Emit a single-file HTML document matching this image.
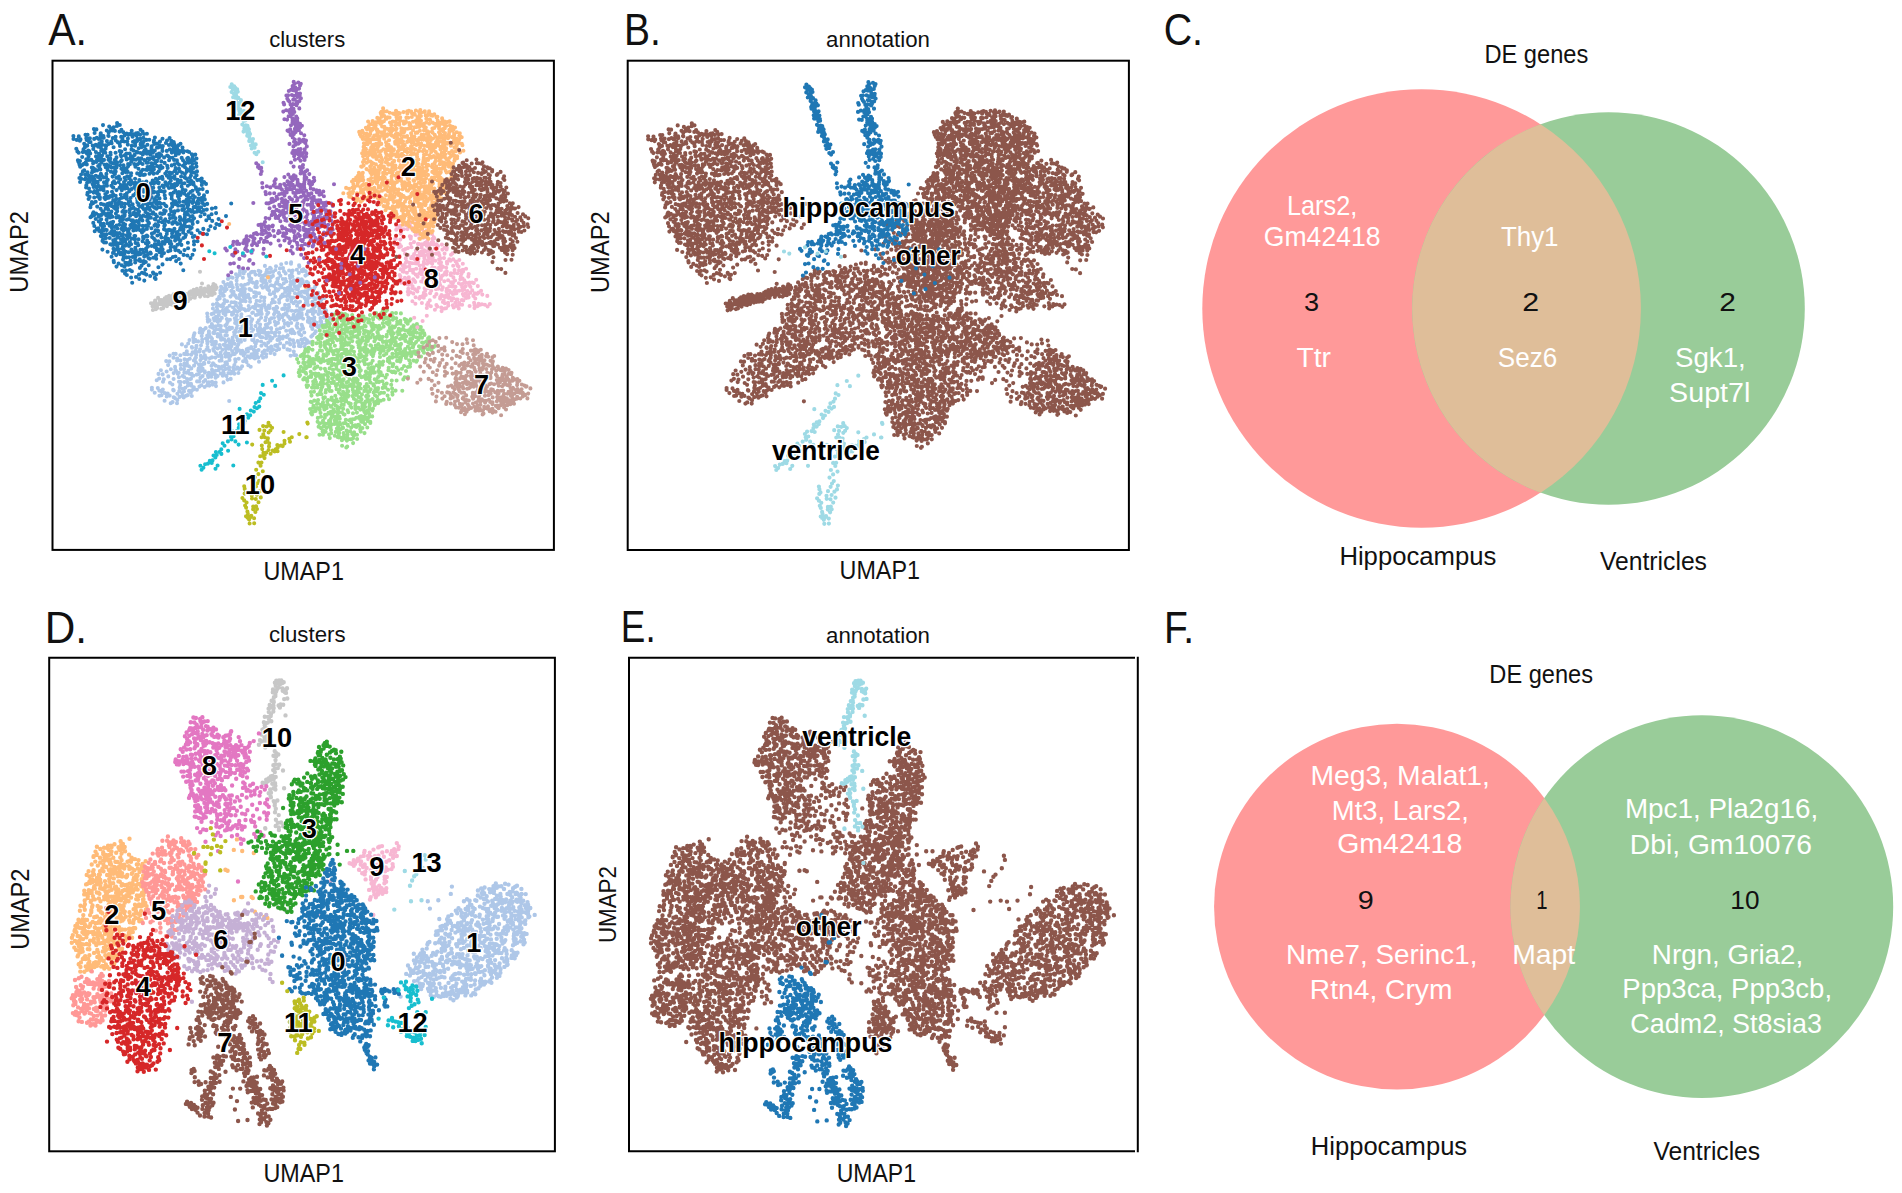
<!DOCTYPE html>
<html lang="en"><head><meta charset="utf-8"><title>UMAP clusters, annotation and DE genes</title>
<style>html,body{margin:0;padding:0;background:#fff}body{width:1902px;height:1193px;overflow:hidden}svg{display:block}</style>
</head><body>
<svg width="1902" height="1193" viewBox="0 0 1902 1193">
<defs>
<path id="a0" d="M107.5 223.2h0M193.3 201.4h0M97 159.6h0M134.6 184.3h0M185.1 237h0M161.3 161.4h0M119.3 224.8h0M143.3 238.5h0M90.5 217.2h0M196.5 166.6h0M139.1 225.2h0M131 180.4h0M179.9 243.3h0M186.8 169.1h0M154.1 191.9h0M80 161.1h0M145.7 236.4h0M110.8 171.8h0M174.3 144h0M129 229h0M165.7 236.9h0M204 195.4h0M171.9 236.9h0M157 143.6h0M128.1 203.8h0M188.8 162.7h0M157.9 231.2h0M131.7 130.7h0M110.9 222.5h0M98.6 216.8h0M147.5 205.5h0M140.6 188.4h0M116.4 177.7h0M197.3 180.1h0M184.9 174.1h0M199 194.1h0M171.2 211.5h0M86.3 185.4h0M129.7 205.7h0M90.2 153.5h0M99.9 159.5h0M157 250.3h0M204 204.6h0M132.4 182.7h0M101.4 214.9h0M142.8 154.5h0M145.3 269.5h0M137.8 152.4h0M153.3 173.1h0M103.6 152.6h0M107.6 251.7h0M147 186.9h0M124.7 214.9h0M168.2 156.3h0M121.9 243.2h0M130.4 134.1h0M86.8 164.4h0M86.7 140h0M129.9 242.1h0M146.1 248.6h0M116.1 242.6h0M123.1 259.6h0M139.9 161.4h0M142.8 182.4h0M187.4 255.5h0M215.6 207.7h0M94.7 231.3h0M100.6 208.7h0M111.3 231.9h0M136.1 216.3h0M97.5 181.8h0M131.5 238.8h0M175.7 155.2h0M112.6 176.6h0M103.4 211.5h0M185 167.2h0M179.9 217.1h0M120.3 179.3h0M166 230.3h0M131.4 220.4h0M171.7 198.6h0M96.1 213.5h0M116.5 167.6h0M103.4 235.6h0M150.6 169.9h0M169 188h0M167.5 185.8h0M78.3 161.5h0M133.5 150.6h0M104.6 164.8h0M115.1 168.9h0M203.8 210.1h0M117 125.9h0M141.4 147.2h0M167.2 155.5h0M114.3 227h0M125.2 242h0M145.8 262h0M153 272.6h0M97.7 182.7h0M142.5 249.8h0M130.9 156h0M162.1 147.9h0M137.9 133.1h0M153.9 169.3h0M175.1 152.2h0M111.8 233.9h0M138.7 222.8h0M145.8 149.9h0M179.4 201.9h0M135.7 252.1h0M87.8 181.7h0M169.1 229.9h0M152.2 171.5h0M112.1 230.8h0M190.8 167h0M184.8 223h0M211.9 208.6h0M193 195.3h0M135.4 256.4h0M137.9 209.8h0M197.6 222.1h0M159.5 198.4h0M85.1 151.8h0M124.5 215.9h0M131.1 244.2h0M148.5 222.3h0M202.6 189.1h0M162.4 242h0M122.9 234.4h0M155 240.1h0M196.1 189h0M191.8 154.2h0M146.9 228.9h0M167 140.6h0M179.9 171.2h0M121.8 265.2h0M151.7 197h0M158.6 221.4h0M177.5 244.8h0M191.2 172.2h0M124.4 207.1h0M184.4 183.3h0M102.2 144.9h0M101.6 142.5h0M128.5 264.8h0M147.8 162.7h0M124.9 239.5h0M183.4 229.6h0M126.2 229.6h0M103.5 188.1h0M97.9 196.7h0M143.2 215.6h0M97.2 206.6h0M76.3 148.7h0M137 198.3h0M82.2 157h0M116.2 249.4h0M162.2 242.9h0M113.1 221.7h0M185.4 163.6h0M156.2 182.3h0M111.4 211.6h0M178.9 153.6h0M174.5 150.4h0M103.5 223.9h0M101 148.2h0M106.2 206h0M194 241.4h0M145.8 243.2h0M151.5 148.3h0M138.5 228.6h0M157.1 161.1h0M91.9 172.8h0M105.6 148.8h0M111.2 141.5h0M135.2 259.9h0M116.2 255.1h0M125.6 180h0M207.2 203.9h0M124.4 253.7h0M153.8 273.8h0M183.3 152.5h0M181.6 186.5h0M100.5 135.4h0M96 156.4h0M119.5 143.8h0M87.8 138.7h0M162.5 264.4h0M183.5 238h0M105.3 199.1h0M103.6 204.6h0M164.3 226.1h0M142 232.6h0M146.7 203.5h0M125 273.6h0M140.8 172.5h0M175.6 168.1h0M129.7 237h0M113.7 127.3h0M79.9 140.8h0M197 171.4h0M140.2 139.2h0M123.9 186.3h0M138.2 245.3h0M164 192.1h0M106.5 234.3h0M102.8 160.7h0M120 145.9h0M148 246.6h0M119.5 233h0M131.2 173.3h0M198.2 207.2h0M151.9 233.6h0M114.1 231h0M179.2 151.9h0M138.5 254.5h0M146 255.5h0M77.4 151.4h0M107.8 179.7h0M128.7 183.1h0M119.5 203.2h0M120 198.8h0M85.8 162.6h0M87.1 182.8h0M191.7 227.8h0M186.1 178.4h0M113.8 252h0M106.7 196.2h0M111 162.4h0M139 260.4h0M120 165.3h0M188.6 194h0M161.5 246.9h0M191.6 181.1h0M146.9 133.8h0M160.3 213.4h0M194 244.5h0M149 195.1h0M174.2 247.1h0M146.7 162.7h0M122.3 173.3h0M146.3 250.9h0M173 215.2h0M159.3 187.6h0M169.8 149.4h0M90.9 204.8h0M203.3 228.9h0M172.1 233.6h0M164.4 243.7h0M177.7 181.8h0M174.6 171.1h0M189.2 226.5h0M147.5 213.8h0M125.1 224.5h0M113.3 245h0M161.3 191.1h0M188.3 205h0M126.7 185h0M135.2 209h0M148.7 265.2h0M196.8 211.7h0M200 232.8h0M179.5 234.5h0M146.9 153.7h0M82.8 152.1h0M89.1 141.9h0M160.1 272.8h0M142.6 241.2h0M134.3 164.1h0M117.6 244.2h0M126.7 159.4h0M165.5 240.2h0M86.3 159.2h0M125 188.6h0M171.8 187.5h0M201.5 198.1h0M135.6 242.9h0M131.9 271.3h0M109.7 238h0M129.4 134h0M132.5 257h0M99.9 197.4h0M126.7 198.7h0M140.6 253.9h0M191 175.6h0M139.9 206.5h0M81.3 178.9h0M135.2 262.5h0M153.9 207h0M150.8 183.2h0M173.1 222.1h0M129.8 270h0M114.9 130.9h0M141.5 265.8h0M129.8 234.1h0M197.5 241.3h0M79.4 178h0M134.9 239.4h0M162.5 167.6h0M102.5 150.9h0M99.8 198.9h0M92.9 167.7h0M184 209.4h0M99.4 167.6h0M150 203.3h0M123.1 219.2h0M169.9 243.6h0M142.8 196.7h0M125.3 197.4h0M114.8 160h0M131.4 249.5h0M84.8 147.4h0M85.1 174.5h0M121.1 239.7h0M135 255.7h0M165.8 184.3h0M97.8 160.5h0M140 175.3h0M203.8 196.6h0M146.3 152.9h0M147.3 220.6h0M128.8 201.6h0M154.9 244.1h0M177.6 146h0M188.1 211h0M115.7 171.6h0M163 221.3h0M123.6 257h0M124.6 177.8h0M126.5 153.5h0M93.7 181.1h0M115.1 200.3h0M159.1 153.6h0M90.5 176.5h0M170.4 250.5h0M103.7 137.8h0M178.9 192.1h0M113.9 262.2h0M194.2 172.6h0M128.1 166.3h0M117.1 123h0M139 252.5h0M123.5 249.5h0M101 157.2h0M121.6 188.5h0M121.5 220.9h0M193.4 168.1h0M165.9 143h0M192.5 216.1h0M76.8 139.9h0M106.7 164.5h0M88.6 156.6h0M207.1 191.9h0M110 217.5h0M142.8 169.8h0M140.1 134.7h0M160.3 168.7h0M119.7 151h0M157 216.5h0M197.6 230.3h0M147.6 246.2h0M110.3 244.2h0M143.8 261.1h0M199.8 211.1h0M180.4 228.1h0M131.7 145.8h0M143.2 175h0M123.3 230.5h0M121.5 141.2h0M165.3 173.5h0M113.2 172.3h0M174.1 187.2h0M183.3 230.1h0M126.4 257.4h0M138.5 168.8h0M98.9 194.4h0M160.3 249.4h0M132.1 224.4h0M97.1 193.4h0M122.4 211.7h0M177.4 193.5h0M92.7 145.5h0M182.2 172.7h0M181.6 205.8h0M115.6 136.8h0M182.9 165.7h0M139.2 193.8h0M103.5 230.5h0M140.7 153h0M174.7 211.3h0M162.5 138.7h0M145.7 225.7h0M100.4 169.5h0M154 140.6h0M112.7 187h0M151.7 146.3h0M107.3 192.1h0M167.2 231.3h0M120.8 194.6h0M116.3 198.7h0M192.5 202.9h0M107.3 204h0M144 151.6h0M150.8 217.7h0M138.7 148.2h0M176.1 203.3h0M84.8 179.2h0M185.8 234.9h0M148.6 242.7h0M162.3 213.9h0M141.1 142.5h0M199.6 179.8h0M94.7 186.5h0M97.7 190.4h0M124.3 141.5h0M146.8 235.6h0M115.2 183.2h0M86.3 138.3h0M157.1 179.8h0M157.6 226.6h0M125 227.5h0M141.2 171.6h0M111.2 203h0M175.4 256.5h0M154.8 150.6h0M141.3 197.1h0M124.8 155.4h0M142.5 201.2h0M126.1 270.6h0M108.5 143.9h0M144.2 256.6h0M189.4 170.5h0M142.5 207.4h0M92.7 184.2h0M131.2 208.4h0M127.7 171.9h0M132.6 204.3h0M140.5 261.1h0M121.6 160.2h0M182 183.5h0M135.9 250.3h0M133.4 207.6h0M208.5 230h0M165.8 220.9h0M208.5 216.4h0M191.5 233.3h0M175.9 222.4h0M180 229.7h0M103.6 190.3h0M175.1 240.6h0M135.7 254.2h0M187.9 214.5h0M130.9 175.6h0M156.2 197h0M120.7 154.9h0M122.3 253.9h0M78.7 152.8h0M136.5 151.7h0M125.7 211.6h0M143.6 263.2h0M126.7 168.6h0M200.5 199.7h0M170.3 259.1h0M198.7 203.3h0M94.2 197.5h0M140 230.3h0M170.8 180.7h0M126.6 244.3h0M121.4 151.5h0M107.3 156.2h0M132.5 252.4h0M142.7 225.8h0M122.4 197.6h0M93.5 212.2h0M132.2 282.7h0M171.7 165.4h0M194.2 250h0M116.5 190.1h0M150 210h0M175.3 190.5h0M137.4 200.6h0M131.6 189.1h0M169.7 172.6h0M191.7 171.6h0M164.1 157.4h0M188.1 202.2h0M181.8 226h0M142.4 220.4h0M102.5 240.9h0M121.6 235.5h0M166.8 233.9h0M159.6 252.3h0M88.6 178.9h0M115.9 213.5h0M154.4 207.6h0M105.3 152.7h0M168.2 238.8h0M155.5 214.6h0M94.9 169.3h0M196.6 175.3h0M174.6 164.3h0M129.3 178.4h0M160 141.5h0M174.9 178.8h0M206 183.9h0M154.6 219.1h0M179 168.7h0M140.6 129.8h0M108 165.2h0M86.9 153.6h0M158.4 267.3h0M135.6 193.5h0M161.2 155.1h0M88.5 175.3h0M104.1 226h0M120.9 161.4h0M90 177.8h0M152.4 213.8h0M187.1 220.9h0M110.8 130.5h0M106.4 215.7h0M189.8 201.6h0M80.1 182h0M121.2 156.2h0M175.1 204.1h0M190.5 258.1h0M187.4 207.2h0M122.9 246.4h0M165.2 198.3h0M111.3 185.8h0M192.8 155.5h0M189.1 152h0M123.2 223.2h0M102.1 230.2h0M218.6 219.1h0M101.3 162.5h0M93.1 163.2h0M96.8 137.7h0M124.8 203.7h0M117.4 205.3h0M171.3 140.9h0M103.8 177.5h0M124.2 251.2h0M158.8 171.2h0M201.8 184.9h0M98.1 146.8h0M135.5 221.8h0M153.8 141.9h0M179 239.7h0M88.3 150.5h0M140.6 144.4h0M79.6 165.1h0M183.8 165.3h0M100 222.1h0M178.9 259h0M147.8 158.5h0M172.8 217.8h0M143 229.3h0M180.3 223.7h0M187.2 158.5h0M181.1 176.5h0M186.1 226.5h0M192.7 223.9h0M99.2 230.9h0M93.9 129.1h0M193.7 207.1h0M113.6 147.2h0M153.6 173.8h0M169.1 160.3h0M174.4 228.8h0M154.8 277.9h0M166.7 241.3h0M166.8 150.9h0M83.5 149.2h0M192.9 237h0M119.7 217.6h0M178.4 237h0M154.3 199.5h0M98.6 215h0M157.2 173h0M105.8 229.8h0M145.5 212h0M169.4 182.8h0M153.1 212.4h0M142 272.8h0M106 242.5h0M160.8 218h0M138.5 239.3h0M148 225.9h0M181.4 244.9h0M123.7 240.6h0M133.7 223.5h0M164.1 210.2h0M116.5 266.6h0M99.7 164.9h0M117.1 162.3h0M184.8 217.3h0M125.9 154.4h0M171.6 184.9h0M115.8 140.4h0M99.4 143.3h0M104 182.3h0M95.8 144.7h0M112.8 138h0M196.7 203.4h0M172.5 145.2h0M172 173h0M170.4 193.9h0M115.3 202.9h0M133.7 214.2h0M191.5 211.7h0M82.2 165.1h0M159.7 145.2h0M101.5 232.5h0M174.4 176.4h0M106.6 219.7h0M159.5 202.8h0M125.4 262.9h0M127.4 238.8h0M93 203.2h0M151.4 190.6h0M197.6 191.6h0M93.3 222.9h0M149 223.2h0M128.3 134.8h0M112.4 130.4h0M125.8 172.1h0M120.7 185.1h0M164 253.1h0M136 277h0M136.2 229.9h0M177.3 148.8h0M152.9 152.8h0M159.7 177.9h0M188.7 219.8h0M180.7 263.6h0M155.5 230.4h0M93.6 192.6h0M144.3 280.6h0M115 208.6h0M117.5 246.3h0M174.3 212.7h0M138.6 205h0M125.8 251.7h0M169.6 157.5h0M104.4 197.7h0M138.4 204.9h0M122.6 216.3h0M219.4 224.9h0M121.4 129.7h0M133.6 134.2h0M100.9 173.9h0M192.6 220.3h0M172 203.6h0M148.2 218.3h0M146.4 181.5h0M150.3 252.5h0M143.4 137.9h0M162.8 146h0M188.3 198.2h0M180.8 180.8h0M79.2 163.6h0M106.7 230.1h0M168.9 145h0M102.4 249.6h0M215 228.1h0M143.6 191.8h0M153.8 183.8h0M170.5 209h0M105.7 208.6h0M135.1 178.8h0M194.1 218.3h0M106.9 180.9h0M166.4 206.2h0M98.5 185.9h0M145.9 169.8h0M147.5 167.1h0M176.9 160.2h0M186.5 199.9h0M138.8 202.4h0M198.6 198.6h0M165.7 211h0M92.1 215.9h0M153.4 257.8h0M100.9 224.9h0M176.5 185.3h0M109.7 225.7h0M110.9 214.8h0M190.1 160.4h0M90.4 207.2h0M153 157.1h0M135.3 247.9h0M184.8 214.5h0M100.3 179.5h0M100.5 137.7h0M107 185.7h0M139.3 180h0M144 134h0M89.8 181.7h0M178.5 250.8h0M153.7 192.4h0M164.9 224.9h0M129.7 153.6h0M116.5 157.4h0M181.9 191.9h0M121.4 228.9h0M199.2 189.2h0M181.7 150.9h0M146.3 274.6h0M110.3 166.4h0M168.8 221.9h0M178 210.4h0M96.4 161.9h0M132.9 220.2h0M110.6 154.7h0M169.8 175.8h0M118.6 263.6h0M117.3 228.5h0M176.9 173.3h0M137.3 192.1h0M130.4 225.3h0M94.6 133h0M107.6 169.9h0M177.7 179.8h0M135.3 165.1h0M154.5 201.3h0M120.1 220.9h0M171.7 195.7h0M90.5 142.1h0M107.7 216.3h0M183.9 151h0M95.8 175.8h0M114 207.7h0M124.5 135.4h0M193.3 199.1h0M148.8 188.8h0M149.8 199.5h0M88.6 199h0M111.5 206h0M188.1 248.2h0M162.1 176.7h0M144.7 146.7h0M104.8 234.5h0M104.1 186h0M124 182h0M127.4 188.1h0M123.5 165.4h0M138.3 158.3h0M148.5 258.1h0M156.4 208.8h0M139.1 211.6h0M111.5 244.8h0M130.6 198h0M180.5 240.2h0M200.5 216.2h0M98.8 221.4h0M113.3 240.3h0M115.3 163.1h0M130.6 184.6h0M216.1 213.1h0M135.1 145.8h0M177.5 184.2h0M158.7 182.6h0M91.3 159.9h0M167.2 165.7h0M190.4 220.8h0M112.4 216.7h0M185.1 212.8h0M125.8 211.5h0M113.3 187.6h0M111.6 167.6h0M204.6 214.3h0M155.4 161.1h0M109.2 126.6h0M162.5 185.5h0M148.1 254.1h0M194.9 197h0M192.5 254.7h0M91.8 167.5h0M209.2 218.2h0M108.6 136h0M204.5 205.1h0M113.7 167.5h0M113.5 242.2h0M141.3 158.4h0M82.9 171.4h0M126.8 275h0M183.2 232.6h0M89.9 138.2h0M122.2 248.6h0M113.7 260.9h0M137.2 173.4h0M171 230.4h0M126.8 219.8h0M116.4 165.2h0M156.2 258.8h0M193.7 184.6h0M84.2 143.7h0M85.8 178.1h0M153.9 238.6h0M132.2 227.4h0M80.2 166.8h0M107.5 168.2h0M211.6 214.2h0M126.5 158h0M186.8 195.7h0M179.2 182.5h0M143.7 230.8h0M99.4 145.3h0M155.2 163.1h0M134.6 154.9h0M129.6 209.9h0M201.7 182h0M201.7 178.7h0M133 141.7h0M164 229.3h0M181.7 157.9h0M110.5 152.8h0M126.6 235.3h0M195.2 206.9h0M136 159.7h0M166.7 171.9h0M183.2 206.1h0M119.4 243.2h0M173.6 148.2h0M146.4 139.9h0M142.9 189.9h0M119.5 187.8h0M135.5 225.7h0M105.7 167.3h0M94.3 226h0M139.5 163h0M183.3 270.2h0M144.4 273.4h0M150 158.4h0M93.6 186.9h0M115.7 140.2h0M117.2 211.3h0M196.1 163.2h0M118 178h0M199.6 207.2h0M155.3 219.4h0M117.3 208.3h0M144.3 160h0M156.4 200.7h0M167.7 168h0M118.6 249.2h0M98.2 166h0M204 182.1h0M206.8 209.6h0M184.9 201.6h0M202 200.6h0M162.4 150.9h0M102.7 227.2h0M140.4 249.9h0M151.6 163.3h0M161.6 255.9h0M164.2 213.4h0M106.2 177.2h0M116.8 245.3h0M150.4 186.9h0M94.5 179.6h0M117 235.6h0M203.4 233.8h0M96.5 187.2h0M135.2 236h0M192.5 210.3h0M183 160.3h0M196.5 158.5h0M156.3 255h0M127.2 141.6h0M100.1 176.1h0M95.7 201.8h0M93.3 149h0M123.4 238h0M134.6 141.1h0M134.4 236h0M184.7 162.4h0M197.6 201.2h0M126.7 133.6h0M154.4 143.9h0M195.3 154.6h0M174.1 159.9h0M173.5 192.6h0M171.7 177.5h0M160.8 165.9h0M172.9 257h0M119 201.5h0M160.5 203.5h0M177.5 163h0M110 233.3h0M115.5 159.5h0M110.1 161.5h0M180.3 252.3h0M123.3 210.7h0M159.5 167.6h0M117.6 142.1h0M139.9 183h0M159.5 191.1h0M107.9 205.7h0M130.5 260.7h0M157.4 235.5h0M139.8 196.6h0M113.5 248.8h0M149.7 258.8h0M153.6 167.6h0M113.2 200.2h0M135.1 187.2h0M101.8 141.2h0M116.6 225.5h0M175.6 170.9h0M132.6 136.7h0M113.3 163.3h0M97.9 176.9h0M134.6 251.2h0M87.3 194.6h0M103 239.3h0M139.1 215h0M156.5 156.2h0M95.7 219h0M119.8 125h0M194.1 212.3h0M108.1 209.3h0M88.8 160h0M174.5 236.9h0M115.6 152.7h0M132.2 156.9h0M155.6 278.9h0M104.6 213.8h0M212.2 220.9h0M87.6 134.8h0M195 177.4h0M133.7 159.4h0M158.2 225.2h0M108.3 135.7h0M173.7 215.3h0M112.3 223.4h0M149.5 173.7h0M157 147.5h0M152.1 237.1h0M154.8 247h0M129.9 164.3h0M183.4 201.8h0M108.6 132.5h0M124 184.4h0M133.3 195.4h0M164.7 162.9h0M173.7 185.5h0M139.9 267.9h0M141.7 216.9h0M137.6 164.3h0M137.6 243.2h0M126.6 196.3h0M90 191.5h0M185 219.6h0M184.5 250.1h0M149 214.4h0M180.5 143.7h0M153.5 158.9h0M170 218.2h0M140.3 138.8h0M155.9 255.8h0M81.1 174.6h0M135.7 187h0M190.3 184h0M91.9 179.3h0M106.2 145.9h0M101.3 143h0M139.3 279h0M146.4 208.9h0M105.4 145.2h0M157.2 166h0M83.9 163.9h0M129.3 191.2h0M139.7 259.4h0M166.9 175.8h0M210.5 226.2h0M119.6 131.6h0M168.2 251.2h0M121.4 206.4h0M190 197.7h0M195.8 187.2h0M108 213.3h0M145 160.5h0M130.1 215.7h0M184.4 193.6h0M172.2 206.4h0M189.9 209.9h0M87.3 145.6h0M160.5 207.2h0M115 233.2h0M113.4 235.4h0M169.3 214.8h0M158.9 154.7h0M91.9 202.1h0M125.1 149.2h0M122.4 138.2h0M129 246h0M158 207.4h0M164.7 191.2h0M109 197.6h0M102 155.5h0M121.8 190.3h0M104 159.9h0M145.3 197.2h0M182.7 189.2h0M184.8 177.4h0M121.8 160.2h0M143.7 203.7h0M204.8 199.4h0M143.8 252.8h0M182.2 209.9h0M89.6 196.9h0M99 153.8h0M105.3 194h0M147.1 170h0M77.9 160.2h0M179.9 220.3h0M157.2 203.7h0M151.5 146.9h0M216.4 224.1h0M87.6 192.8h0M112.1 226.4h0M107.3 197.9h0M201.1 207.3h0M94.4 171h0M136.1 133.4h0M129 257.3h0M130.2 201.5h0M145.3 184.9h0M188.5 231.6h0M175.5 201.3h0M147.5 236.2h0M151.6 167.6h0M202.6 203.1h0M87.5 172.3h0M94.1 146h0M149.1 207.8h0M180.5 194.9h0M112 191.7h0M158.2 194.8h0M170.4 144.4h0M133.4 230.4h0M155.9 178.7h0M111.6 143.3h0M194.1 160.1h0M131.8 250.6h0M116.4 217.4h0M152.7 180.6h0M162 252.2h0M197.6 208.9h0M177.9 196.2h0M139.5 259.5h0M151.4 228.3h0M129.4 190.1h0M73.4 136h0M118.9 176.5h0M127.2 176.2h0M178.7 150.7h0M176.3 234.4h0M186.3 203.7h0M110.3 158.6h0M136.5 221.1h0M154 232.8h0M155.5 224.2h0M177.8 152.8h0M150.2 154.2h0M129.9 212.9h0M192.5 157.7h0M181.2 192.8h0M157.4 192.4h0M93.5 161.7h0M156.9 244.6h0M128.1 164.1h0M188 157.8h0M137.3 138.9h0M89.9 191.8h0M154.5 225.6h0M124.4 266.7h0M84.8 144.5h0M143.1 236.9h0M122.6 225.7h0M135.4 166.7h0M144.9 174.6h0M128.8 219h0M130.2 158.4h0M136 228.1h0M121.7 203h0M98.8 138.9h0M192 161.1h0M164.7 195.3h0M125 194.8h0M190.5 168.9h0M130.9 264h0M92.5 170.6h0M114.9 173.9h0M170.5 241.4h0M179 198.8h0M171.3 244h0M173.7 142h0M144.5 150.6h0M159.8 156.2h0M187.8 185.8h0M121.7 197.5h0M206.3 220.2h0M161.4 237.4h0M158.2 147.5h0M175.6 247.7h0M118.8 252.1h0M177.3 232h0M190.6 216.6h0M100.7 133.5h0M134.2 187.6h0M111 128.2h0M148.7 217.7h0M140.3 218.6h0M142.5 205.7h0M176.1 261.1h0M134 212.5h0M112.1 196.5h0M106.9 141.1h0M186.6 171.8h0M110.2 196h0M137.1 185.4h0M100.8 133.2h0M101.2 219.3h0M97 170.5h0M116.8 233h0M172.5 157.8h0M160 244.6h0M187.4 151.3h0M131.2 161.7h0M167.1 259.3h0M156.9 154.5h0M226 216.1h0M150.8 253.5h0M201.4 212.1h0M158.9 157.8h0M142.6 143.9h0M156.3 274.5h0M178.1 205.8h0M187.8 160.1h0M92.5 176.9h0M136.5 135.5h0M94.7 183.2h0M152.7 165.4h0M120.9 252.8h0M139.7 219.8h0M99 156.5h0M78.8 136.4h0M149.3 139.8h0M147.4 144.8h0M100.5 189.4h0M183.6 254.9h0M149 159.7h0M165.1 238.1h0M172.4 223.7h0M156.7 248.6h0M175.5 218.2h0M163.9 203.7h0M143.5 141.7h0M173.8 201.2h0M152.3 205.9h0M106.4 173.9h0M121.2 136.9h0M94.2 215.2h0M146.8 197.6h0M170.6 247.3h0M113 252.9h0M150.2 276h0M104.1 242.5h0M189.9 177.7h0M118.7 237.4h0M149.8 166.7h0M190.5 228.8h0M151.7 246h0M114 181.4h0M158.4 183.3h0M194.5 236.1h0M176.3 238.2h0M125.2 245.7h0M103.4 136.1h0M89 188.6h0M149.3 151.5h0M184.3 225.6h0M126.2 264.7h0M154.9 137.6h0M73.5 139h0M117.4 204.1h0M145.8 201.2h0M127.9 138.6h0M103.2 177.1h0M143.6 208.9h0M137.4 202.3h0M135.3 182.9h0M173.9 230.9h0M123.2 132.1h0M111.6 256.8h0M118.6 182h0M126.8 193.2h0M101.5 175.2h0M188.1 181.3h0M124.7 168.2h0M122.8 170h0M179.1 164.7h0M115.3 205.3h0M127.8 144.6h0M120.6 151.9h0M126.4 186.6h0M89.3 151.2h0M192.5 190.8h0M131.5 149.4h0M142.5 131.6h0M85.5 134.7h0M152.3 151.2h0M102.3 211h0M136.3 190.3h0M100.8 236.1h0M207 234.3h0M92.9 213.5h0M96.8 228.9h0M101 203.9h0M112.8 182.9h0M115.6 239.3h0M142.6 164h0M168.7 177.8h0M163.7 187.3h0M126.8 229.3h0M122.4 270.7h0M109.4 203.2h0M96.4 129.4h0M137.9 196h0M84.2 170.2h0M192.5 164h0M98.4 228.4h0M144.3 151h0M172.6 150.6h0M174.5 222.1h0M104.3 150.1h0M182.5 147.6h0M178.8 145.1h0M190.5 192h0M91.6 216.4h0M160.3 234.4h0M231.2 203.5h0M183 220h0M151.3 193.1h0M151.9 203.5h0M111.8 227.5h0M136.3 213.6h0M162.6 178.9h0M128.5 252.2h0M167.2 230.4h0M139 274.6h0M135.2 143.7h0M169.6 138.1h0M177.4 223.9h0M137.1 141h0M158.1 230.7h0M165.4 182.2h0M162.1 222.3h0M106.6 183.1h0M145.9 216.5h0M187.9 242.7h0M105.9 238.1h0M147.2 240.5h0M131.1 277.5h0M94.4 191h0M165.6 205.6h0M174.8 184h0M162.6 249.4h0M137.4 183.3h0M128.1 232.6h0M180.6 218.8h0M94.2 138.9h0M86.1 187.4h0M103 125.1h0M108.5 159.7h0M175 146h0M141.8 186h0M80.5 139.4h0M193.3 182.5h0M111.6 128.9h0M165.3 219.4h0M171.8 152.6h0M175.3 250.1h0M127.8 263.1h0M158.3 241.4h0M128.3 231.4h0M153.3 187.7h0M113.1 194.4h0M95.9 152.1h0M101.2 150.8h0M120.2 254.3h0M101 187.1h0M118.5 216.2h0M156.1 203.6h0M121.4 168.8h0M201.7 178.6h0M106.8 130.5h0M146.3 188.1h0M147.6 225.2h0M115.7 195.7h0M185.6 190.2h0"/>
<path id="a12" d="M246.4 131.1h0M237.8 91.7h0M241.7 103.3h0M239 115h0M236.5 106.7h0M240 102.7h0M243.7 120.9h0M253 139.1h0M237.3 105.3h0M240.2 109.6h0M235.9 100.8h0M256.4 154.3h0M247.5 132.9h0M233.9 93.8h0M247.5 125.7h0M250.9 145.5h0M251 140.5h0M230.3 87h0M239.4 118.3h0M249.3 137.1h0M245.2 118.7h0M242.7 112.9h0M237.6 102.8h0M252.7 146.4h0M236.8 108.4h0M235.3 87.9h0M242.9 116.7h0M262.7 162.2h0M244.3 128.9h0M254.6 147.8h0M238.8 106.3h0M245.8 125.3h0M244.1 125.8h0M242.5 118.6h0M241.3 114.9h0M235.9 91.5h0M251.7 148.5h0M248.9 129.2h0M243.9 111h0M236.2 95.6h0M249.8 139.3h0M233.1 97.2h0M250.1 134.1h0M258.3 151.8h0M241.3 111.2h0M231.6 92.1h0M254.6 152.8h0M243.2 105h0M231.7 84.3h0M231.8 86h0M236.4 99.1h0M237.2 89.3h0M243.5 131.6h0M232.8 89.5h0M239.4 111.2h0M255.7 144.4h0M236.3 97.4h0M253.3 144.2h0M248 127.9h0M235.8 93.8h0M245.8 127.2h0M249.2 141.1h0M252.4 142.2h0M240.9 100.1h0M242.3 124.5h0M238.3 97.9h0M249.2 132.4h0M241.1 116.6h0M244.7 115.2h0M246.4 128.8h0M245.4 120.4h0M234.2 86.3h0M240.1 107.5h0M247.2 135.7h0M240.6 113.1h0M241.4 105.3h0"/>
<path id="a5" d="M332.7 229.7h0M331.1 203.5h0M324.4 220.6h0M247.3 250.9h0M274.2 193.3h0M237.3 251.5h0M283 236h0M289.3 243.1h0M305.1 244.1h0M304 186.1h0M278 233.3h0M311.9 235.5h0M323.4 219.8h0M300 93.5h0M292.6 209.8h0M266.2 232.8h0M309.2 229.7h0M291.3 185.4h0M301 196.7h0M268.9 226.4h0M297 190.2h0M325.8 235.1h0M298.9 130.3h0M255 243.3h0M311.7 182.2h0M258.5 225h0M275.1 214.8h0M265 230.5h0M317.7 239.9h0M230.3 263.8h0M292.7 88.1h0M302.8 167.6h0M273.4 230.7h0M246.7 236.3h0M292.1 223.9h0M293.5 108.9h0M309.3 174.1h0M232.8 245h0M291.1 89.8h0M298.9 185.7h0M287.2 219.1h0M252.5 237.1h0M253.3 263.8h0M294 123.6h0M225.3 248.6h0M282.4 228.4h0M284.4 177.1h0M291 162.5h0M291.4 177.3h0M304.3 135.2h0M304.6 159.9h0M284.7 191.8h0M300.1 127.4h0M312.4 213.6h0M261.6 171.3h0M285.3 185.3h0M290.7 182.4h0M272.6 211.7h0M238.7 266.9h0M287.3 205.5h0M295.6 123.4h0M296.2 192.9h0M304.1 258.1h0M306.3 231.3h0M228.2 275.3h0M300.9 98.3h0M311.4 193.4h0M304.7 149.3h0M301.7 245.7h0M280.4 221.2h0M293.8 231.3h0M292.6 120.2h0M306.8 146.4h0M261 224.6h0M253.4 242.3h0M269.8 193.4h0M305.6 197.4h0M291.7 226.8h0M248 268.5h0M292.9 110.8h0M304.3 187.9h0M280.5 187.9h0M313.9 217h0M294.8 99.8h0M279.1 211.1h0M303.1 153h0M310.3 204.5h0M305 236.9h0M323.3 191.5h0M303.4 202.7h0M305.4 234.4h0M317.9 220.7h0M318.3 200.2h0M318.7 216.7h0M288.9 218.5h0M287.1 119.6h0M300.9 240.1h0M283.7 233.8h0M237.2 241.6h0M314.3 180.6h0M312.3 203.8h0M300.9 191.5h0M319.5 209.9h0M306.4 216.9h0M299.2 139.4h0M293.9 134.1h0M315.8 218.8h0M303 165.1h0M303.7 209.3h0M259.4 168.2h0M289.3 101.6h0M309.1 180.9h0M308.4 253.3h0M266.8 186.3h0M226.8 250.5h0M270.6 243.6h0M245.8 248h0M297.7 96.9h0M321.1 194.1h0M288.2 189.4h0M321.4 202.8h0M311.5 228.7h0M290 109.9h0M248.2 240.7h0M305.3 179.3h0M300.7 221.8h0M286.3 190.7h0M270.3 187.4h0M304.2 184.3h0M237.1 244h0M326.4 202.5h0M306.6 211.4h0M292 199.4h0M303.8 141.6h0M292.4 118.3h0M291.3 213.8h0M265.7 226.6h0M293.3 150.7h0M269.6 208.2h0M298.3 143.7h0M324.2 223.5h0M298.2 222.5h0M303.1 184.6h0M306.2 190.7h0M332 227.5h0M313.7 207.1h0M299.8 142.5h0M265.7 218.1h0M283.1 210.5h0M295.6 144.7h0M299.7 95.2h0M247 242.2h0M319.4 194.7h0M298 219.2h0M292.7 137.4h0M317.6 211.8h0M326.8 225.7h0M264.5 240.7h0M307.5 204.8h0M298.5 152.4h0M297.1 200.2h0M299.8 167.1h0M284 217.1h0M263.1 230.5h0M243.1 268.2h0M263.7 248.9h0M288.1 208.5h0M294.8 139.6h0M308.1 195.4h0M262.5 187.5h0M292.8 184.9h0M291.7 107h0M254 233.8h0M288.1 95.2h0M327.6 217.5h0M295.9 126.1h0M260.9 238.7h0M308.9 232.8h0M244.4 255.8h0M297.7 127.6h0M282 202h0M244.3 240.2h0M294 232.3h0M290.6 134.9h0M279.2 194.3h0M300.6 149h0M243.2 243.1h0M308.2 193.7h0M294.6 215.3h0M328.3 230.6h0M299.4 101.1h0M303.5 192.2h0M315.4 237.7h0M296.6 209.6h0M301 170.6h0M273.1 201.5h0M232.2 254.8h0M271.9 214.7h0M316.7 202.8h0M261.9 230.6h0M293.4 192.8h0M321.9 218h0M288.7 184.7h0M297 242.8h0M287.5 130.6h0M278.6 240.5h0M314.2 199.7h0M288.9 238.5h0M303.6 193.5h0M278.2 216.9h0M299.9 156h0M274.2 206.5h0M259 242h0M291.8 189.5h0M297.6 198.2h0M294 141.8h0M291.7 230.2h0M253.5 240.8h0M313.5 219.1h0M239.4 258.9h0M302.1 154.4h0M297.6 245h0M325 216.6h0M317.9 226.8h0M283.6 214.9h0M294.9 159.7h0M308.7 262.7h0M305.1 234.6h0M330.4 211.2h0M265 222h0M297.5 248.9h0M233.4 255.6h0M299 192.2h0M290.6 104.5h0M278.8 231.1h0M286.3 188.3h0M317.6 229.5h0M289.6 112.2h0M294.6 226.7h0M306.3 153.4h0M302.5 202.2h0M248.5 240.3h0M245.2 249.2h0M311.9 201.7h0M314.2 215.9h0M294.3 111.9h0M306 140.5h0M301 133.2h0M272.4 226.4h0M301.9 212.5h0M267.9 236.5h0M319.3 190.9h0M280 206.2h0M292.2 134.8h0M253.3 203h0M273.6 185.6h0M295.8 120.6h0M301.6 190.5h0M320.2 200.4h0M287.5 181.4h0M316.5 190.2h0M286.2 110.3h0M278.5 187.4h0M325.9 205.6h0M286.4 95.5h0M290.6 250.7h0M294.6 178.5h0M292.9 104.1h0M288.6 116.2h0M275.7 218h0M286.3 233.2h0M252 245.1h0M307.4 199.5h0M291.6 178.5h0M290.3 177.5h0M305.5 224.2h0M290.5 198.8h0M303.9 229.9h0M320.5 207.7h0M266.4 237.5h0M287.5 201.9h0M294.8 236.1h0M313.3 229.5h0M282 226.6h0M317.3 223.4h0M287.8 203.3h0M292.8 253.4h0M257.3 234.3h0M276.6 196.8h0M297.7 182.3h0M303.2 249.1h0M284.5 240.5h0M320.5 243h0M309.6 194.2h0M298.3 82.5h0M261.1 234h0M299.7 229.9h0M249.1 260.7h0M302.9 240h0M285.1 228.3h0M291 220.9h0M293.2 99.8h0M309 222.7h0M309.1 183.5h0M299.8 150.9h0M310.3 241.3h0M323.8 209.4h0M296.2 95.5h0M311.4 206.7h0M292.5 122.2h0M294.6 119.1h0M295.5 90.7h0M290.1 225.3h0M300.2 191.5h0M321 211.6h0M289.5 197.5h0M290.2 186.4h0M298.6 158.5h0M284.5 195.6h0M290.2 129.4h0M271.7 199.7h0M293.4 146.4h0M276.7 209.9h0M312.9 233.4h0M258 166.9h0M311.7 209.3h0M303.7 139.6h0M278.2 218.1h0M231.3 272.2h0M332.8 206h0M292.7 180.3h0M268.7 203.4h0M320 243.3h0M269.3 218.6h0M283.4 206.2h0M257.1 245.3h0M263.7 224.3h0M304.7 177.4h0M271.5 199h0M281.4 212.5h0M311.1 239.7h0M294.9 128.9h0M298.5 154.4h0M302.6 210.8h0M312.9 227.2h0M295.2 104.2h0M323.8 205.7h0M263.3 253.6h0M298.4 191h0M281.6 212.2h0M310 223.7h0M294.3 88.8h0M324 232.6h0M295.4 150.8h0M246.5 243.8h0M301.2 254.7h0M297.7 228.1h0M274.4 236.2h0M288.4 209.2h0M262.9 234.1h0M317.7 219.6h0M293.9 175.2h0M310.7 188.5h0M254.5 238.5h0M306.4 177.8h0M289 131.5h0M266.5 203.2h0M303.6 227.7h0M315 223.1h0M277.7 198.7h0M293.2 203.3h0M300.5 188.3h0M299.6 184.6h0M307.6 214.1h0M279.7 232.3h0M313.9 177.8h0M304.1 195.5h0M292.7 132.2h0M267.1 241.7h0M294.2 204.7h0M313.5 181.5h0M304.6 151.3h0M299.1 88.6h0M271.7 215.3h0M283.6 233.4h0M301.7 186.7h0M292 178.6h0M306.3 229.8h0M297 129.5h0M289.5 143.9h0M285.8 203.6h0M302.1 191.2h0M297.7 223.4h0M274.4 211.7h0M233.5 241.9h0M296.3 237.8h0M290.5 115.9h0M292.9 114h0M315.6 212.3h0M304.6 175h0M307.2 170.2h0M292.3 152.9h0M288.2 100.2h0M289.2 230.3h0M285.3 207.6h0M299.4 226.5h0M302.6 217.4h0M274.5 181.2h0M315.5 200.4h0M304.6 235.6h0M309.3 225.2h0M297.8 204.7h0M300.8 83.7h0M294.1 156.3h0M249.7 260.1h0M284.5 203h0M290.2 241.3h0M294.5 231h0M286.2 237.7h0M319.8 226.9h0M258.4 165.4h0M284.6 202.3h0M313.8 242.4h0M293.2 90.3h0M300 85.6h0M286.8 220.7h0M297.3 118.4h0M275.7 179.2h0M276.1 187.3h0M286.7 229.7h0M328.2 224.8h0M297.5 179.9h0M299.3 108.4h0M296.4 105.2h0M297.4 184.6h0M322.3 238.2h0M280.2 245.6h0M270.9 202.2h0M308 236.4h0M289.6 189.1h0M311.7 221.6h0M300.6 160.7h0M295.3 214.2h0M233.9 263.2h0M304.4 181.9h0M321.8 222.6h0M291 125.3h0M299.6 205.7h0M288.3 174.5h0M297.2 103.6h0M246.3 238.4h0M305.4 171.5h0M303.3 209.4h0M294.2 240.5h0M296.8 93.3h0M286.7 192.5h0M295.4 87.5h0M305.4 142.9h0M294.1 96h0M251.6 252.7h0M291.9 95h0M296.7 89.6h0M326.1 213h0M295.7 132.1h0M295.5 202.6h0M280.2 184.8h0M296.2 210.7h0M313.8 196.9h0M283.5 102.7h0M279.8 215.3h0M298.4 149.2h0M246.6 245.2h0M260.8 174h0M286.5 212.5h0M239.3 244h0M293.9 188.3h0M307.3 220.5h0M292.4 208.8h0M295.3 196.3h0M294.3 186.5h0M298.4 124.8h0M274.8 183.5h0M285.2 233.9h0M250.7 236.2h0M324 203.1h0M242.9 255.3h0M319.7 236.7h0M270.2 235.3h0M275.3 200.2h0M304.6 178.9h0M334 184.2h0M265.5 192h0M261.2 167.9h0M302.1 172.4h0M303.5 157.3h0M297.2 101.7h0M279.3 204.9h0M311.1 198h0M328.3 228.8h0M284.1 104.4h0M316.7 192.3h0M256.2 233.1h0M252.7 250.1h0M287.3 98.5h0M293.6 166.6h0M313.3 245.2h0M269.1 233.5h0M281.9 193.6h0M262.2 183h0M302.4 241.3h0M296.8 226.4h0M301.7 140.5h0M268.8 228.9h0M294.7 83.8h0M299.8 235.9h0M314.1 242.3h0M312.1 184.1h0M306 156.6h0M289.7 213.9h0M293.7 81.9h0M272.8 225.5h0M284.1 214h0M302.5 205.4h0M320.4 223.5h0M294.6 237.7h0M296.2 142.9h0M326.1 210.4h0M285.3 220.2h0M304.2 200.2h0M310.4 185.3h0M263.9 242h0M292 246.7h0M317 210.6h0M288.8 91h0M295.6 176.4h0M312.7 246.5h0M300.5 153.4h0M272.3 198.7h0M284.2 184h0M332.6 223.4h0M292.6 86h0M300 123.7h0M301.9 125.8h0M323.9 196.3h0M316.8 221.2h0M265.9 194.3h0M290.5 230.8h0M283.3 111.6h0M330.1 234.1h0M294.8 210.4h0M284.4 119.3h0M300.6 173.4h0M297.4 121.5h0M294.5 219.7h0M297.4 219.1h0M332.6 216.2h0M267 227h0M320.9 213.8h0M331 220.3h0M285.2 200.2h0M235.4 249.4h0M308.4 245.4h0M296.3 116.6h0M281.9 198.9h0M261.7 227.6h0M298.2 234h0M308.8 233.6h0M281.9 189.5h0M313.5 189.4h0M296 153.5h0M318.1 203.4h0M304.5 223.1h0M256.3 163.3h0M314.7 225.3h0M234.8 252.4h0"/>
<path id="a2" d="M421.5 220.2h0M438.3 143.4h0M439.5 181.6h0M403.3 216.1h0M400.1 120.3h0M435.7 158.1h0M418.4 203.3h0M383.6 177.2h0M362.7 177.1h0M425.7 115.6h0M412.5 222.1h0M438.9 198.9h0M443.2 181h0M447.2 163.9h0M459.8 133.3h0M372.4 129.6h0M440.7 137.5h0M361.2 166.6h0M384.7 172h0M442.5 186.9h0M409.6 125.1h0M433.1 195.9h0M394 161.5h0M397.2 178.3h0M429.8 148.7h0M389.6 199.2h0M401.4 181.1h0M417.6 200h0M415.6 226.9h0M432.7 115.7h0M438.7 198.3h0M451.7 168.1h0M370.1 142.1h0M428.6 132h0M370.6 139.9h0M423.3 138.1h0M432.2 149.4h0M378.7 186.1h0M368.1 121.6h0M439.5 157.9h0M407.3 173.4h0M429 139.8h0M426.1 138.1h0M437.4 154.2h0M413.5 228.7h0M399.7 113.3h0M229.2 224h0M373.1 137.2h0M428.8 186.7h0M378.3 174.6h0M399.7 134.2h0M366.8 186.8h0M444.5 183.2h0M417.6 191.5h0M426 154.2h0M416.8 154.7h0M439.1 128.4h0M445.8 150.3h0M417.3 196.3h0M405.9 136.8h0M442.7 179.5h0M445.4 136.1h0M431.6 218.9h0M390.9 150.6h0M381.8 197.9h0M402.1 207.9h0M420.9 116h0M426.6 151.6h0M376.8 179.9h0M387.3 206.1h0M452 151.1h0M437.6 180.3h0M440.1 135.3h0M411.1 133.2h0M417.4 178.8h0M441.2 130.4h0M390.2 194.2h0M370.7 129h0M392.3 189.7h0M376.7 172.4h0M395.3 143.7h0M376.1 143.7h0M366.5 169.1h0M413.5 180.3h0M454.1 134.1h0M375.9 164.2h0M429.2 198.8h0M268 277.4h0M420.5 146.1h0M457.1 158.2h0M398.4 156.6h0M402.7 224.7h0M359.7 177.2h0M427.1 131h0M434.8 162.8h0M424.1 192.1h0M427.8 164.7h0M387.1 128.7h0M388.5 159.2h0M424.4 175.3h0M405.5 174.8h0M413.4 142.4h0M423.2 221.2h0M384.6 127.5h0M377.4 148.5h0M453.3 152.3h0M390.5 170.1h0M375.8 190.4h0M455.9 143.2h0M411 151.9h0M384.4 126.8h0M414.8 114.6h0M414.9 201.8h0M405.2 171.9h0M401.7 156h0M408.5 211.7h0M372.9 128.6h0M355.1 180.1h0M415.2 170.3h0M434.4 222h0M432.6 231.1h0M361.1 136.6h0M356.1 201.4h0M387.9 191.1h0M380.4 165.6h0M450.4 143h0M423.4 216.5h0M407.6 162.2h0M407.5 214h0M357.9 198.9h0M417.3 132.3h0M396.1 213.1h0M366.6 183.7h0M381.1 166.1h0M413.1 212h0M423.6 182.5h0M425.9 226.5h0M396.3 156.3h0M381.1 114h0M363.4 152.6h0M392.2 130.6h0M442.8 129.1h0M421.7 139.5h0M427.9 217.1h0M363.1 156.2h0M369 135.9h0M414.4 214.1h0M430.8 224.9h0M404.8 145.4h0M422.9 151.2h0M385.9 118.8h0M445.1 180.9h0M426.3 118.8h0M403.7 129.1h0M346.1 187.9h0M400.2 204.7h0M410.1 128.3h0M378.6 146.1h0M454.4 160.7h0M407.6 185.3h0M417.7 218.4h0M403.4 148.3h0M396.9 173.3h0M380.6 187.3h0M406.8 222.9h0M423.1 223.7h0M369 154.9h0M405.2 167.6h0M433.8 156.1h0M408.8 141.1h0M362 197.6h0M443.1 144.3h0M414.7 231.4h0M426.4 122.4h0M383.2 184.6h0M415.1 149.6h0M396.2 129.3h0M416.3 171.6h0M401.8 217.8h0M459.8 135.9h0M386.8 135.9h0M409.4 226.5h0M426.4 231.5h0M435.7 152h0M431.2 207.7h0M388.4 134.6h0M363.2 192.9h0M305.7 286.9h0M419.3 172.2h0M409.4 168.4h0M436.6 117.6h0M434.7 134.8h0M394.1 160.7h0M431.2 115.4h0M387.4 169.2h0M409 178.7h0M446 185.4h0M404.4 174h0M415 200.9h0M420.9 224.7h0M387.9 203.6h0M359.8 180.7h0M405.2 187.8h0M408.5 225.3h0M446.7 159.3h0M400.7 135.1h0M403.8 144.6h0M406.8 175.9h0M385.5 210.3h0M372.3 183.3h0M445.3 157.8h0M384.8 177.9h0M369.2 196.2h0M364.6 189h0M417.3 169.7h0M440.7 172.2h0M452.4 130.8h0M424.8 163.1h0M407 224.5h0M368.4 179.8h0M386.5 159.2h0M414.1 181h0M448.9 134.2h0M370.2 134h0M374.9 181.1h0M354 188.4h0M443.3 122.7h0M433.4 193.6h0M392.4 167.8h0M449.3 132.1h0M424 130.4h0M350.7 192.5h0M404.1 217.9h0M417.3 132.8h0M431 144.2h0M380.3 123.7h0M422.5 175.8h0M400.8 178.6h0M383.9 166.5h0M394.1 192.7h0M434.2 128h0M417.2 230.3h0M430.1 137.1h0M420.8 210.1h0M412.7 192.4h0M373.3 148.3h0M365.4 150.7h0M390 128.9h0M416.8 173.7h0M441.5 141.4h0M397.8 202.7h0M416.7 123.3h0M418.1 163.5h0M399.7 176.9h0M397.9 190.7h0M394.3 187.9h0M384.8 134.4h0M417.5 226.8h0M396 110.8h0M434.2 123.6h0M429.5 191.9h0M424.7 214.4h0M378.2 131.6h0M361 192.1h0M391.3 125.2h0M411.8 117h0M379.5 204.2h0M421 177h0M403.4 214.2h0M375.4 174.9h0M415.1 192.3h0M413.6 153.2h0M374.3 187.7h0M445.2 154.2h0M423.8 157.6h0M456.5 138.7h0M392.4 165.9h0M356.3 180h0M372.6 182h0M407.1 136.1h0M418.2 168.1h0M392.7 197.5h0M416.8 126.9h0M427.9 231.1h0M343.3 193.2h0M407.5 148.7h0M391.4 179.8h0M404.5 182.2h0M429.7 185.3h0M417.1 156.8h0M421.7 207.6h0M430.8 114.6h0M390.4 213.6h0M386.8 111.2h0M418.9 206.5h0M384.2 138.8h0M364.2 198.8h0M415.1 198.5h0M426.6 199.2h0M362.3 174.1h0M397.7 204.8h0M390.7 158.5h0M380.7 112.8h0M421.9 198.6h0M421 179.5h0M382.4 112.7h0M411.5 173h0M392.3 165.3h0M383.4 149.2h0M396.5 206.8h0M419.2 126.9h0M436.2 166.2h0M432.8 213.2h0M391 147.4h0M385.6 149.5h0M419.9 130.7h0M417.9 141.3h0M366.7 133.7h0M451.5 155.2h0M395.8 168.3h0M399.7 193.9h0M431.8 146.9h0M386 142.2h0M432.9 183.2h0M449.4 129.8h0M396.3 201.4h0M370.2 166.6h0M395.6 189.4h0M384.4 116h0M427 237h0M394 209.2h0M424.7 180.8h0M428.4 189.8h0M410.8 149.4h0M412 175h0M444.3 149.4h0M396.6 214.3h0M414.1 149h0M408.8 110.9h0M409.1 198h0M431 157.7h0M425.3 205.2h0M349.4 195.1h0M368.5 153.7h0M360 134.4h0M377.8 197.9h0M444.7 125h0M353 191.4h0M431.2 205.2h0M403.5 196h0M432.3 171.9h0M369.3 170.5h0M387.5 134.2h0M368.7 161.3h0M379.3 141.1h0M362.1 185.4h0M372.7 170.9h0M440.2 141.2h0M389.8 171.7h0M417.9 144.1h0M440.5 149.5h0M378.4 156.4h0M445 133.1h0M412 137.6h0M439.3 168.8h0M403.3 155.5h0M372.3 150.8h0M403 141.5h0M422.3 228.2h0M386.6 118.8h0M399.1 155.2h0M440.6 155h0M430.4 195.9h0M401.1 138.9h0M446.6 172.5h0M434.4 173.7h0M437.4 116.8h0M371.2 147.6h0M395.4 129.8h0M428.5 165.4h0M409.3 162.4h0M390 122.6h0M395.3 169h0M394.2 184.7h0M451.1 144.6h0M411 146.4h0M404.4 131.3h0M416 176.7h0M427.7 226.6h0M431 212.1h0M383.9 121.2h0M400.8 198.1h0M415.7 215.4h0M434.4 169h0M419.9 238.9h0M445.1 164.1h0M434.1 210h0M397.4 114.5h0M424.3 232.4h0M411.9 209.9h0M386.1 187.7h0M432.6 122.6h0M440 188.5h0M439.3 160.8h0M350.2 192.6h0M431 221.5h0M437.7 120.6h0M413.4 188.1h0M426.1 178.2h0M381.2 167.7h0M381.7 162.7h0M416.4 144.9h0M399.7 202.1h0M420.5 213.8h0M401.8 143h0M369.7 194.6h0M441.9 198.5h0M411.5 193.7h0M359.2 131.9h0M363.3 180h0M420.5 218.5h0M405.3 185.8h0M418.8 226.2h0M367.1 129.5h0M442.3 123.8h0M362.6 132.2h0M376.8 183.2h0M437.6 172.5h0M371.6 174.3h0M422.3 164.3h0M377.5 181.6h0M437.6 157.3h0M404.7 150h0M441.8 162h0M434.5 144.8h0M419.3 138.1h0M381.9 121.6h0M440 146.5h0M419.8 192.1h0M396.5 128.8h0M417 223.9h0M349 188.7h0M431.2 185.9h0M401.2 171.3h0M422.3 194.9h0M390.7 188.1h0M397.9 154.3h0M437.9 125.3h0M370.1 191.1h0M451 163.5h0M395.1 141.9h0M367.7 144.1h0M426.2 232.6h0M379.6 137.7h0M449.9 125.5h0M385.6 152.2h0M404 222h0M459.2 139.4h0M449.2 158h0M439.4 186.6h0M415 186.5h0M401.3 194.5h0M364.4 145h0M378.8 192.1h0M408.1 172.5h0M356.2 177.5h0M381.9 177.8h0M429.3 211.4h0M400 160.7h0M389.1 208h0M435.5 218.5h0M433.4 226.4h0M413 121.8h0M358 175.7h0M398.1 112.8h0M391.6 176.6h0M400.4 220.1h0M392.8 206.3h0M383.3 134.7h0M455 127.5h0M427.9 145.9h0M388.5 200h0M439.3 194.9h0M363.1 180.5h0M432.4 128.5h0M411.4 169.2h0M424.2 236.4h0M434.2 179.3h0M420.9 183.4h0M382.2 159.9h0M394.2 217.8h0M377.3 117.9h0M372.9 153.6h0M379.5 118.9h0M389.7 191h0M428.1 215.4h0M416 160.5h0M435.1 147.4h0M427.2 170.1h0M392.2 155.3h0M359.5 174.3h0M440 134.3h0M376.6 170.3h0M431.1 216.8h0M434.1 215.7h0M436.6 198.8h0M395 183.1h0M421.2 143.5h0M433.3 150.1h0M387.6 186h0M379.5 151.8h0M443.7 191.2h0M440.1 122.9h0M449.7 171.9h0M389.6 196.7h0M413.3 205.6h0M419.1 195h0M420.3 110.1h0M388.6 144.7h0M358.9 180.3h0M411 217.2h0M380.3 155h0M392.4 198h0M383.1 108.2h0M424 210.9h0M399.3 124.7h0M379.8 169.8h0M429.4 227.7h0M421 120.7h0M393.7 202.1h0M416 184.9h0M381.6 116.7h0M405.5 215.4h0M433.7 206.7h0M381.8 122.7h0M436.6 145.6h0M424.2 145.8h0M380.9 132.2h0M398.1 140.5h0M392.5 186.4h0M422.9 171.4h0M389.6 117.5h0M441.8 152.8h0M380.4 136h0M374.1 189.6h0M357 193.4h0M389.1 155.4h0M376.7 130.1h0M416.5 231.6h0M386.4 154.5h0M403.3 121.5h0M453 163.7h0M417.5 117h0M398.5 195.1h0M407.6 158.7h0M440.6 177.7h0M413.8 166.1h0M400.2 117.4h0M456.8 145.2h0M442.7 163.4h0M371.4 188.7h0M381.2 202.5h0M374.2 167.7h0M367.6 188.6h0M460 152.4h0M426.5 186.3h0M409.8 160.3h0M418.5 230.4h0M394.5 196.9h0M408.2 117.8h0M406.4 117.6h0M439.4 125.2h0M430.1 208h0M435.9 136.7h0M448.6 161.5h0M448.2 138.1h0M445.7 170.7h0M387.6 147.6h0M425.3 161.6h0M415.2 210.7h0M413.4 167h0M447.9 142.9h0M424.4 111.9h0M390.5 182.9h0M363.9 194.9h0M412.1 159.9h0M374 196.8h0M419.3 216.7h0M414.5 195.9h0M362.8 139h0M388 150.2h0M424.8 111.2h0M430 183.4h0M437 192.3h0M365.8 148.9h0M443.3 138.5h0M385.9 195.3h0M405.3 206.9h0M432.1 150.4h0M416.8 173.2h0M452.5 165h0M446.9 143.7h0M381.3 143.9h0M426.9 133.9h0M441.3 180.9h0M395.6 134.4h0M389.9 172.2h0M376.9 135.5h0M433.2 167.3h0M383.6 206.1h0M439.5 184h0M434.7 146.5h0M367.5 144.2h0M402.4 163.1h0M398.1 124.4h0M422.2 125.6h0M408.1 190.6h0M444.1 152.3h0M419.4 119h0M375 177.9h0M425.4 192.6h0M409.2 217.5h0M421.6 173.7h0M430.8 138.6h0M397.7 123.2h0M386.5 173.7h0M375.2 149.8h0M399.3 180.3h0M409.9 188.6h0M409 214.8h0M399.2 123.1h0M432 198.7h0M433.9 204.2h0M395.3 213.8h0M407.8 128.8h0M371.8 162.6h0M395.4 165.5h0M373.3 163.5h0M427.5 190.8h0M381.5 111.7h0M427.6 200.9h0M404.8 151h0M443.2 131.3h0M405.7 157.2h0M447.4 137.9h0M425.8 127.6h0M446.2 148.4h0M415.7 132.9h0M356.8 200.4h0M403.1 167.6h0M386.4 207.9h0M423.3 161.4h0M424.9 173.9h0M413.9 138.5h0M375.8 125h0M384.4 131.1h0M417.6 125.2h0M386.5 145.5h0M402.1 146.6h0M401.7 203.9h0M448.8 136.3h0M389.2 164.4h0M444.1 162.6h0M449.1 152.9h0M410.5 196.4h0M367.4 152.8h0M410.3 201.6h0M419.2 182.6h0M431.8 177.9h0M388.5 144.7h0M419.4 115.4h0M432.1 131.5h0M409.2 123h0M427.6 212.5h0M390.2 191.7h0M376.9 139.1h0M429 136.7h0M404.9 160.9h0M383.4 111h0M434 197.9h0M370.4 161.5h0M406.6 207.5h0M401.3 163.1h0M374.3 135.6h0M455.8 151.3h0M407 190.4h0M441.8 135.2h0M388.3 164.7h0M392.7 128.9h0M463.4 150.8h0M398.5 146.6h0M424.8 186.2h0M392.5 162.5h0M381.9 183.6h0M423.9 123.9h0M407 164.3h0M405.1 123h0M454.9 158.5h0M385.7 162.1h0M410.5 155.6h0M369.7 188.2h0M439.8 164.2h0M363.4 150.6h0M405.6 197.9h0M428.9 228.8h0M391.8 135.6h0M407.3 152.3h0M437.1 140.2h0M415.9 164.9h0M397.9 151.6h0M461.7 137.2h0M435.4 171.3h0M399.8 139.5h0M397 182h0M422.5 237.3h0M373.4 144.7h0M382.1 126.5h0M409.2 182.5h0M430.9 156.7h0M399.2 204.2h0M371.6 164.8h0M433 138.5h0M415.1 190.3h0M423.5 134.9h0M393.9 154.2h0M370.7 180.7h0M414.7 184.8h0M398.7 201.1h0M383.1 172.9h0M378.7 172.9h0M393.9 150.1h0M415.4 212.2h0M393.1 113.6h0M408.7 220.9h0M426.9 146h0M400.9 196.7h0M429.5 155.2h0M363.6 165.4h0M419.2 151h0M444.5 192.6h0M430.2 143.7h0M433.5 189.6h0M413.5 194.4h0M395.5 175.8h0M375.7 127.8h0M416.2 120.3h0M393.2 209.2h0M421 197.1h0M405.8 121.2h0M442.8 156.5h0M384.8 168.9h0M371.1 184.2h0M381.8 178.3h0M378.9 187.7h0M363 162h0M353.4 184.1h0M373 193.6h0M442.5 120.8h0M462.4 145.3h0M419.2 111.9h0M405.2 129h0M434.2 177.8h0M411.7 186.6h0M431.4 232.6h0M383.2 175.4h0M421.2 112.5h0M382.4 200.5h0M407.7 178.9h0M411.3 209h0M443.8 185h0M446.2 126h0M364.1 159.8h0M363.9 143.2h0M403.5 112.1h0M358.9 172.8h0M454.6 155.8h0M423.2 194.8h0M428.2 113.9h0M409.4 206.5h0M457.2 156.4h0M449.6 121.4h0M430.9 140.1h0M424 154.7h0M434.3 114.4h0M432.1 167.1h0M368.4 185.9h0M366.9 198.2h0M375.5 153.8h0M372.3 172.2h0M399.7 175.5h0M430.5 198.8h0M415.9 110.5h0M444.2 146.4h0M434.9 213h0M444.2 139.3h0M424 149.5h0M370.4 124.3h0M427.8 142.7h0M430.5 188.8h0M362.8 172.8h0M429.2 223.9h0M428.1 160h0M412.5 161.6h0M445.5 163.2h0M400.6 217h0M396.8 193.7h0M405 201.8h0M360.4 179.3h0M434.5 202.7h0M423.7 179.7h0M374.9 145.4h0M366 149.5h0M406 161.8h0M366.5 136.1h0M362.1 153.3h0M410.1 124.6h0M420.6 204.1h0M393.8 149.4h0M416.4 140h0M395.8 211.3h0M431.8 180.1h0M392.9 195.6h0M397.3 133.5h0M444.6 167.4h0M403.5 170.6h0M393.2 154.4h0M379.8 177.8h0M397.1 119.2h0M367.3 158.4h0M432.2 202h0M439.7 193.4h0M392.7 215.4h0M401.3 131.6h0M447.7 179.3h0M367 142.2h0M456.9 141.7h0M411.8 135.8h0M377.6 195.5h0M401.9 153.8h0M420.2 123.9h0M352 181.5h0M418.5 192.9h0M360.7 192.4h0M360.7 201.7h0M431.2 152h0M383.8 111.9h0M444.1 141.8h0M395.2 114.2h0M419.3 231.5h0M385.5 206.2h0M413.6 207.3h0M439 132.3h0M421 215.5h0M404 136.8h0M437.2 176.1h0M401.8 148.9h0M445 148.4h0M450.9 156.4h0M418.4 159.5h0M391.2 152.6h0M368.2 191.1h0M392.8 121.6h0M363.6 146.9h0M457.4 149h0M454.1 142.4h0M400.5 165.6h0M368.7 126.1h0M363.1 136.7h0M365.5 185.1h0M416.2 216.3h0M409.8 202.4h0M429.1 111.3h0M377.3 133.5h0M450.8 126.8h0M414.6 127.3h0M437.3 139.2h0M371.4 153.2h0M415 164.2h0M443.4 147.4h0M352.5 192.9h0M443.3 166.5h0M382 190.7h0M421.3 212.4h0M444.7 121.6h0M403.9 123.7h0M376.5 159h0M392.1 183.4h0M443.2 188.8h0M372.6 121h0M428.1 193h0M429.2 123.8h0M417 154h0M432.6 164.6h0M412.4 141h0M362.6 190.7h0M402.4 221.2h0M433.4 156.7h0M439.3 179.3h0M385 201.5h0M434.4 188.6h0M432.8 188.8h0M406.1 199.1h0M410.9 126.3h0M378.1 121.9h0M448.5 164.3h0M378.8 179.2h0M418.7 182.7h0M423.5 225.6h0M375 170.2h0M372.7 155.9h0M426.3 167.1h0M351.4 197.2h0M422.8 198.5h0M370.7 131.3h0M373.6 124.8h0M436.4 215.1h0M426.2 171.3h0M428.7 188.1h0M428.6 134.9h0M382.2 283.7h0M398.8 160.4h0M403.5 196.6h0M411.9 113.2h0M368.3 139.6h0M387.9 117.4h0M407.8 223h0M427.5 187.3h0M422 172.4h0M420.9 187h0M381.1 151h0M401.3 128.2h0M373.4 172.6h0M440.8 192.3h0M356.3 198h0M454 140.5h0M451.9 137.1h0M407 210.6h0M429.2 119.6h0M375.7 122.4h0M411.6 218h0M365.2 154.9h0M389.1 149.3h0M384.2 134.4h0M417 197.2h0M357.7 185.4h0M423.7 234h0M371.2 178.1h0M374.6 152.9h0M432.5 132.6h0M407.3 111.3h0M418.3 121.2h0M420.5 233.9h0M369.2 197.8h0M387.4 180.9h0M353.5 179.9h0M418.3 140.1h0M400.5 199.2h0M389.7 112.8h0M422.6 167.9h0M422 137.1h0M417.5 178.5h0M421.6 134.9h0M420 147.7h0M382.6 180.9h0M423.6 159.2h0M383.3 182h0M447.4 122.1h0M427.2 224.6h0M426.8 164.9h0M412.3 229.1h0M411.5 142.6h0M389.2 130.2h0M377.4 129.8h0M425 182.1h0M435.5 161.2h0M403.7 132.7h0M438.4 199.9h0M396.9 133.3h0M398 172.5h0M438.7 177.4h0M367.6 127.5h0M349.2 196.8h0M408.6 138.9h0M445.1 123h0M454.1 135.4h0M374.9 192.3h0M417.5 220.2h0M451.4 177.4h0M372.3 145.3h0M453.4 130h0M399 150h0M428.4 238.7h0M429.8 180h0M391 132.6h0M399.5 142h0M403.6 219.6h0M418.3 175h0M444.8 128.2h0M381.1 157.3h0M430.3 215.9h0M394.1 207.1h0M401.9 210.6h0M379.8 198.8h0M404.7 158.2h0M374.9 139.3h0M387 162.7h0M430 119.9h0M444.9 165.4h0M446 142.5h0M411.2 111.5h0M348.4 193.5h0M414.4 136.8h0M454.5 147.4h0M378.7 166.8h0M413.7 171h0M389.8 190h0M419.3 167.3h0M395.3 125.4h0M361.9 166.8h0M440.9 191.6h0M373.4 156.8h0M407 156.2h0M442.2 168.6h0M386.1 188.8h0M393 200.2h0M433.8 193.3h0M455.2 158.1h0M411.8 146.2h0M398.7 189.5h0M405 165.7h0M402.7 186.1h0M451.7 127.8h0M357.8 183h0M392.3 212.2h0M365.6 197.8h0M406.5 183.6h0M418.3 151h0M427.5 158.8h0M391.2 208.2h0M428 174.9h0M436.3 123.7h0M394.3 189.8h0M440.8 172.2h0M424 171.3h0M415 218.9h0M403.4 210.6h0M415.2 224.1h0M402.3 184.3h0M365.9 139.4h0M436.6 125.6h0M427.5 115.3h0M439.8 173.8h0M385 186.3h0M439 126.8h0M362.3 130.8h0M428.6 208.6h0M378.3 143.5h0M433.5 226.2h0M413.4 218.8h0M440.9 158.1h0M414.1 113.9h0M409.3 182.9h0M449.3 162.5h0M394.3 137.3h0M354.9 186.6h0M360.5 187.2h0M399.7 167.6h0M421.3 169.6h0M414.9 207.9h0M402.7 189.3h0M448.8 166.6h0M418.5 221.7h0M425.8 196.5h0M363.9 133.4h0M426.7 140.3h0M413.8 153.9h0M391.5 153.2h0M394.5 114.1h0M404.6 165.5h0M362 200.6h0M439.4 174.2h0M421.6 228.4h0M384.1 184h0M420.6 204.7h0M377 130.1h0M419.1 188.9h0M384.9 189.5h0M397 136.9h0M424.8 218h0M425.3 221.1h0M418.5 187.5h0M402.4 208.8h0M395 121.8h0M410.9 185.7h0M418.9 199.5h0M373.2 139.3h0M452.1 143.5h0M371 169.4h0M397.6 143.9h0M397.2 153.8h0M396.8 123.6h0M384.7 199.2h0M403.4 205.4h0M424.9 188.8h0M366.8 162.7h0M409 197.3h0M385.7 157.7h0M425.7 204.1h0M459.3 135.8h0M352.4 187.6h0M370.1 150.2h0M442.1 118.4h0M392.3 173.9h0M396.7 178.6h0M378.6 151.6h0M436 142.3h0M407.4 113.4h0M443.7 142.5h0M412.8 160.8h0M423.5 139.6h0M436.6 200.1h0M455.2 138.6h0M421.8 186.4h0M429.3 231.2h0M416.4 214.5h0M364 184.2h0M375.2 155.4h0M413 130.1h0M424.1 126.7h0M411.6 139.3h0M424.2 201.8h0M398.2 206.7h0M365.9 127.7h0M407.2 141.9h0M414.9 144.2h0M459 142.9h0M396.2 140.9h0M391.1 147.4h0M424.1 195.8h0M389.1 140.3h0M376.5 176.8h0M361.1 189.6h0M398.6 143.2h0M384.1 137.1h0M396.5 117.3h0M423.4 204.3h0M379.7 161.1h0M452.5 126.9h0M450.8 145.7h0M432.1 179.8h0M461.8 143.7h0M370.5 172.4h0M431.6 223.7h0M423.2 125.3h0M409.6 175.3h0M456.8 132.2h0M393.7 182.4h0M436.6 169.6h0M392.8 171.6h0M397.3 217.3h0M404.5 197.3h0M432.9 183.6h0M438 137.9h0"/>
<path id="a6" d="M509.7 226.4h0M470.1 184.6h0M520.3 217.4h0M462.1 191.4h0M453.1 171.5h0M465.9 214.8h0M494.3 245.9h0M462.1 201.6h0M506.3 187.5h0M482.8 188.5h0M488 237.4h0M451.9 219.6h0M470.4 214.3h0M480.1 178.5h0M451.3 233h0M445.4 182.4h0M474.2 178.1h0M456.4 210.9h0M472.7 178.7h0M479.6 243.1h0M462.4 221.4h0M523.5 222.7h0M480.3 241h0M427.8 233.9h0M461.5 172.9h0M501.5 215.8h0M413.1 204.6h0M478.1 172.9h0M472.9 208.6h0M440.6 210.3h0M516 221.4h0M511.1 229.1h0M457.7 195.4h0M490.3 206.4h0M487.5 191.7h0M443 205.9h0M497.2 234.4h0M460.6 197.1h0M493.1 194.8h0M451.6 179.3h0M475.8 214.3h0M475.5 208.3h0M477.9 178.7h0M503.3 178.6h0M453.6 167.4h0M417.3 248.6h0M494.4 241.4h0M493 252.1h0M485.9 243.7h0M459.2 150.1h0M491 237.1h0M484.8 211.8h0M510.5 239.2h0M499.8 190.6h0M441.3 219.1h0M466.1 246.8h0M446.7 187.9h0M451.7 189.4h0M462.7 250.5h0M465.4 178.4h0M470.6 200.9h0M473.4 205.9h0M506.6 213.3h0M464.9 164.9h0M476.5 241.9h0M498.5 203.6h0M525.3 216.4h0M476.1 234h0M469.9 186.7h0M476.4 185.2h0M475 168h0M455.1 209h0M482.6 236.7h0M496.7 211.1h0M484.2 233.5h0M509.9 212.5h0M471.1 224.7h0M470 227.4h0M448 210h0M512.7 254.7h0M498.9 228.7h0M442.3 216.2h0M449.1 232.7h0M471.9 239.6h0M456.9 237.4h0M473.9 172.3h0M460.7 239.7h0M471.8 192h0M478.5 182.7h0M489.2 242.9h0M504.3 238.7h0M497.5 184.3h0M455.2 205.1h0M455.4 251.4h0M486.7 195.2h0M478 204.4h0M494.5 230h0M458.1 179.5h0M465 228.7h0M512.8 241.2h0M447.1 198h0M447.2 185.4h0M492.5 185h0M504.1 176.2h0M513.8 224.8h0M502.5 189.7h0M445.8 237.7h0M432 254.8h0M499.5 237.1h0M503.5 193.9h0M501.7 249.9h0M476.1 230.3h0M455.5 222.9h0M497.8 216.7h0M493.1 234.6h0M476 181.5h0M396.4 256.9h0M461.7 205.3h0M488.2 204.8h0M504 223.3h0M467.8 176.6h0M452.3 203.5h0M442.6 213.6h0M432 181.5h0M502.5 236.1h0M486.7 196.8h0M488.5 254.2h0M473 191.2h0M438.2 200.6h0M471.3 188.8h0M481.5 201.3h0M462.2 238.6h0M461 167.6h0M463.2 241h0M453.5 191.9h0M501.9 198.3h0M507.3 206.1h0M493.6 220.6h0M511.1 231.7h0M456.4 185h0M446.5 208.1h0M469.6 249.3h0M438 208.6h0M493.2 246.1h0M483.7 199.2h0M505.5 260h0M429.9 248.6h0M490.3 225.1h0M472.3 182h0M492.2 170h0M463 194h0M468.3 228.6h0M455.2 178.2h0M499.2 199.2h0M490.4 194.2h0M483 169.2h0M470.3 253.6h0M505 220.2h0M474.3 241.9h0M503.7 201.5h0M453.8 241h0M456.9 169.1h0M484.3 229.4h0M493.8 187.9h0M455.8 174.9h0M481.3 230.4h0M443.6 191.3h0M463.7 167.1h0M476.9 163.2h0M466.8 231.1h0M478.7 240.9h0M485.4 184h0M451.3 219.5h0M459.2 214.3h0M527.5 224.2h0M474.9 226.8h0M517.6 213h0M462 175.9h0M434.6 210.3h0M473 235.7h0M482.1 245h0M503.8 238.2h0M464.4 191.9h0M509.8 203.2h0M423.6 223.4h0M500.6 171.9h0M497.9 181.8h0M480.1 197.3h0M492.5 262.1h0M488 218.9h0M459.4 171.2h0M477 229h0M500.7 186.5h0M483.6 214.5h0M456.8 240.5h0M506.7 209.5h0M454.6 176.4h0M492.5 244.1h0M472.9 202.8h0M471.9 169.6h0M501.2 269.1h0M465.3 239.1h0M479.8 189h0M454.3 171.5h0M480.1 184.3h0M499.6 211.5h0M490.8 250.6h0M518.8 231.8h0M448.7 203.5h0M486.1 186.3h0M478.6 163.2h0M466 171.5h0M469.8 171h0M466.1 216.4h0M458.6 168.3h0M491.4 187.6h0M507 227.5h0M456 207.6h0M477.2 251h0M501.7 212.9h0M451.6 213.8h0M484.6 196h0M500.6 237.7h0M502.6 226.4h0M495.6 232h0M482 225.3h0M504.9 217h0M486.9 188.4h0M464.2 222h0M481.4 190.3h0M440.4 227.9h0M489.8 196.8h0M447.9 231.6h0M447.3 234.3h0M493.9 192.2h0M497.6 174.1h0M506.4 200.8h0M462.5 162.9h0M477 177.8h0M481.7 185.1h0M454.9 183.3h0M450.4 198.3h0M466.7 165.4h0M436.9 196.6h0M472 211.2h0M504.4 194.7h0M496.3 198.4h0M472.1 228.1h0M493.5 257.3h0M434.2 191.8h0M484 172.5h0M464.9 182h0M445.3 180.3h0M446.6 179.3h0M419.4 215h0M458.5 246.8h0M486.6 208h0M504.3 199.4h0M521.4 232h0M497.4 223h0M514.2 235.8h0M473.2 222.3h0M466.1 223.6h0M452.4 182.6h0M471.3 238.7h0M469.6 209.5h0M494.5 214.4h0M473.5 199.6h0M504 232h0M499.7 209h0M485.6 199.8h0M487.8 232.8h0M462.1 207.8h0M482.5 162.3h0M487 200.9h0M483.7 189.5h0M470.7 247.5h0M489.1 216.2h0M464.2 246.9h0M463.2 162.6h0M496.8 174.9h0M490.1 200.1h0M447.7 196.9h0M505.2 210.7h0M485.8 171.4h0M505.8 231.9h0M437.8 211.5h0M446 222h0M505.3 196.9h0M465.3 197.4h0M479.1 234.1h0M458.7 218h0M447.9 192.3h0M439.8 205.1h0M457.9 220h0M449.4 184.4h0M510.5 210.1h0M453.6 200.8h0M469.7 220.8h0M491.4 216.4h0M448.3 238.5h0M514.6 229.6h0M481.8 173h0M465.3 205.6h0M488.3 250.1h0M479.4 185.4h0M489.2 199.6h0M491 208.8h0M438.3 240.2h0M455.7 200.7h0M477.4 230.8h0M518.8 228.6h0M467.3 168.2h0M512.8 203.2h0M511.6 206.6h0M434.1 219.2h0M449.5 190.6h0M487.4 189.8h0M454 213.9h0M442 207h0M441.1 193.8h0M481.2 181.9h0M487.7 229.9h0M455.7 235.1h0M482.7 203h0M472.5 198.2h0M488.2 237.8h0M476 237.4h0M473.2 212.9h0M521.7 220.4h0M456.1 201.1h0M477.9 225.3h0M478.1 247.3h0M475.4 196.8h0M461.2 170.9h0M484.4 233.8h0M499.3 210.4h0M492.4 252.5h0M466.4 250.4h0M503.9 213.7h0M448.3 181.1h0M466.7 160.3h0M482.1 212h0M514.3 234.1h0M451.4 228.5h0M453 247.7h0M449.5 200.4h0M454.4 243.1h0M508.6 231.7h0M461.7 244.2h0M461.3 202.3h0M440.4 188.5h0M488.5 182h0M528.3 218.2h0M498 244.5h0M455.3 190.4h0M469.3 167h0M524.4 230.5h0M528.2 227h0M454.5 210.2h0M462.8 189.8h0M501.2 196.2h0M468.6 193h0M501.6 199.6h0M493.6 189.9h0M486.4 228.9h0M466.2 233.9h0M518.2 228.4h0M446.8 214.9h0M457.9 205.9h0M452.9 210.4h0M503.2 247.1h0M432.9 205.9h0M518.1 224.6h0M445 218.2h0M509.3 214.9h0M487.7 201.8h0M464.6 201.2h0M485.7 177.9h0M505 252.6h0M493.4 196.4h0M508.5 218.4h0M512.3 220.7h0M455.5 240.1h0M456.2 244.1h0M504.7 222.3h0M457.1 188.2h0M465.5 207.6h0M466.8 217.3h0M466 174.6h0M447.3 205.5h0M513.7 227.2h0M456.5 227.6h0M507 222.4h0M505.6 248.7h0M515 208.5h0M458.6 191.4h0M508.4 207.9h0M498.7 212.3h0M502.4 222.3h0M512.6 250.3h0M503.6 250.2h0M470.6 252.2h0M490.9 213.2h0M517.2 220h0M450.6 184.5h0M484 250h0M499.9 247.8h0M461.6 232.2h0M455.6 249.2h0M444 225.4h0M492.2 205h0M451.4 239.9h0M466 218.8h0M446.7 244.4h0M507.9 193.5h0M484 166.4h0M474 248.5h0M489.8 230.9h0M456.4 215.1h0M513.5 245.3h0M472 246h0M463.1 205.8h0M457.7 233.1h0M460.8 225.4h0M451.5 174.1h0M503.2 241.1h0M523 214.3h0M468.6 213.1h0M476.7 194.6h0M473.1 245.7h0M465.4 230h0M495.7 224.3h0M471.4 233.8h0M437.9 214.6h0M483.5 235.9h0M497.5 268.7h0M463.7 186.8h0M457 193.8h0M467 252.2h0M472.1 250.7h0M444.3 198.8h0M503.8 190.9h0M517.4 241.7h0M488.3 168.2h0M485.8 181.5h0M477.8 215.1h0M441.9 190.9h0M472.6 252.3h0M474.1 194.4h0M495.1 193.4h0M468.6 196.6h0M484.3 177.7h0M467.8 179.6h0M482.7 216.8h0M446.7 213.8h0M454 219.7h0M493 222h0M507.2 254.2h0M455.9 195.2h0M469.1 207.2h0M511.7 247.7h0M510.6 244.4h0M457.5 226.9h0M435.7 193.5h0M465.4 184.5h0M446.9 194.8h0M459.2 201.8h0M505.2 241.2h0M505.1 246.4h0M495.4 243.4h0M468.1 183.1h0M494.4 205.1h0M437.2 206.1h0M484.9 225h0M520.7 226.7h0M462.8 225.8h0M493.4 217.8h0M488.6 221h0M445.1 181.9h0M476.6 201.7h0M511.5 259.7h0M440.6 218h0M487.2 167.3h0M459 165.9h0M441.3 200.6h0M496.7 210.6h0M487.5 234.4h0M498.2 220.7h0M461.4 210.7h0M470.5 201.7h0M515.1 216.8h0M458.6 251.9h0M506.7 224.6h0M437.8 225h0M447.2 226.5h0M484.3 238.1h0M482.2 181.1h0M452.2 227.2h0M490.1 228.3h0M471.7 163.5h0M463.8 236.1h0M518.6 207.1h0M439.6 219.9h0M512.1 226.8h0M484.9 203.2h0M446.5 230.2h0M484.6 244.6h0M482.2 241.8h0M512 215.1h0M476.4 159.6h0M453.3 233.1h0M497.3 190.9h0M474.2 244.3h0M442.3 184.9h0M499.2 231.8h0M507.9 250.1h0M496.5 187.2h0M464.6 197.7h0M501.6 208.7h0M504.4 180h0M481.4 163.8h0M439.9 207.9h0M450.6 210.5h0M475 212.8h0M498.8 191.7h0M503.7 243.4h0M482.9 205.6h0M462.8 202.8h0M490.6 181.9h0M449.5 187.6h0M498.1 205.5h0M492.1 171.5h0M453.4 187.2h0M461.2 236.1h0M476.9 218h0M485.6 227.3h0M477.7 182.7h0M463.9 211.8h0M504.8 191.1h0M500 235h0M500.4 201.9h0M495.5 213.3h0M436.7 191.9h0M512.5 235.4h0M500.6 183h0M481.7 215.3h0M460.2 186.5h0M487.6 223.9h0M453.5 180.9h0M489.4 178.5h0M503.7 225.8h0M514.6 248.1h0M444.6 209.3h0M449.1 211.2h0M469.9 175.1h0M471.6 222.1h0M472.3 204.2h0M406.9 254.8h0M441.3 221.4h0M478.9 212.8h0M485.7 232.2h0M438.2 191h0M482.7 207.7h0M459.4 194.5h0M477.5 184.2h0M490.9 241.7h0M479.5 237.7h0M474.8 189.9h0M514.1 208.5h0M469.1 235.1h0M497.8 239.3h0M489.9 175.3h0M484.2 219.7h0M468.3 237.4h0M463 232.9h0M451.8 223.4h0M451.9 230.6h0M436.3 204.2h0M444.1 229.7h0M459.1 228.2h0M481.6 174.1h0M516 238h0M523.9 226.1h0M467.9 236.1h0M489.8 168.3h0M500.6 222.1h0M496.7 207.1h0M475.5 238.6h0M508.4 246.6h0M468 204.4h0M472.3 186.7h0M490.8 243.4h0M481.9 252.5h0M509.1 234h0M488.5 174.4h0M512 219.2h0M473.5 195.7h0M489.4 184.2h0M477.5 245.4h0M450.8 142.8h0M505.4 272.9h0M480.7 194.7h0M455.9 227.5h0M474.5 253.4h0M468.3 179.5h0M478.4 200.1h0M490 253.4h0M454 226.5h0M503 231.1h0M458 175.8h0M496.7 239h0M485.6 247.7h0"/>
<path id="a4" d="M383.7 313.9h0M330.7 296.5h0M375.6 275.6h0M358.8 215.1h0M371.6 254.9h0M347.6 224.4h0M319.2 280.3h0M349.2 210.8h0M334.5 264.9h0M366.1 255.1h0M356.6 258.1h0M383.1 216.8h0M376.7 225.8h0M363.4 226.7h0M319.4 257.9h0M337.2 225.7h0M377.5 224.4h0M356.5 283.4h0M352.6 291.6h0M352.2 246.6h0M340.2 210.9h0M377.2 221.4h0M380.4 289.2h0M385 230.6h0M377.4 237.9h0M369.9 260.9h0M333.9 233.7h0M377.1 292.4h0M394.6 275.5h0M350.8 300.8h0M370.1 235.2h0M378.9 282.5h0M352.9 209.9h0M325.2 281.6h0M390.2 220.1h0M400.5 292.4h0M372.9 245.9h0M317.5 229.1h0M373.7 254.8h0M417.3 194.1h0M332.6 266.8h0M357.2 244.3h0M387.3 273.6h0M364.7 255.5h0M330.3 259.6h0M346 302.3h0M358.1 235.7h0M385.9 288.7h0M369.5 241.8h0M359.1 252.1h0M354.3 222.1h0M346.1 232.4h0M341.8 219h0M364.4 271.5h0M343.5 236.1h0M384.5 267.7h0M369.4 290h0M327.5 265.8h0M376.6 280.4h0M380.5 264.7h0M397.2 283.7h0M346.4 301.5h0M356.7 248.1h0M358.5 270.8h0M355.2 286h0M204 259h0M373.3 222.3h0M369.3 283.9h0M378.2 202.5h0M369.3 221.1h0M354.9 241.4h0M360.3 217.6h0M320.4 266.4h0M321.8 240h0M374.9 298.9h0M362.2 264.4h0M349.5 284.2h0M333.7 305.5h0M352.2 310.3h0M331.7 250h0M391.5 304.1h0M324.9 291h0M346.3 308.5h0M349.9 223.2h0M361.7 238.4h0M367 231.8h0M364.9 225.1h0M359.1 229.2h0M355.3 217h0M374.8 258.1h0M329.7 243.7h0M375 225h0M346 305.7h0M329.9 229.3h0M365.1 251.4h0M359.6 227.9h0M343.9 263.9h0M338.8 259.1h0M385.3 248.4h0M372.6 266.1h0M333.9 261.9h0M372.1 234.8h0M340.6 250.3h0M347.7 228.3h0M342.9 315.5h0M398.5 177.3h0M385.6 286.6h0M326.6 296.1h0M400.9 230.9h0M368.9 253h0M344.2 252.5h0M354 245h0M390.1 242.8h0M396.1 224.3h0M380.5 257.1h0M326.7 315.9h0M349.1 220h0M345.7 250.7h0M395.7 292.2h0M382.6 273.5h0M376.1 302.9h0M385.3 266.5h0M338.6 230.9h0M332 240.2h0M353.9 296.7h0M334.4 266.9h0M398.4 220.9h0M328.9 246.5h0M345.1 302.4h0M354.2 227.9h0M343.9 283.9h0M347.9 247.2h0M369.4 227.3h0M364.8 264.7h0M369.1 244.9h0M372.1 307.9h0M354 293.8h0M307.4 266.6h0M355.7 261.4h0M344.7 296h0M346.4 240.7h0M361.2 288.9h0M336.8 305.3h0M389.4 231h0M368.5 245h0M335.3 222h0M338.6 312.9h0M347.7 293.8h0M370.1 243.2h0M361.7 241.8h0M336.9 248.1h0M337.3 228.4h0M343.8 239.1h0M362.2 220.7h0M351.1 235.9h0M368.4 255.8h0M362 312.4h0M329 211.2h0M346.3 264.7h0M380.7 234.2h0M315.1 267.2h0M360.6 280.9h0M338.7 248.1h0M357.6 261.4h0M376.5 215.9h0M337.7 299.2h0M358.5 282.9h0M356.1 259.7h0M341.8 281.5h0M326.8 302.1h0M391.1 264.2h0M378.2 291.7h0M373.8 202h0M370.3 309.8h0M386.2 280.5h0M394.1 260h0M382.2 216h0M333.6 291.3h0M379.1 258.9h0M338.4 278.6h0M348.4 216.7h0M364.6 228.6h0M333.5 319h0M372.4 269.6h0M358.6 262.6h0M355.7 239.6h0M381.5 228.1h0M345.1 290.6h0M384.8 291.8h0M363.4 237.5h0M341.6 249.5h0M319.3 257.8h0M373.1 249.4h0M362.7 287.7h0M389.3 265.4h0M373.5 240h0M318.4 264.3h0M305.1 285.7h0M336.9 258.2h0M305.7 221.9h0M377.6 285.2h0M350.2 254.1h0M378.8 263h0M358.2 278h0M335.3 213.3h0M336.4 240.5h0M359.3 273.3h0M342.4 225h0M315.2 221.8h0M368 301.2h0M368.6 236.7h0M364.2 256h0M381.2 292.7h0M377.4 297h0M386.6 262.7h0M354.3 267.5h0M368.8 228h0M334.1 276h0M355.9 289.7h0M336.9 252.7h0M382.2 223.4h0M341.1 294h0M384.6 268.3h0M354.5 212.2h0M337 311.3h0M339.1 267.2h0M379.8 227.2h0M351.4 294.4h0M371 229.6h0M353.5 205.2h0M362.3 218.6h0M310.6 260.6h0M376 275.2h0M362.3 236.6h0M353.9 326.7h0M341.1 239h0M348.2 219.7h0M369.7 217.9h0M363 240.8h0M307 257.9h0M360.9 294h0M342.9 272.3h0M361.9 295.6h0M370.7 273.4h0M392 298.7h0M343.3 240.6h0M372.8 276.6h0M349.9 269.8h0M321.3 246.4h0M318.3 205.1h0M316.7 283.9h0M354.5 252.5h0M370.3 225.5h0M357.3 219.5h0M356 285.4h0M392.1 278.8h0M368.2 274.8h0M326.1 260.9h0M342.4 261.5h0M328.9 203h0M358.9 289h0M377.1 234.1h0M341 300.8h0M348.5 229.6h0M320.5 241.6h0M343.5 308.9h0M383.4 257.5h0M355.8 225.8h0M320.4 237.8h0M330.2 249.2h0M346.6 243.4h0M342.8 273.5h0M314.1 324.6h0M354 288.4h0M313.7 211.9h0M350.5 238.8h0M365.4 280.4h0M333.7 280.4h0M387.5 283.5h0M384.1 244.7h0M359.4 293.1h0M347.4 280h0M347.5 214.3h0M425.7 219.2h0M338.3 275.8h0M357.3 249.3h0M356.6 231.9h0M323.2 286.3h0M318.3 303.1h0M349.4 273h0M369.1 184.7h0M377.4 204.5h0M391.1 261.1h0M383.8 219.1h0M340.2 317.5h0M369.1 269h0M369.7 257h0M355.9 268.7h0M355.8 247.8h0M376.3 261.5h0M397.3 243.8h0M373.3 279.6h0M370.8 244.1h0M361.3 211.8h0M330.3 276.4h0M357.7 264.4h0M371.6 272.2h0M340 306.2h0M350.1 296.6h0M330.2 231.8h0M379 277h0M387.1 307.5h0M338.7 237.3h0M379.1 249.5h0M382.5 265.8h0M357.4 293h0M395 293.4h0M336.7 282.8h0M297.3 280.6h0M376.9 220.5h0M361.8 235.2h0M378.8 212.7h0M329.6 292.3h0M358 209.5h0M350.6 236.6h0M371.3 219.8h0M370.5 197.2h0M339.8 233.3h0M349.1 279.5h0M349.9 254.9h0M359.9 244.2h0M305.8 253.8h0M376.2 220.1h0M355 291.8h0M324 219.3h0M362 246.1h0M310.2 273.3h0M324.9 226.8h0M325.4 262.6h0M349.4 256.6h0M353.2 273.3h0M378.4 245.3h0M349.5 266.7h0M383 269.2h0M336 272.2h0M365.5 235.3h0M325.4 263.3h0M390.8 217.8h0M375.8 291.9h0M358.7 315.5h0M371.1 297.3h0M339.5 244.8h0M377 248.6h0M377.8 275.1h0M369.7 201.4h0M364.9 238.7h0M363.9 243.7h0M371.6 256.5h0M352.5 281.2h0M322 273.1h0M340.1 228.4h0M340.2 267.6h0M332.2 262.6h0M355.2 256.9h0M349.8 232.4h0M350.8 231.6h0M347.1 268.2h0M330.4 279.5h0M359.5 284h0M337.9 228.2h0M363.2 248h0M369.9 233.3h0M337.7 269h0M286.7 250.2h0M380.2 254.4h0M346.8 292.2h0M331.7 228.7h0M332.4 277.4h0M392.8 248.3h0M341 285.1h0M332 252.8h0M354.8 230.1h0M367 293.3h0M383 232.9h0M352.5 306.3h0M374.1 241.1h0M356.9 244.8h0M366.5 223.5h0M367.6 239.9h0M348.8 297h0M363.2 281.3h0M371.4 240.8h0M353.6 275.9h0M382 230.9h0M339.8 275.3h0M342.3 255.2h0M358.7 218.4h0M318.1 272h0M360.1 224.4h0M350 319.2h0M333.8 247.4h0M331.4 236.2h0M387.3 234.1h0M382.3 286.1h0M347.9 269.3h0M383 271.4h0M350.6 276.8h0M353.4 199h0M345.2 247h0M378.3 229h0M350 273.9h0M338.2 234.7h0M338.4 273.1h0M366.8 213.8h0M360 305.5h0M385.4 243.4h0M360 260.4h0M391.3 213.5h0M374.8 214.1h0M390.5 244.3h0M356.7 309.1h0M348.2 264.7h0M312.6 224.3h0M394.9 267.9h0M384.2 241.8h0M365.7 258.1h0M348.4 203.2h0M333.5 253.7h0M379.3 315.1h0M310.4 236h0M387.8 262.2h0M367.4 288.3h0M392.2 271.6h0M366.4 223.8h0M368 209.4h0M343.4 277.4h0M382.1 277.8h0M372.3 235.6h0M367.7 296.2h0M361.1 241.5h0M359 306.7h0M373 278.1h0M363.4 264.5h0M376.3 263.8h0M358.3 275.2h0M347.7 240.5h0M321.2 210.8h0M345 246.5h0M202.9 233.9h0M360.7 307.2h0M358.1 292.3h0M358.2 300.1h0M336.1 304.5h0M341.7 259.1h0M326.5 255.1h0M340.2 272.8h0M352.6 224.9h0M354.6 259.9h0M323.8 307.4h0M313.7 262.4h0M341.4 239.1h0M350.4 242.1h0M368.4 264.5h0M333.5 273.7h0M363.3 209.6h0M323.2 244.2h0M338.2 286.9h0M352.3 262.2h0M380.2 230.3h0M353 262.1h0M334.2 250.9h0M345.4 252h0M326.8 218.3h0M363.9 221h0M374 304.6h0M357.1 290.1h0M352.1 214.7h0M341.3 247.8h0M387.4 253.1h0M326.9 233.3h0M372 283.1h0M368.5 285.3h0M379.6 237.8h0M362.9 198.3h0M347.3 234.2h0M358.6 218.9h0M389.8 267.5h0M312.5 252.4h0M376.8 266.4h0M358.6 294.5h0M353.9 250.7h0M333.5 286.1h0M364 286h0M335.1 221.8h0M361.5 221.7h0M355 267.1h0M227 227.6h0M363 253.1h0M366.6 274.2h0M335.6 264.5h0M364 196.7h0M361.5 320.2h0M361.9 282.8h0M364.6 231.8h0M384 236.7h0M397.3 301.3h0M375.6 248.1h0M315.6 261.3h0M380.3 269.9h0M386.3 271h0M344.9 258.9h0M372.2 212.3h0M372 214.1h0M374.4 255h0M331.7 241.3h0M334.7 286.4h0M364.6 216.9h0M335.7 285.6h0M363.7 239.4h0M334.7 213.2h0M341.5 239.4h0M348.4 226.5h0M393.6 251.8h0M394.6 273.6h0M369.6 192.9h0M336.6 266.4h0M351.9 242.9h0M373 254.7h0M370.3 265.9h0M391.2 289.2h0M358.2 321.1h0M339 264.7h0M390 222.2h0M381.2 254.1h0M380.8 241.5h0M366 261.3h0M197.7 237.7h0M391.1 293.2h0M404.5 283.4h0M340.5 288.6h0M346.2 287.8h0M366.8 297.9h0M357.6 279.3h0M344.3 224.4h0M370.7 243.6h0M328.9 244.8h0M358.9 302.9h0M354.6 240.6h0M384.6 255.2h0M367.3 276.4h0M360 268.1h0M362.2 260.9h0M344.8 223.1h0M403.6 236.8h0M324.4 304.9h0M350.1 243.8h0M363.1 234.8h0M380 251.3h0M334.9 216.8h0M342.8 265.5h0M343.5 298.3h0M373 301.8h0M323.4 277.5h0M350.2 219.7h0M360.7 229.8h0M319.7 297.7h0M340.8 204.2h0M377.3 244.3h0M363.8 214.8h0M339.9 253.7h0M314.7 268.8h0M373.4 239.8h0M386.9 182.6h0M352.3 269.1h0M335.8 278.1h0M364.1 243.6h0M347.7 273.5h0M365.7 225.9h0M379.4 300.9h0M362.9 295.8h0M385.7 227.1h0M357.3 194.9h0M380.7 245.2h0M311.8 294.9h0M361.3 266.3h0M339.2 332.9h0M365.6 229.3h0M387.2 254.8h0M347.9 245.6h0M371.6 288.4h0M368 299.5h0M297.3 297.3h0M332.7 224.6h0M371.9 261.4h0M347.7 319.4h0M361.8 304.2h0M354.7 221.2h0M408.9 168.9h0M331.3 306.2h0M361.4 273.5h0M355.6 253.3h0M334.5 262.4h0M328 241.3h0M356.8 225.5h0M350.4 306h0M375.4 268.4h0M377.9 234.5h0M352.5 288.3h0M359.3 205.7h0M370.1 227.4h0M393.5 215.7h0M389.1 273.8h0M351.4 250.9h0M343.1 233.8h0M344.2 265.9h0M370.4 263.6h0M328.9 267.9h0M374.4 313.4h0M353.8 285.5h0M389.4 234.9h0M360.1 257.2h0M366.4 275h0M366.4 279.8h0M353.1 300.5h0M339.3 258.9h0M328.7 246.8h0M357.2 261.9h0M352.4 213h0M348.6 215.7h0M321.9 220.1h0M340.5 300h0M310.5 269h0M350.3 213h0M365.8 295.4h0M358.2 213.7h0M375.4 272.9h0M337.6 221.4h0M339.6 271.5h0M388 277.4h0M235.4 252.8h0M373.3 232.4h0M357.8 285.8h0M372 242.2h0M314.5 281.9h0M358.8 277.6h0M354.7 278.4h0M333.1 204.9h0M322.7 307.3h0M336.1 256.2h0M353.1 278.5h0M346.1 222.2h0M340 251.5h0M390.1 238.6h0M327.8 280.2h0M364.5 288.8h0M342.6 231.7h0M342.9 246.9h0M370.3 266.9h0M363.4 273.3h0M368.8 252.4h0M331.8 268.7h0M368.4 245h0M341.9 283.9h0M366.6 267.2h0M371.4 274.8h0M380.2 293.5h0M361.7 231.7h0M341.2 253.2h0M333.2 283.1h0M332.3 300.2h0M324 288.5h0M352 264.2h0M328.4 276h0M375 212.1h0M368.1 227.2h0M386.7 303.9h0M359.7 250.4h0M363.9 261.3h0M318.3 243.4h0M347.3 239.3h0M358 275.8h0M372.4 292.2h0M372.6 257.3h0M387.3 269.3h0M370.9 223.3h0M334.4 273.5h0M337.2 280.6h0M358.2 241h0M338.5 245.6h0M344.8 246h0M368.2 217.9h0M351.5 285h0M377.1 256.9h0M333.5 271.2h0M365.7 305.6h0M348.1 258.3h0M375.7 210.9h0M372.2 295.5h0M376.1 281.2h0M332.5 276h0M350.1 286.9h0M341 224.3h0M350.8 259.5h0M311 236.6h0M354.8 295.6h0M358.1 255.3h0M332.5 285.9h0M356.8 231.5h0M397.3 265.3h0M373.5 297.3h0M392.6 286.4h0M382.9 277.6h0M375.2 262.4h0M346.5 225.1h0M381 317.4h0M374.4 284.8h0M349.6 298.4h0M369.3 269h0M369.9 273.8h0M337.1 286.7h0M341.1 292.5h0M377.2 279h0M339 269.6h0M335.1 283.4h0M425.7 269.5h0M362.5 246.3h0M397.3 281.5h0M337.2 313.7h0M337.7 296.2h0M367.4 217.8h0M353.9 267.6h0M364.1 217h0M335.4 324.3h0M374.9 257.8h0M376.7 286.9h0M354.7 226.9h0M372 280.2h0M322.6 304.5h0M300.5 249.1h0M383.6 308.5h0M362.7 223.9h0M312.8 291h0M359.1 288.7h0M324.9 312.3h0M351.2 287.3h0M388.8 215.8h0M417.3 259h0M393.1 255h0M330.5 234.2h0M378.6 217.8h0M342.9 269h0M331.7 248.3h0M341.3 305.8h0M391.6 267.2h0M314.3 241h0M334.7 241.2h0M394.2 242.6h0M386.4 300.8h0M372.6 288.4h0M362.4 270.7h0M339.5 281.4h0M392.2 291.9h0M355.3 225.7h0M340.6 282.7h0M327.8 246h0M325.6 246.4h0M381.6 220.3h0M365.3 267.6h0M345.2 229.5h0M362.4 270.7h0M363.9 274.2h0M393.8 280.8h0M350.6 244.7h0M312.7 274.4h0M320.1 305.2h0M372.5 262.6h0M381.9 264.4h0M352.5 277.8h0M395.6 283.5h0M382.9 277h0M364.5 293h0M366.4 292.6h0M354.7 247.2h0M373.1 265.1h0M326.7 335h0M366.8 249.6h0M386.6 249.1h0M348.6 238.5h0M370.3 278.2h0M308.4 285.9h0M323.1 234.3h0M399.8 280.6h0M201.9 245.4h0M341.4 218.4h0M408.9 282.1h0M356.2 276.4h0M328.4 253.6h0M355.8 210h0M381.4 212.4h0M331.4 296.6h0M367.2 277.4h0M345 298.9h0M337.7 249.2h0M303.6 305.7h0M343.7 284.5h0M367.1 285.5h0M329.2 268.4h0M386.1 287.1h0M323.7 261.5h0M330.3 249.9h0M378 223.8h0M322.1 225.9h0M374.6 195.5h0M362.1 277.2h0M370.9 302h0M353.6 245.7h0M383.2 286.2h0M364.8 249.8h0M377 231.9h0M356.2 283.4h0M355 310.3h0M341.8 240h0M375.4 288h0M376.1 265.7h0M326.6 314.5h0M319.9 262.2h0M377.3 251h0M308.4 253h0M379.1 295.2h0M365 241.8h0M369.6 257.5h0M364.9 205.3h0M356.2 234.2h0M367.8 249h0M368.4 215.7h0M380.2 247.4h0M366.9 234.2h0M338.8 253.7h0M436.2 248.6h0M385.3 228.4h0M381.5 282.4h0M329.5 220.6h0M344.2 281.1h0M317.3 220.9h0M332.3 260.1h0M312.5 304.7h0M362.9 237.5h0M327.8 277.9h0M326.8 214.9h0M357.1 222.2h0M338.9 291h0M341 200.1h0M376.1 236.8h0M389.4 276.9h0M356.6 302h0M329.3 274.3h0M362.4 217.3h0M345.4 228.4h0M401.4 300.6h0M346.3 261.6h0M385.1 272.2h0M356.7 253.9h0M353 229.1h0M340.4 236.1h0M348 269.8h0M399.4 256.9h0M341.3 270.6h0M327.4 242.1h0M372.3 268.8h0M349.3 279.1h0M364 264.2h0M321.6 250h0M329.2 218.4h0M373.7 239.5h0M346.4 247.8h0M326.3 284.5h0M221.8 221.3h0M353.5 255.8h0M369.4 261.4h0M375.8 300.9h0M364.6 285.2h0M329.9 214h0M383.2 275.4h0M329.5 275.7h0M372.9 225.8h0M343.5 234.5h0M344.3 214.1h0M367.3 260.1h0M331 240.7h0M336.9 297.9h0M329.2 291.6h0M335.9 257.8h0M316.9 293.4h0M346.3 286.7h0M352.6 317.9h0M345.9 289h0M314 258.3h0M396.1 235.8h0M323.4 249.8h0M354.7 203.6h0M328.2 258.5h0M373.5 221.4h0M390.2 315.2h0M334.3 248.3h0M400 262.7h0M346.2 235.4h0M328.2 280.4h0M319.1 232.5h0M375.2 224h0M391.6 247.8h0M343.1 221.7h0M370.7 284.4h0M371.6 267.1h0M339.1 200.7h0M371.8 224h0M366.4 302.9h0M374.9 231.1h0M316.6 249.4h0M352.1 248h0M351.2 261.6h0M369.7 266.3h0M323.1 296.1h0M349.5 271.6h0M379.3 297.3h0M390.6 249.3h0M346.5 235.4h0M362.2 267h0M360 298h0M366.1 221.8h0M360.4 247.3h0M373.7 252.1h0M325.9 277.1h0M353.6 272h0M366 250.6h0M346.1 274.3h0M384.2 282.2h0M363.1 222.8h0M324 269.3h0M374.7 230.4h0M374.2 251.3h0M366.1 300.3h0M357.5 238.3h0M349.8 309.6h0M335.9 294.7h0M344.5 250.2h0M363.9 272.1h0M349.3 281.7h0M338.4 274.3h0M361.7 270.8h0M342.2 228.4h0M270 255.9h0M331.7 314.7h0M341.2 222.1h0M348.2 285h0M380.5 253.5h0M328.5 261.2h0M355.7 297.5h0M338.9 239.2h0M359.2 233.2h0M356.3 285.9h0M379.6 196.2h0M368.1 200.3h0M351.7 241.2h0M309 243.3h0M348.7 224.4h0"/>
<path id="a8" d="M421.2 297h0M487.3 295.9h0M399.1 247.2h0M405.9 267h0M422.1 255.2h0M441.5 295h0M451.1 292.4h0M436 272.3h0M399.7 275h0M446.2 295.4h0M449.3 259.3h0M454.4 280.7h0M415.7 223.2h0M412.6 286.2h0M459.2 303.1h0M441.9 289.7h0M467.5 291h0M462.8 294h0M419.1 255.7h0M421.2 281.5h0M396.2 229.7h0M427 275.8h0M449.5 260.4h0M446.6 291.4h0M445.4 296.9h0M470.5 292.7h0M462.6 278.5h0M478.6 303.8h0M419.6 265.5h0M409.8 224.9h0M432.5 238.7h0M414.2 317.8h0M473.8 283.1h0M427.1 274.7h0M475.3 298.5h0M460.3 279.3h0M433 272.5h0M442.2 275.8h0M439.1 267.5h0M437.3 284.5h0M415.7 274.6h0M474.5 304.9h0M423.8 297.8h0M454.6 290.4h0M450.5 260.7h0M421.5 274.3h0M477.6 293.6h0M408.3 288.8h0M436.2 253.6h0M444 258.1h0M446 308.2h0M446.8 247.9h0M436.5 244.4h0M405.4 249h0M407.8 291.8h0M406.9 272.8h0M414.8 263.2h0M434.3 238.2h0M446.2 267.8h0M455.7 261.5h0M424.3 271.7h0M424.6 288.3h0M408.1 255.1h0M433.1 269.7h0M443.6 296.3h0M417.1 258.4h0M438.9 269.2h0M428.6 257h0M416.2 268.7h0M419.4 298.6h0M444.4 274.4h0M446.8 288.8h0M455.1 280.5h0M429 286h0M416.4 261.7h0M395.7 239.1h0M449.3 286.2h0M423.3 278.2h0M441 262.4h0M452.7 294.1h0M418.8 287.8h0M400.3 239.6h0M395.1 244.3h0M441.9 244.6h0M428.9 254.1h0M454.2 293.7h0M431.7 242.4h0M465.4 286.5h0M423.8 282.1h0M413 230.6h0M413.1 256.5h0M410.1 222.1h0M454.6 270h0M395.2 238.7h0M481.1 290.7h0M399.5 227.9h0M426.8 308h0M442.4 249.6h0M442.8 287.2h0M431.1 258.6h0M484.9 304.8h0M415.4 303.7h0M438.5 288.6h0M407.2 279.5h0M438.7 253.1h0M472.2 290.3h0M462.7 283.7h0M437.3 286.4h0M429.6 276.8h0M427.9 288.2h0M462.8 263.7h0M425.8 251.4h0M420.5 269.4h0M448.1 294.9h0M403.5 268.9h0M446.4 274.6h0M418.5 258.6h0M399.6 244.3h0M401 246.3h0M440.8 264.7h0M432.8 279.4h0M474.5 308.1h0M433.1 242h0M487.6 306.5h0M419 244.1h0M433.5 244.4h0M427.1 263.8h0M448.1 302.9h0M433.7 237.4h0M462.1 304.7h0M440.9 270h0M413.2 279.2h0M453.7 307.4h0M440.1 284.8h0M427.7 260.5h0M456.9 263.7h0M466.2 282.7h0M430 256.2h0M421.6 247.6h0M433 260.3h0M423.6 271.6h0M405.1 253.6h0M442.5 267.1h0M421.9 303h0M441.6 311.1h0M436 289.3h0M404.6 283.8h0M476.2 279.7h0M476.7 293.8h0M419.4 273.2h0M462.5 290.3h0M431.3 251.3h0M451.1 282.4h0M459 270.2h0M420.1 296.9h0M425.9 243.9h0M439.4 255.3h0M400.1 225.9h0M459.3 260h0M426.8 315.7h0M434.8 267.9h0M428.8 250.2h0M412.3 288.1h0M457.6 265.8h0M416.2 263.4h0M432.8 253.6h0M418.4 233.7h0M442.7 266.5h0M461.2 284.8h0M437.1 248.8h0M400.7 233.8h0M440.1 298.6h0M414 242.1h0M409.7 262.8h0M439 263h0M443.7 300.6h0M456.4 293.2h0M405.8 258.4h0M463.7 295.8h0M408.8 277.3h0M463 269.8h0M407.9 248.1h0M463.3 300.4h0M410.6 243.7h0M424.6 255.6h0M434.5 296.8h0M409.3 266.3h0M396.4 225.7h0M440.2 297h0M404.9 277.9h0M423.9 267.9h0M410.9 236.7h0M432.8 257.8h0M427.9 254.8h0M429.4 271.4h0M455.4 302.7h0M412.1 263.3h0M420.4 272.2h0M426.9 283.2h0M414.2 254.1h0M453.2 298.2h0M434.9 309.7h0M448.3 305.6h0M444.6 253.6h0M448.8 297.9h0M432 234h0M421.4 225.1h0M424.7 276.3h0M431.2 290.8h0M405.8 262.8h0M468.1 295h0M461.9 300h0M473.4 295.9h0M401.5 279.8h0M427.2 285.6h0M435 248.7h0M464.3 280.3h0M424.2 250.2h0M400.4 276.5h0M400.9 228.8h0M422.1 228.9h0M403.7 265.5h0M419.2 238.3h0M437.3 306.6h0M436.4 305.1h0M445.2 272.3h0M403.8 229.2h0M456.4 299.6h0M468.6 297.4h0M446.8 271.6h0M489.8 304h0M462.2 287.3h0M406.6 261.3h0M402.6 265.2h0M423.2 295.2h0M470.4 286.8h0M411 283.2h0M413.3 293.4h0M415 289.3h0M423.3 252.3h0M469.5 282.5h0M482.3 294.6h0M438 246h0M453.1 282.6h0M403.2 250h0M410 270.2h0M438.2 274.1h0M430.3 244.5h0M408.8 284.8h0M421.9 244.4h0M427.1 304.8h0M428.8 280.1h0M474.8 293.4h0M428.4 304.7h0M413.2 272.7h0M459.1 304.8h0M446.6 249.4h0M464.1 289.4h0M426.9 230.5h0M415.2 281.9h0M417.3 327.2h0M426.7 245.8h0M409 280h0M411.2 258.2h0M435.3 260.7h0M469.6 306h0M419.7 252.6h0M469.2 285.1h0M441.2 307.5h0M452.5 253.3h0M466.2 297.9h0M455.5 286.8h0M440.9 278.9h0M423.6 264.3h0M452.8 305.2h0M446.6 290.5h0M436.4 294.1h0M414.4 259h0M449.5 290.9h0M431 251.6h0M428.2 302.7h0M465.5 293.6h0M422.6 321h0M451 254.8h0M474.1 302.7h0M478.6 292.6h0M452.6 284.9h0M408.3 294.4h0M423.9 244.1h0M444.5 308.5h0M423.4 237.8h0M435.5 278.4h0M405.8 225.1h0M444.3 281.2h0M413.1 269.9h0M412.1 256.9h0M417.6 276.7h0M415.9 250.7h0M417.5 255.7h0M430.8 306.3h0M414.2 280.5h0M410.4 292.3h0M458.9 283.2h0M407.5 229.1h0M412.4 301.2h0M453.2 265.7h0M450.7 275.1h0M459.2 290.7h0M427.4 242.5h0M463.1 271.6h0M424 231.8h0M456.8 291.3h0M418 262h0M425.7 294.9h0M423.9 292.8h0M426.6 236.9h0M399.5 255.7h0M432.9 277.1h0M452.3 286.5h0M402.8 271.4h0M407.6 284.5h0M466.1 268.7h0M424.4 258.4h0M450.9 273.4h0M433.9 283h0M477.8 286.1h0M428.7 248.3h0M421.5 270.8h0M442.9 302h0M453.2 259.3h0M426.3 270.8h0M480.1 304.7h0M430.2 262.5h0M434.3 284.8h0M457.6 299.6h0M450.2 297.7h0M444.7 247.7h0M439.1 259.3h0M423.8 261.7h0M481.9 304.2h0M477.6 306.1h0M440.5 258.2h0M458.8 308.5h0M460.7 276.4h0M441.1 277.1h0M456.8 306h0M411.6 227.6h0M425.2 291h0M457.5 273.3h0M410.1 269.3h0M418 243.9h0M411.5 247.3h0M461.2 270.5h0M430.1 287.2h0M439.4 282.6h0M432.2 263.8h0M429.8 300.4h0M421.1 251.7h0M417.4 248.5h0M447.1 263.8h0M406.4 281.8h0M435.6 270h0M401 282.6h0M472.2 282.6h0M453.4 277.4h0M427.2 271.7h0M454.3 273h0M403.7 271.8h0M409.8 236.3h0M446.9 261.9h0M430.1 293.2h0M417.4 291.5h0M415.6 234.9h0M410.7 238.8h0M448.1 280.3h0M415.6 297.2h0M444.8 303.3h0M458.6 266.5h0M412.8 228.5h0M461.5 273.7h0M425.2 242.8h0M431.6 274.4h0M400.7 269.4h0M427.4 240.8h0M451.7 300.5h0M416.8 290.8h0M432.2 267.7h0M423.1 265h0M468.3 276.6h0M468.7 274h0"/>
<path id="a1" d="M233.6 291.7h0M224.5 300.1h0M184.6 359.3h0M240.9 300.1h0M270.1 267.7h0M194.8 353h0M245 337.4h0M226.9 335.2h0M261.3 280.8h0M273 349.4h0M293.2 297.6h0M286.6 308.5h0M239.4 331.9h0M244.8 353.4h0M290.2 344.4h0M176 370.7h0M236.1 305.6h0M256.7 300.8h0M216.1 319.4h0M257.3 314.6h0M217.2 309.6h0M291.8 273h0M225 353.7h0M193.5 375.7h0M259.1 331.6h0M278.1 278.5h0M164.6 400.7h0M247.1 296.9h0M229.9 319.7h0M227.1 301.2h0M320.4 321h0M212.2 344.5h0M243.1 361.2h0M279.2 302.6h0M267.3 327.5h0M201 345.3h0M261.8 355.8h0M296.6 310.6h0M195.9 362.4h0M253.4 338.9h0M240.6 320h0M233.1 340.8h0M326.1 310.6h0M213.7 364.1h0M299.3 317.7h0M250.7 366.8h0M166.2 361.1h0M234.5 343.7h0M301.2 292.1h0M207.9 375.6h0M223.6 313.5h0M245.6 310.5h0M267.4 276.5h0M252.1 271.9h0M293.6 314.9h0M202.7 357.9h0M285.6 273.4h0M244.6 292.1h0M210.2 326.8h0M324.6 308.2h0M220.3 290.4h0M245.8 360.1h0M303.6 308.6h0M185.9 346.5h0M301.6 313h0M275.4 270h0M221.1 286.7h0M223.8 373.3h0M255.6 306.5h0M321.4 299.4h0M274 314.2h0M262.1 305.4h0M251 324.7h0M291.3 298.9h0M242.8 300.9h0M302.4 271.2h0M274.1 293.5h0M187.4 360.1h0M252.6 337.3h0M310 288.8h0M263.7 353.2h0M239.5 310.3h0M228.6 311.3h0M177.4 393.8h0M293.8 351.6h0M326.3 313.4h0M175.1 366.9h0M226.5 376.1h0M206 357.8h0M289.1 270.5h0M180.2 385.2h0M193.9 340.3h0M202.1 364.5h0M232.6 340.3h0M305.4 275.6h0M310.1 342.4h0M213.9 350.8h0M257.9 330.6h0M331.9 314.1h0M154.7 392.8h0M285.4 279h0M238.4 344.3h0M289.8 350h0M259.3 275.1h0M302.5 343.1h0M279.2 349.1h0M215.7 375h0M283 336.5h0M307.3 301.7h0M296.1 355.3h0M220.9 329.8h0M222.8 375.8h0M193.6 341.9h0M269.2 308h0M223.8 344.7h0M290 330.5h0M302.3 326.5h0M216.8 303.4h0M177.3 400h0M283.8 345.5h0M267.7 350h0M237.4 311.8h0M304.6 297.9h0M264.9 328.3h0M299 292.9h0M315.3 299.3h0M265 280.3h0M181.9 344.4h0M224.5 365.9h0M173.7 397.3h0M173.5 353.8h0M256.8 353.4h0M293.2 331.5h0M166.6 371.5h0M225.9 349.1h0M316.5 324.5h0M302.7 280.7h0M306.9 340.3h0M260 313.9h0M236.8 284.4h0M290.6 289h0M311.3 336.6h0M207.2 385.2h0M207.2 335.5h0M301.4 339.5h0M229.1 367.2h0M312.4 328.9h0M202.2 339.5h0M241.6 289.4h0M297.7 341.1h0M307.6 294.4h0M237.6 289.4h0M212.5 327.6h0M184.3 372.6h0M172.4 384.5h0M170.9 369.3h0M305.7 271.3h0M301.7 279.3h0M303 283.2h0M162.7 374.4h0M216 353.2h0M266.3 310.1h0M299 345.9h0M268.2 342.6h0M307.2 302.4h0M248.3 309.9h0M185.7 354.1h0M291.3 318.2h0M207.8 335.9h0M296.4 317.3h0M249.6 316.7h0M214.4 320.4h0M151.9 387.8h0M290.6 355.7h0M167.7 393.5h0M295.1 311.1h0M264.2 329.7h0M236.4 352.1h0M218.8 325.2h0M300.6 329.7h0M276.9 329.2h0M293.1 340.2h0M251.7 356.1h0M299.5 313.3h0M239.9 272.5h0M284.6 288.7h0M221.7 357.6h0M243.7 355.4h0M289.7 339.2h0M241.8 292.4h0M234.8 318.2h0M304.9 291.3h0M283.3 308.5h0M204.6 387h0M276.5 306.8h0M208.3 377.1h0M298 278.9h0M191.7 373.8h0M311 326.2h0M214.2 342.1h0M223 295.7h0M195.9 357.4h0M239.2 324.1h0M264.4 304.2h0M178.7 372.7h0M246.5 361.9h0M314.3 317.5h0M261.1 317.8h0M200 349.2h0M320.5 318.1h0M226.6 331.5h0M220.6 352.7h0M207.8 382.5h0M218.3 355.9h0M216 386.1h0M329.9 318.1h0M237.6 340.5h0M326.7 324.6h0M244.6 330.7h0M212 338.7h0M297.8 280.9h0M287.7 335.2h0M294.2 282.9h0M321.3 323.6h0M271.1 328.1h0M257.2 334.5h0M261.1 341.5h0M289 307.1h0M266.1 345.4h0M321.2 321.6h0M258.8 320.3h0M231.3 290.9h0M277.2 290.7h0M268.4 272.5h0M230.7 378.9h0M271.6 332.2h0M192.1 347.8h0M221.8 317.9h0M215.8 365.7h0M221.1 331.6h0M241 353.4h0M220.7 368.3h0M199.4 386.6h0M285.2 292h0M203.5 381.7h0M314.2 320.3h0M219.2 305.4h0M228.8 353.9h0M283.8 283.2h0M215.4 357.6h0M233.6 312.1h0M271.1 285.3h0M214.6 330.5h0M217.3 299.5h0M159.4 395.7h0M234.4 334.8h0M319.5 310.4h0M225.8 311.1h0M240.6 332.5h0M223.5 382.4h0M187.9 385.5h0M193.9 360.5h0M253.6 349.5h0M300 301.7h0M217.6 376.1h0M218.6 366.7h0M314.5 321.4h0M211.5 365.7h0M232 314.8h0M260.4 271.6h0M319.3 308.5h0M255.1 354.8h0M307.1 274.5h0M290.7 332.3h0M231.9 343.5h0M256 296.1h0M170.7 403.3h0M213 363.2h0M270.9 268.8h0M279.3 339.6h0M273.5 308.8h0M226.8 319.1h0M216 326.3h0M180.4 360.5h0M267.2 314.1h0M238.7 290h0M222.2 366.6h0M205.7 328.1h0M191 383.9h0M230.3 348.8h0M261.1 311.1h0M240.7 328.9h0M159.3 390.6h0M202.3 332.8h0M241.3 294.8h0M282.2 309h0M225.8 309.5h0M268.2 287.2h0M156.7 380.3h0M292.7 270.5h0M217.7 348.5h0M241 341.8h0M241.4 314.3h0M216.1 329.5h0M315.4 303.8h0M201.4 385.3h0M151.9 389.6h0M315.8 331.4h0M286.6 296.1h0M248.8 274.5h0M248.3 365.2h0M212 369.7h0M186.9 363.2h0M318.2 327.2h0M252.2 339.9h0M207.5 316.7h0M199.4 351.6h0M281.1 296.4h0M279.2 332.6h0M283.6 327.3h0M204 362.8h0M272.7 299.6h0M255.7 335.3h0M221.1 339.8h0M261.3 308.4h0M282.2 317.2h0M225.3 285.1h0M287.9 310.7h0M229.5 359.9h0M310.2 297h0M177.8 373.8h0M237 277.2h0M194.5 333.2h0M277.5 346.1h0M207.5 347.1h0M308.2 317.3h0M238.2 320.9h0M279.1 273h0M234.8 353.9h0M301.3 335.3h0M225.6 368.9h0M225 291h0M180.8 368.9h0M243.5 296.4h0M255.5 274.6h0M196.1 347.8h0M242.6 326.3h0M252.9 282.6h0M299.3 266.6h0M223.4 282.1h0M285.1 304.9h0M166.7 396.4h0M286.6 314.6h0M207.7 319.2h0M213.8 373.9h0M163 381.8h0M229.4 327.6h0M202.6 376.1h0M194.1 365.6h0M270.5 352.9h0M235.9 318.1h0M252.9 307h0M248 283.7h0M272.9 275.9h0M288.2 294.6h0M197.1 381.4h0M259.1 293.2h0M313.8 294.1h0M282.6 338.4h0M283.8 320.7h0M226.6 289.3h0M314.2 288.4h0M200.3 328.5h0M290.1 297h0M220.5 335.4h0M175.7 353.9h0M220.5 319.3h0M315.9 325.6h0M234.1 332.3h0M225.8 352.8h0M251.3 278.7h0M217.7 336.5h0M230.3 355.9h0M300 285.7h0M291.1 262.4h0M296.6 325.9h0M223 306.8h0M276.7 345h0M180.7 364.9h0M239.8 294.8h0M270.3 294.2h0M237 337.5h0M281.4 287.3h0M291 263.7h0M192.6 352.4h0M222.5 349.8h0M262.5 337.3h0M256.8 355.6h0M301.8 315.1h0M231.3 346.3h0M255.8 284.6h0M307.9 311.4h0M286.2 330.7h0M266.2 338.3h0M269.8 336.4h0M236.7 348.2h0M200.4 377.9h0M175.3 369.8h0M262.8 276.9h0M297 305.7h0M203.6 351.7h0M244.5 298.7h0M274.8 321.8h0M249.6 308.6h0M256.8 281.7h0M202.6 368.5h0M264.6 350.5h0M266.6 283.8h0M275.2 345.6h0M289.5 293.1h0M251.3 321.3h0M215.9 341.9h0M207.2 313.6h0M223.8 295.7h0M280.4 275.7h0M311.7 309.9h0M264.2 343.5h0M304.3 332.5h0M207.9 321.6h0M169.4 361.4h0M211.6 314.1h0M211.9 357.4h0M297.4 323.6h0M230.2 345.8h0M208.8 372.8h0M252.9 312.5h0M241.2 336.9h0M196.2 354.8h0M266.9 269.7h0M237.2 336.8h0M226.9 308h0M291.8 333.1h0M302.3 291.8h0M190.9 392.5h0M204.9 355.2h0M322.7 304.5h0M225.1 344.9h0M231.5 302.3h0M265.5 332.7h0M307.9 320.7h0M230.5 296.6h0M192.1 390.3h0M303.1 328.5h0M297.9 295.7h0M325.6 326.5h0M233.1 307.5h0M322.9 312.3h0M270.1 339.2h0M261.7 313.9h0M229.6 341.6h0M208 349.8h0M219.6 360.8h0M308 287.2h0M323.4 307.2h0M217.4 318.7h0M235 310h0M214.4 333.1h0M298.7 332.3h0M249.4 289h0M206 338.6h0M229.2 401h0M318.4 336.7h0M237.3 287.2h0M312.9 313.9h0M301.7 324.9h0M253.1 329.8h0M255.9 315h0M213 304.5h0M199.2 381.4h0M198.3 370.4h0M240.6 291.2h0M184.2 377h0M207.2 341.3h0M212.2 372.3h0M264.1 300.9h0M207.4 343.6h0M187.1 379.1h0M266 317.3h0M263 275.8h0M266.3 272.4h0M253.4 357.5h0M200.8 367.8h0M294.6 319.8h0M225.3 325.6h0M294.8 286.6h0M183.7 397.4h0M245 284.8h0M277.2 307.7h0M187.8 395.1h0M193.3 389.4h0M229.6 305.8h0M290.4 287.6h0M276.2 311h0M313.5 308.3h0M276 266.3h0M254.4 271.7h0M286.3 281.5h0M259.8 332.8h0M161.5 395.3h0M292 329.5h0M300.1 308.3h0M272.4 338.1h0M283.5 296h0M303.4 269.3h0M191.8 396h0M211 337.4h0M249.5 280.1h0M305.6 303.5h0M273.9 285.9h0M188.2 343.5h0M261.3 285.8h0M319.3 305.7h0M278.3 312.6h0M276.5 346h0M219.5 329.4h0M232.2 294.7h0M198.7 368.4h0M232.9 354.2h0M232 327.9h0M261 329.3h0M237.9 322.8h0M173.6 379h0M225 346h0M240 269.9h0M271.9 350.7h0M266.3 354.3h0M237.3 325.1h0M293.6 303.3h0M257.3 340.9h0M221.1 306.1h0M200.4 360.1h0M223.1 304.3h0M158.5 373.9h0M260.1 324.5h0M217.5 321.6h0M236.7 328.1h0M235.3 319.9h0M179 381.7h0M186.8 351.2h0M215.7 370.8h0M212.9 308.5h0M225.3 287.3h0M177.3 358.5h0M229.7 342.3h0M240.7 368.4h0M213.3 332.9h0M298.8 272.9h0M225.6 313.2h0M294.2 354.9h0M250.5 348.3h0M250 328.5h0M218.5 370.3h0M289.8 275.7h0M268.3 332.7h0M180.3 355.3h0M244 352.2h0M279.6 338.3h0M193.9 387.2h0M241.2 316.9h0M210.9 373.8h0M218.8 315.1h0M234.6 295.1h0M198.1 341.4h0M294 343.1h0M288.2 324.2h0M262.5 352.2h0M242.9 277.7h0M172.6 402.1h0M219.9 320.7h0M216.8 306.7h0M292.5 290.1h0M229.7 329.3h0M262.8 287.8h0M223.3 289h0M216 316.9h0M232.8 287.4h0M265.3 320.2h0M196 352.6h0M286.9 342.8h0M314.6 333.3h0M217.3 303.8h0M263.4 282.7h0M220.9 326.1h0M235.5 361.7h0M261.5 278.5h0M309.8 311.2h0M204.3 363.8h0M222.7 293.2h0M227.5 356.4h0M312.5 301.8h0M292.6 283.8h0M301.1 317.1h0M228 278.9h0M274.5 333.4h0M291.8 310.7h0M299.5 280.2h0M180.4 382h0M275.3 332.6h0M193.8 335.4h0M271.1 328.7h0M254.2 292.2h0M191.2 354.8h0M279.1 299.7h0M263.1 357.8h0M269.7 272.5h0M269.4 348.5h0M264.5 297.5h0M179.3 391.1h0M313.2 312.1h0M235.9 302.7h0M297.6 286.3h0M292.4 276.4h0M189 366.2h0M234.5 302.4h0M279.4 284.8h0M293.9 280.4h0M215.7 382.5h0M260 301h0M306.8 314.2h0M222.9 310.3h0M245 289.1h0M297.4 327.7h0M283.5 314.9h0M249.2 276.2h0M269.9 281.1h0M212 381.7h0M273.1 272h0M169.7 355.6h0M268.9 305.5h0M288.3 316.8h0M247.9 351.4h0M208.9 332.9h0M248.3 294.9h0M225.7 356.6h0M227 363.9h0M250 289.8h0M242.7 286.1h0M241.8 308.6h0M191.9 374.9h0M274.6 354.1h0M297.9 314.8h0M255.5 326h0M302 309.1h0M306.2 286.4h0M286.3 336.9h0M271.2 346.5h0M318.6 314.1h0M225.4 335.3h0M273.6 292.2h0M290.1 319.1h0M287.3 300.1h0M182.6 376h0M235.5 295.9h0M257.7 329.3h0M275 312.3h0M287.6 323h0M215.3 311.2h0M271 277.5h0M324.4 297.9h0M278.2 316.4h0M286.6 337h0M199 364.6h0M215.8 343.7h0M270.5 340.5h0M220.4 293.1h0M295 293.2h0M223.4 370.6h0M254.8 358.5h0M184.2 353.9h0M320.7 302.8h0M258.6 270.8h0M225.4 315h0M309.9 322.7h0M202.1 341.9h0M244.5 328.5h0M248.4 348.6h0M232.2 371.5h0M232 312.8h0M254.3 352h0M195.6 350.7h0M248.8 335.4h0M235.5 332.1h0M274.8 302.3h0M209.3 350.9h0M265.3 286.6h0M208.9 382.2h0M298.9 311.4h0M201.1 356.9h0M254.1 296.9h0M214.8 347.1h0M250.8 281.8h0M291.2 323h0M268.3 312.7h0M215.6 377.7h0M259 361.8h0M243.4 289.5h0M238.7 358.7h0M296 280.6h0M209.8 358.3h0M209.6 320.4h0M280.9 297.4h0M235.1 323h0M240.8 305.6h0M232.7 337.5h0M259.7 274.4h0M241.4 337.1h0M314.7 306.2h0M271.3 318.4h0M290.6 281.8h0M307.9 321.8h0M255.3 286.9h0M285.6 313.4h0M208.9 331.2h0M250.1 321.9h0M328.9 321.7h0M193.3 337.7h0M203.5 329.9h0M255.7 351h0M256.9 287.1h0M290.3 285.1h0M244.9 335h0M251.5 332.7h0M314 297.6h0M305.9 343.4h0M320.1 325.9h0M248.7 306h0M213.3 349h0M191.8 347.1h0M239 350.4h0M274 317.8h0M211.3 376.8h0M226.6 324.2h0M284.9 323.8h0M298.4 294.7h0M228.4 373h0M173.7 390.4h0M255.2 346.5h0M280.3 328.2h0M205.2 380.1h0M308.2 305h0M227.3 345.6h0M229.6 286.2h0M277.5 339.9h0M219.2 296.7h0M287.5 349.4h0M258.6 305.6h0M217.8 334h0M279.9 268.4h0M241.1 285h0M245.6 301.2h0M195 358.9h0M222 338h0M288.8 304.8h0M259.9 327.2h0M187.5 354.3h0M290.1 278.1h0M281.5 285.9h0M275.2 335.8h0M242.3 350.9h0M288.9 291.5h0M291.5 276h0M304.7 346.7h0M220.8 373.5h0M252.2 319.3h0M275.7 288.9h0M299.4 333.9h0M279.2 336.6h0M231 282.5h0M238.9 337.7h0M243.8 322.8h0M307.7 298.9h0M269.1 290.5h0M226.1 331.3h0M230.9 277.2h0M233.6 370.5h0M191.5 385.7h0M304.8 338.5h0M255.2 306.4h0M205.7 359.1h0M284.3 309.1h0M228.7 348.6h0M318.3 292.8h0M206.4 349.8h0M184 391.4h0M306 300.5h0M161.8 391.6h0M201.7 336h0M243.8 271.4h0M326.6 321.2h0M226.7 362.3h0M232.2 351h0M219.7 345.1h0M294 346.4h0M251.1 272.4h0M294 317.6h0M310.7 318.9h0M235.2 359.4h0M258 310.8h0M277.4 281.4h0M168.1 365.1h0M311.2 296.1h0M315.4 311.6h0M179.6 387.6h0M276.1 283.4h0M280.2 343.3h0M244.7 340h0M236.8 315.6h0M264.9 265.9h0M232.7 277.8h0M239.9 303.3h0M211.2 341.5h0M212.6 325.9h0M187.7 382.4h0M235.5 330.6h0M249.9 298.6h0M174.9 398.1h0M177.1 360.4h0M261.4 345.7h0M228.7 339.2h0M263.2 332.5h0M283.9 271.3h0M201.1 371h0M209.3 385.6h0M231.7 284.7h0M190.3 379.1h0M244.4 309.2h0M195.2 339.9h0M224.2 339.4h0M219.7 298.4h0M287.3 289.7h0M250.1 301.8h0M220.1 347.2h0M279.2 319.1h0M279.5 314.8h0M200.1 329.6h0M257.5 322.5h0M196.5 345.8h0M221.2 355.5h0M189.6 373.8h0M223.5 331h0M234.4 365h0M251.2 327.9h0M234.4 373.8h0M278 322.9h0M275.4 296.8h0M246.6 318.1h0M227.2 328.8h0M225.7 341.2h0M189.8 358.8h0M266.1 356.8h0M288.7 308.1h0M182.8 388.9h0M189 390.9h0M184.5 363.3h0M184.3 382.1h0M195.8 341h0M189.5 340h0M184.5 365.9h0M177 403.3h0M279 273.1h0M247.9 317.4h0M182.6 395.9h0M266.4 334.9h0M245.4 358.5h0M308.2 283.1h0M208.8 362.3h0M281.2 264.2h0M275.6 324.9h0M236.7 297.7h0M267.9 324h0M169.7 395.6h0M207.2 338.9h0M227.6 379.6h0M188.4 370.7h0M227.6 321.9h0M306.9 343h0M278.5 289.4h0M265.5 280.9h0M204.9 372.6h0M324.5 316.3h0M239.1 369.1h0M288.6 295h0M204.8 371.4h0M238.4 373h0M246.7 349.2h0M303.2 339.5h0M198.9 374h0M173.5 357.7h0M303 307.4h0M220.4 337.4h0M260.5 336.9h0M186.7 372.8h0M303.1 318.8h0M251.4 354.4h0M178.9 377.3h0M295.7 301.4h0M170 382.7h0M237.5 367.5h0M227.7 284.1h0M209.1 334.4h0M306.8 281.7h0M271.8 302.8h0M163.8 379.2h0M233.2 367.5h0M321.7 313h0M301.7 296.1h0M173.2 389.9h0M318.2 297.1h0M325.2 317.4h0M291.4 301.5h0M237.3 346.6h0M269.8 322.4h0M200.8 355.7h0M255.9 292.6h0M250 357.7h0M282.6 294.5h0M270.3 276.8h0M298.6 342.9h0M300.6 346.3h0M276.5 282.2h0M255.9 304.1h0M255.8 343.7h0M258.5 350.1h0M200.3 364.3h0M239.8 274.9h0M299.1 265.2h0M269.6 306.1h0M219.8 311.8h0M269.4 308.1h0M283 268.1h0M196.9 389.7h0M289.7 343h0M288.3 325.4h0M256.9 283h0M223.9 303.5h0M239.1 298.2h0M251.2 347.1h0M315.3 286.2h0M277.4 278.8h0M186.4 365.4h0M298.3 302.8h0M243.7 273.4h0M173.7 373.1h0M267.4 289.1h0M265.9 324.8h0M276.5 350.3h0M229 369.3h0M311.7 326.8h0M244.6 294.3h0M255 308.5h0M247.9 356.3h0M298 289.1h0M236 274.3h0M236.6 368.8h0M316.7 322.8h0M162.8 389.6h0M301.9 270.1h0M179.5 396.9h0M282.9 279h0M221.6 360.5h0M254.8 342.2h0M251 290h0M258.2 357.6h0M269.8 319.6h0M185.3 387.7h0M216.4 311.7h0M304.8 292.5h0M164.8 393h0M191.3 368.4h0M265 274.9h0M230.8 373.4h0M213.5 313.4h0M225.4 362.6h0M191 378.8h0M242.1 366.2h0M319.4 298.8h0M211.8 324.1h0M199.7 332.4h0M233.1 314h0M212.6 384.6h0M240.5 339.8h0M312.8 322.7h0M182.1 393h0M259.7 336.1h0M324.4 325.1h0M307.3 291.1h0M308.6 296.3h0M300.2 283.4h0M287.8 287.8h0M244.9 271.2h0M236.6 280.6h0M168.3 376.4h0M196.8 374.6h0M261.2 297.1h0M184.1 369.2h0M296.3 288.9h0M157.8 388.1h0M252.2 313h0M186.1 395.8h0M268.6 348.1h0M323.5 317.6h0M296.8 269.7h0M160.9 370.2h0M296.6 319.4h0M318.7 296.8h0M294.5 333.3h0M213.7 318.3h0M283.8 347.3h0M312.4 335.4h0M235.3 348.8h0M265.5 307.3h0M269.8 294h0M286.3 263h0M238.7 307.6h0M159.2 378.5h0"/>
<path id="a3" d="M368.9 417.1h0M323.4 383.7h0M348.3 391.3h0M344.6 393.8h0M366.3 336.7h0M319.8 330.4h0M320.2 377.9h0M388.4 370.2h0M371.6 367.2h0M366.7 384.1h0M358.8 347.4h0M380 353.3h0M330.1 344.7h0M372.5 372.2h0M386.8 334.7h0M332.4 351.7h0M389.5 322.9h0M404.7 377.2h0M392.1 357.7h0M400.1 352h0M414.6 343.8h0M342.9 381h0M351.3 364.1h0M348 344.4h0M322 350.7h0M420.4 348.2h0M408 353.2h0M396.2 356.8h0M409.4 348.7h0M323 402.4h0M363.9 321.3h0M320.3 343.7h0M367.5 373.1h0M413 347.3h0M358.6 397h0M317 385.1h0M307.2 380.4h0M342.5 427.4h0M374.7 350.6h0M413.4 325.4h0M370.6 370.9h0M364 330.5h0M354.4 318.8h0M351.4 422.5h0M300.8 371h0M314.3 400.6h0M361.6 409.3h0M412.2 338.8h0M414.1 330.4h0M408.7 330.3h0M377.3 332.1h0M394.2 327.4h0M342 329.8h0M343.8 349.5h0M406.1 319.8h0M345.5 423.2h0M346.3 447.5h0M321.7 380h0M355.7 324.8h0M351.5 407.6h0M306.1 373.7h0M356.1 381.5h0M359.8 401.2h0M359.2 334.3h0M391.8 339h0M325.8 327h0M333.8 315.1h0M354.6 331.2h0M391.3 371.5h0M389.8 357.2h0M331.1 361.7h0M320.9 390.3h0M364 333.7h0M337.3 357.9h0M335.8 431.9h0M411.1 356.3h0M316.5 355.7h0M327.2 341h0M311.1 363.8h0M387.6 395.6h0M341.1 343.3h0M340.4 349.2h0M372.9 356.1h0M422.8 330.5h0M378.2 328.7h0M379.7 339.1h0M358.7 315.6h0M362.2 403.2h0M359 392.3h0M320.2 384.2h0M342.8 384.6h0M336.6 399.2h0M400 330.6h0M333.6 354.3h0M342.2 339.6h0M355.9 329.9h0M335.2 405.3h0M343.1 391.7h0M349.9 373.7h0M350.6 419.6h0M326.4 343.6h0M323.6 398.6h0M389.9 328.1h0M353.3 364.9h0M336.2 366h0M341.2 326.3h0M350.1 327.6h0M380.7 372.4h0M368.6 334.8h0M318.5 357.6h0M367.7 420.9h0M325.6 392.5h0M392.3 392.3h0M318 403.4h0M379.2 325.8h0M337.2 384.1h0M375.7 339.1h0M382.8 310.2h0M405.2 351.6h0M382.6 346.4h0M346.7 430.6h0M400.1 361.6h0M341.1 341.3h0M391.8 380.6h0M374.8 390.9h0M378.3 344h0M368.5 401.8h0M360 418.9h0M400.2 349.1h0M364.5 433.1h0M348.8 358.2h0M333.9 403.9h0M347.7 386.5h0M347.6 410.3h0M304.1 353.4h0M321 416.8h0M334.1 403.1h0M364.1 407.8h0M381.7 339.6h0M309.3 359.9h0M345.1 396.9h0M352.2 363.7h0M371.3 354.1h0M396.2 353.6h0M369.8 376.9h0M353.4 392.2h0M410.1 334.6h0M418.1 354.3h0M355.2 425.3h0M328.5 372.9h0M353.1 327.7h0M366.3 318.8h0M372.8 334.7h0M398.2 334.5h0M364.5 412.1h0M416.9 324h0M350.2 431.2h0M374.1 402h0M382.8 311.6h0M368.4 368.1h0M320.7 368.6h0M367.6 336.4h0M335.3 395.7h0M355.3 405.7h0M347 373.5h0M396 313.1h0M349.6 360.8h0M388 358.7h0M364.7 325.3h0M324.3 345h0M393.2 317.2h0M385.5 377.6h0M409.7 320.7h0M360.5 316.2h0M341.6 325.2h0M311.6 362.2h0M358 383.6h0M348 425.8h0M344.8 329.4h0M334.5 423.9h0M346.8 382.4h0M400 359.2h0M341.5 374.5h0M330.8 411.7h0M328 376.8h0M369.2 413.7h0M410 366.6h0M422.1 342.5h0M315.6 411h0M324.9 397.2h0M329.1 387.8h0M388.1 350.6h0M355.4 408.9h0M344.4 339.5h0M408 377h0M398.3 370h0M364.9 403.6h0M418.5 339.8h0M333.5 409.3h0M358.4 323.8h0M328.2 363.3h0M320.1 423.3h0M401.1 357.4h0M332.3 329.3h0M316.9 359.1h0M391 343.8h0M410.3 329h0M351.3 331.7h0M345.8 419.7h0M323 434.8h0M336.4 312.6h0M353 413.2h0M312 414.4h0M384.8 314.6h0M360.8 370.2h0M378.6 329.8h0M421 356.5h0M347.6 434.4h0M382.1 364.1h0M431.5 349.9h0M374.7 379.3h0M340.4 386.1h0M383.6 399.8h0M311.5 395.6h0M367.8 341h0M405.4 341h0M363.3 376.8h0M367.3 398.7h0M330.7 348.1h0M383.5 341.8h0M332.4 364.4h0M400.9 313.4h0M325.8 371h0M392.8 319.8h0M341.4 384.6h0M400.3 373.8h0M329.6 327.1h0M357.7 335.7h0M360.3 409.6h0M376.1 313h0M327.5 360.5h0M327.1 331.2h0M374.8 337.8h0M407.8 367h0M334.1 364.1h0M374 385.6h0M323.5 407.1h0M334.9 336.8h0M384 384.6h0M317.4 366.6h0M370.7 389.3h0M427.8 349.5h0M344.4 343.1h0M425.4 347.4h0M306 368.2h0M364.8 386.9h0M335.2 324.6h0M429.1 337.3h0M326 390.1h0M373.5 372.7h0M367.4 377.5h0M336.6 331.1h0M336.6 389.2h0M370.3 400.3h0M363.6 410h0M335 350.8h0M334.7 416.6h0M334.8 435.8h0M401.9 338.2h0M357.1 329.4h0M317.6 421.7h0M359.9 351.1h0M328.1 322.5h0M386.5 322.9h0M378.5 349.2h0M364.8 364.3h0M398.8 328.7h0M397.2 323.9h0M345.6 358.5h0M303.3 362.9h0M321.2 334.5h0M380.7 328.4h0M351.4 319.1h0M347.2 446.5h0M320.2 334.5h0M366.2 340.8h0M376.6 401.6h0M331 406.1h0M376.2 326.1h0M382.7 336.8h0M314.2 363.7h0M363.1 422h0M357.1 319.3h0M318.6 426.7h0M382.8 323.2h0M325.8 423.9h0M368.3 396h0M308.2 366.5h0M367.7 419.6h0M424 352.8h0M312.7 341.9h0M379.5 393.6h0M379.6 347.8h0M433.6 347.1h0M365.9 371.6h0M333.8 382.9h0M430 346.8h0M380.8 400.7h0M316 382h0M342 412.2h0M354.1 355.2h0M331.6 350.6h0M375.6 388.3h0M416.7 332.6h0M338.8 361.1h0M342.6 337.8h0M339.7 407.7h0M356.2 361.3h0M364.4 390.9h0M318.1 400h0M324.9 368.8h0M339.8 418.7h0M373.2 369.1h0M338 429.3h0M338.9 412.3h0M365.2 407h0M359.6 371.7h0M422.5 350.3h0M371.4 325.3h0M359.4 425.8h0M403.3 379.4h0M354.6 370.7h0M344.1 318.1h0M340 314.3h0M356.2 391.2h0M397.3 345.4h0M369.2 322.5h0M338.8 435.1h0M338 351.8h0M383.9 355.3h0M367.7 331.9h0M365.8 331h0M352.4 369.5h0M358.5 365.9h0M397.4 332.1h0M298.7 372.5h0M333.3 319.6h0M377.9 389.6h0M417 360.5h0M354 318.9h0M410.5 352h0M299.4 376.1h0M309.4 348.7h0M316.6 343.3h0M349.2 368.2h0M419.4 337.3h0M331.3 433.3h0M403.7 351.2h0M376.3 379.6h0M379.1 375.7h0M411.2 332.5h0M345.1 314h0M327.3 336.3h0M365.9 344.7h0M344.1 365.1h0M369 319.4h0M320.4 346.2h0M420.1 329.7h0M347.4 344.8h0M379.4 318.6h0M367.5 391.3h0M395.9 350.5h0M345.2 353.6h0M348.3 395.2h0M343.7 423.3h0M377.2 336.6h0M338.8 431.9h0M345.6 325.5h0M383 342h0M402.3 390.8h0M371.4 331h0M339.7 422.7h0M364.6 419h0M374 371.9h0M411.9 353.9h0M331.7 365.4h0M328.1 400h0M311.7 402.2h0M360.8 354.4h0M315.3 408.1h0M400.7 357.6h0M329 420.9h0M338.9 437.4h0M365.9 378.9h0M336 338.8h0M384 392.8h0M380.4 346.5h0M355.5 327h0M369.3 406.7h0M330.5 427.5h0M376.8 365.3h0M409.2 360.3h0M374.8 372.5h0M311 375.4h0M326.7 408.1h0M407.9 346.5h0M395.4 372.6h0M402 368.8h0M404.7 319.1h0M330.7 419h0M358.6 417.5h0M359.6 328.4h0M305.1 365.9h0M329.8 323.7h0M366.5 355.1h0M367.3 410.8h0M343.1 427.9h0M318.3 375.5h0M420.3 334.3h0M341.9 440.3h0M313.9 373.7h0M373.7 367.4h0M346.7 356.9h0M340.2 424.3h0M356.4 378.5h0M354.4 434.9h0M328.3 381.1h0M354.6 419h0M383.8 350.8h0M318.5 373.7h0M351.4 346.6h0M398.6 330.2h0M348.3 363.2h0M357.7 337.7h0M338.4 376.4h0M350.4 439.2h0M413.3 345.8h0M393.6 333.4h0M372.2 416.4h0M347.8 424.9h0M356.4 427h0M353 425.9h0M370.3 423h0M300.8 366.7h0M320.2 392.1h0M308.6 377.3h0M334.8 376.4h0M394.1 371.6h0M326.3 355.8h0M304.6 362.9h0M378.2 377h0M392.3 348.5h0M372.6 323.3h0M353.4 336.8h0M389.9 346h0M343.7 323.1h0M391.2 384.7h0M355.6 426.4h0M400.7 359.7h0M352.6 380.2h0M370.4 373.6h0M337 406.2h0M393.2 341.4h0M356.4 321.6h0M352.2 315h0M359.2 354.6h0M308.1 385.6h0M337.9 327.3h0M357 434.8h0M341.5 404.9h0M312.5 344.5h0M328.3 385.7h0M386.7 336.6h0M313.1 411.7h0M417.9 326.4h0M400.4 320.7h0M357.5 329.2h0M322.1 381.9h0M347.3 371.6h0M332.6 358.8h0M329.7 339.7h0M355.5 403.6h0M352.1 439h0M343.3 319.4h0M339.6 378.9h0M307.8 356.2h0M392.5 337.5h0M346.1 400.3h0M363.1 360.9h0M329 434.6h0M357.7 387.9h0M337.9 363.5h0M346.1 327.3h0M357.7 358.4h0M372.7 360.7h0M336.2 416.9h0M364.6 362.9h0M323.8 423h0M352.4 396.1h0M342.9 314.6h0M328.6 350.7h0M368.3 322.4h0M370.5 382.5h0M359.2 361.7h0M323.4 397.7h0M405.9 357.9h0M396.6 367.6h0M385.5 387.5h0M352.1 386.5h0M313 408h0M342.8 400.4h0M389.2 349.6h0M347.9 370.7h0M362 394.4h0M384.9 317h0M343.9 398.1h0M339.3 416.5h0M362.3 406.3h0M369.5 379.9h0M351.4 384.4h0M361.5 399.2h0M360.5 397.2h0M420.8 327h0M338.9 376.2h0M337.1 359.7h0M347.9 331.7h0M410.6 319.4h0M317 404h0M376.1 347.5h0M364.1 347.6h0M313.5 405.9h0M345.7 331.8h0M380.9 338.7h0M324.7 342.3h0M387.8 361.1h0M362.9 349.7h0M353.4 383.7h0M298.5 362.6h0M339.6 339.5h0M339 355.4h0M350.4 405.9h0M324.2 375h0M323.4 432.8h0M320.9 428.1h0M358.2 391.6h0M363.5 316.3h0M345.2 361.2h0M331.6 397.5h0M336 385.9h0M415.9 354h0M354 378.5h0M341.4 332.6h0M352 323.3h0M429.4 340.3h0M310.3 366h0M331 429.9h0M367.3 352.3h0M406.1 336.3h0M381.2 392.8h0M401 343.9h0M343.7 404.9h0M406.7 355.4h0M365.5 413.4h0M308.6 347.9h0M327 383.8h0M337.9 318.7h0M321.6 388.1h0M321.5 394.2h0M329.7 332.6h0M304.5 363.7h0M378.8 348.1h0M389 399.3h0M352.3 341.1h0M389.6 341.1h0M306.6 385.2h0M358.4 332.2h0M417.9 351.1h0M361.4 377.3h0M329.5 359.9h0M312.5 349.7h0M362.6 340.6h0M345.3 386.4h0M356.1 400.2h0M346.6 336.4h0M356.3 417.8h0M410.2 343.5h0M320.9 404.7h0M349.1 343.1h0M307 387h0M383.7 326.6h0M365.6 326.4h0M363.3 318.2h0M405.5 330.5h0M348.3 323.1h0M359.2 385.7h0M336.2 421.4h0M341 380.2h0M410.2 363.4h0M341.7 437.8h0M379 382.1h0M396.9 356.7h0M314.3 368.8h0M333.8 381.5h0M315 359.8h0M318.4 339.4h0M299.4 370h0M350.7 403.8h0M361.2 421.8h0M355.2 357.2h0M330.5 413.7h0M371.1 345.8h0M350.6 333.9h0M328.1 353.8h0M358.4 407.9h0M323.5 355.8h0M400.5 323.8h0M327.3 401.4h0M379 372.2h0M337.2 340.1h0M326.4 349.1h0M334.9 345.8h0M323.6 354.6h0M403.3 329.5h0M319.5 423.8h0M372.5 348.5h0M376.6 391.2h0M379.4 362.1h0M351.5 366h0M329.6 327.3h0M328.5 412.8h0M355.5 336.3h0M337.3 329.2h0M337.2 378.9h0M297.1 359.1h0M416.1 337.3h0M364.7 351.6h0M351.2 349.9h0M347.1 393.7h0M378.2 403.3h0M407.7 323.8h0M366.5 359.2h0M330.9 359.2h0M391.7 330.5h0M369.7 375.4h0M305.1 350.9h0M402.4 355h0M341.2 401.1h0M303.7 368.5h0M373.6 385.4h0M337.2 355.3h0M344.2 353.1h0M412.2 352.4h0M360.7 431.6h0M304.3 356.4h0M388.1 389.8h0M320.7 382.8h0M360.1 384h0M387 318.4h0M393.3 364.1h0M365.6 401.5h0M395 326.5h0M373 318h0M334.8 420.4h0M310.7 401.7h0M332 424.5h0M305.7 349.4h0M322.4 386.6h0M424.2 333.4h0M350.2 362.6h0M382.2 314.9h0M332.4 415.4h0M366.8 338.5h0M389.1 320.3h0M358.5 345.2h0M315.4 373.6h0M331.6 335.8h0M372.6 399h0M360.8 388.5h0M331.7 374.4h0M386.5 344.3h0M382.7 387.9h0M408.3 342.3h0M416.3 361.7h0M358.8 323.1h0M421.9 346.7h0M308.2 361.9h0M373.8 329.1h0M423.3 350.9h0M350.9 356h0M399.9 346.4h0M414.3 327h0M338.1 427h0M369.4 408.7h0M305.7 372.8h0M379.5 365.3h0M344 345.4h0M392.9 365.3h0M327.9 404.5h0M391.5 329.8h0M402.2 352.8h0M318.5 394.3h0M317.8 417.9h0M370.4 351.4h0M345.4 438.7h0M379.7 337.9h0M352.8 347.2h0M343.2 387h0M348.3 412.2h0M382.3 375.3h0M329.6 368.4h0M357.1 439h0M422.8 332.2h0M349.2 420.3h0M383.6 319.5h0M303.3 379.4h0M325.3 334.7h0M377.5 317h0M322 404.3h0M322.6 431.5h0M389.8 362.8h0M358.6 327.1h0M343.6 433.1h0M392.4 353.8h0M317.1 337.5h0M319.4 408.9h0M353.2 371.5h0M341.1 356.2h0M369.8 404.5h0M416.1 342.1h0M338.9 316.4h0M386.7 383.6h0M349.2 338.7h0M319.7 409.7h0M406 321.9h0M374.8 404.9h0M323 420.7h0M346.9 440.6h0M300.1 375.1h0M373.4 354h0M366.9 395.2h0M381.1 313.4h0M353.1 443.1h0M323.2 430.5h0M413.4 360.6h0M341.7 313.5h0M398.8 353.8h0M403.7 338.5h0M343.6 379.3h0M333.6 412.2h0M343.2 358.3h0M351.8 357h0M374.4 341.3h0M365.1 375.2h0M337 321.7h0M304.4 378.1h0M392 336h0M420.2 333.7h0M333 337.8h0M414.4 351.3h0M373.6 392.5h0M317.5 394.8h0M337.8 375.2h0M368.4 364.2h0M354 386.4h0M353.7 435.5h0M379.1 367.5h0M331.6 391h0M379.1 381.5h0M401.8 329.6h0M400.4 344.5h0M405.2 349.1h0M336.5 368.8h0M397.2 321.8h0M334.2 326.1h0M396.2 318.2h0M313.3 384.4h0M325.7 431.7h0M360.3 348.6h0M339.6 389.6h0M347.5 328.4h0M303.5 359h0M342.1 445.7h0M347.3 391.1h0M359.3 416.7h0M365.8 389.4h0M378.5 370.8h0M343.2 408.8h0M372.2 327.2h0M323 358.6h0M329.3 426.1h0M315.1 379.7h0M412.4 347.2h0M358.8 318.1h0M377.9 399.7h0M336.9 350h0M306.4 379.4h0M342.2 346.5h0M349.5 385.7h0M403.8 354.9h0M373.3 384.2h0M376.6 382.1h0M352.2 434.1h0M345.6 401.5h0M392.2 313.1h0M375 395.2h0M312.2 359.3h0M326.7 414.7h0M329.8 328.5h0M415.3 329h0M348 381.9h0M394.9 345.2h0M333.4 333.2h0M329.3 386.7h0M392.9 357h0M331.5 373.9h0M369.3 391.4h0M317.3 408.1h0M339 370.5h0M345.4 366.2h0M353.9 398.8h0M391.9 316.1h0M366.1 396.2h0M337.5 408.4h0M364.2 416.8h0M330.9 406.8h0M340.9 429.1h0M409.3 353.2h0M395.7 342.1h0M365.3 350.2h0M332 340.2h0M323.6 426.2h0M353.7 433.3h0M356.8 394.7h0M313.2 381.6h0M435 346h0M388.3 324.5h0M334.7 411.8h0M400 339h0M344.5 321h0M311.1 412.9h0M374.5 325.8h0M324.8 417.7h0M347.9 351.7h0M334.7 359.1h0M338.9 392.6h0M351.8 373.6h0M340.5 335.7h0M362.5 337.5h0M379.3 336h0M360.1 340.2h0M427.6 343h0M319.5 408.1h0M357.3 342.1h0M365.5 347.6h0M355.5 365.3h0M314.7 387.8h0M367.4 349.7h0M331.2 339.3h0M358 386.4h0M392.1 326.4h0M323.3 378.9h0M337.5 423.9h0M397.5 349.3h0M310.1 409h0M396.6 380.5h0M341.8 394.6h0M351.3 333.1h0M369.3 332.8h0M324.4 409.4h0M365 424.1h0M385.4 347.2h0M365.7 417.2h0M392.1 388.5h0M379.5 328.4h0M325.1 347.3h0M387.1 309.9h0M342.3 367.1h0M309.1 364.5h0M329.8 438.1h0M364.9 358.3h0M341.2 363h0M314 391.7h0M359.8 375.3h0M347.3 315.3h0M352.2 333.5h0M429.6 348.2h0M389 360.5h0M403.6 326.1h0M312 387.6h0M340.7 372.4h0M326.5 427.9h0M428.1 338.2h0M303.7 371.5h0M388.4 331.4h0M348.8 403.1h0M389.1 347h0M328.7 335.4h0M352.4 419.3h0M357.7 380.1h0M341.4 346.2h0M307.3 381.3h0M378.1 388h0M404.1 366h0M402.1 336.1h0M386.9 374.7h0M381.9 349.3h0M382.5 381.3h0M372.2 410.4h0M302.1 354.9h0M312.9 362.7h0M346.9 387.6h0M334.1 401.1h0M321.5 375.4h0M365.6 344h0M352.7 324.8h0M422 337.8h0M327.3 374.4h0M389.3 316.6h0M341 398.5h0M310.7 371.8h0M358.2 424.8h0M344 437.1h0M353.1 438.3h0M385.9 311.3h0M355.2 395h0M389.1 347.6h0M333 342.2h0M327 320.6h0M327.3 352.8h0M386.3 353.8h0M419.1 328.1h0M398.2 345.1h0M333 400.4h0M320.8 362.5h0M382.5 364.7h0M351.2 427.6h0M380 356.9h0M350.9 337.8h0M367.3 427.5h0M343.4 414.1h0M324.4 331.5h0M397.1 360.9h0M341.2 359.5h0M338.2 411h0M369.9 403.6h0M331.7 417.2h0M328 343.3h0M346.8 375.7h0M423.2 342.9h0M344.9 370h0M361.8 419.2h0M328.8 422.7h0M368.4 392.1h0M336.9 428.6h0M370.7 337.5h0M323.8 379.9h0M319.5 434.7h0M321.7 338.1h0M311.2 376.9h0M322.7 377.4h0M347.6 431.8h0M337.5 323.8h0M326.1 325.2h0M395.6 390.6h0M396.1 337.7h0M320.4 342.4h0M322.6 325.8h0M375.8 345.6h0M368.1 386.6h0M330.3 422.1h0M339.9 381.5h0M380.7 351.6h0M324.1 360.9h0M352.7 389.7h0M331.3 382.9h0M362.1 327.5h0M325.6 405.5h0M342.4 367.8h0M383.2 361.5h0M356.9 412.6h0M394.5 340.5h0M333 369.7h0M405.3 340h0M413.4 333.2h0M371.1 363.3h0M320.6 359.9h0M347.4 437.5h0M341.7 320.6h0M344.5 414.6h0M360.1 357.4h0M429.2 344.8h0M341.8 354h0M337.8 413.4h0M392.4 372.3h0M309.4 357.2h0M389 399.1h0M354.1 432.3h0M376.2 337.5h0M325 414.7h0M359.7 332.1h0M352.9 380.7h0M368.4 339h0M419 346.4h0M363.2 356.6h0M337.8 431.5h0M424.5 334.9h0M346.4 349.9h0M323.1 327.4h0M370.3 421.9h0M313.3 359h0M351 369.4h0M317.6 353.2h0M344 435h0M354 351.7h0M348.5 353.7h0M346.2 317.8h0M320.5 412.9h0M317.5 387.5h0M339.2 433h0M341.3 394.6h0M337.6 401.5h0M345.9 342.4h0M408.6 332.6h0M399.5 333.6h0M331.5 399.7h0M392.5 394.6h0M357.5 401.4h0M361.1 416.1h0M362.4 428h0M308 351.8h0M391 334h0M318.9 336.5h0M327.9 379.5h0M316 376.3h0M353.6 384.1h0M373.2 319.2h0M370.4 345.3h0M333.5 373.4h0M359.8 346.5h0M377.9 333.3h0M381.8 350h0M344 333.8h0M426.2 341.6h0M315.1 367.9h0M406 371h0M410.2 339.1h0M332.1 378.6h0M411.1 342h0M373.9 352h0M411.6 327h0M386.4 341.4h0M360.6 343.1h0M317.4 401.8h0M310.9 392.1h0M370 315h0M350 353.6h0M377 396.8h0M373 408.5h0M329.9 390.9h0M388.7 367.7h0M339.5 332.2h0M360.2 429.3h0M359.4 367.7h0M332.7 320.1h0M374.8 315.5h0M300.6 356.1h0M319 360.8h0M392.6 366.2h0M320 350.2h0M347.9 396.7h0M368.1 411.8h0M404.6 334.8h0M349.5 379h0M336.8 419.4h0M322.8 405.7h0M413.4 336.5h0M337.6 436.9h0"/>
<path id="a7" d="M512 396h0M435.9 401.4h0M466.4 375.6h0M459.9 357.1h0M475.7 354h0M509.2 385.8h0M456 407.4h0M446.7 363.9h0M463.8 378.5h0M528.2 393.6h0M439.4 338.1h0M488 406.4h0M517.3 379.1h0M491.7 390.4h0M467 384.2h0M473.9 396.1h0M485.1 402.6h0M482.6 414.5h0M464 392.8h0M458 400.5h0M452.2 342.1h0M485.1 377.8h0M466.2 395.4h0M446.2 403.9h0M494.1 384.3h0M476.3 385.8h0M492.4 362.7h0M465.7 380.6h0M461 412.2h0M479.6 356.3h0M512.5 398.5h0M491.1 383.5h0M501.8 399.6h0M503.6 404.3h0M459.3 365.7h0M506.8 398.2h0M444.7 350.5h0M514.6 393.6h0M523.7 394h0M472.1 384h0M504.7 374.2h0M483 363.4h0M506.1 401.4h0M423.6 347.5h0M485 391.9h0M488.5 395.3h0M463.2 388.4h0M481.8 399.2h0M512.5 380.7h0M477.3 350.3h0M485.3 408h0M497.7 390.8h0M502.7 377.4h0M480.3 373.4h0M503.2 390.5h0M466.7 339.2h0M513.5 388.7h0M480.4 382.1h0M509.9 384.4h0M513.4 400.9h0M430.7 359.7h0M472.2 396.8h0M473 394.4h0M473.1 398.7h0M483.5 413.5h0M484.2 406.9h0M462.7 398.5h0M478.3 400.8h0M507.3 405.2h0M490.5 360.7h0M417.3 382.8h0M500.4 405.4h0M450.7 395.1h0M482.1 369.6h0M472.8 392.9h0M486.6 378.6h0M475.3 396.1h0M464.8 368.6h0M474.9 359.6h0M530.4 388.4h0M478.5 387.9h0M461.7 410.5h0M497.9 399h0M470.1 387.2h0M470.7 375.7h0M514.8 399.2h0M441.9 392.7h0M501.1 415.2h0M432.2 346.9h0M457 344.1h0M482.5 367.8h0M475.7 362.9h0M511.8 392.8h0M496.2 370.7h0M479.9 359.9h0M478.3 376h0M470.7 360.3h0M478.3 351.9h0M471.6 372.9h0M492.5 365.8h0M527.4 398.4h0M495.9 405.9h0M423.8 371.7h0M456.4 379.9h0M526.5 386.2h0M496.9 376.1h0M495.9 374.6h0M462.8 408.2h0M431.7 388.9h0M441.5 348.8h0M428.6 378.9h0M522.8 396.4h0M502.8 403.3h0M488.5 373.7h0M464.7 408h0M457.7 395.6h0M501.1 390.7h0M436.5 396.6h0M517.1 385.1h0M444.6 396.3h0M459.8 403.9h0M442.4 359.7h0M486.1 356.1h0M481.6 357.3h0M454.7 389.1h0M439.1 365.6h0M524.4 385.5h0M485.3 364.4h0M451.9 358.6h0M464.9 414.2h0M486.9 386.8h0M479.9 370.2h0M482.2 378.2h0M520.3 398.5h0M468 404.8h0M506 368.6h0M487.3 372.8h0M464.3 362.6h0M489.6 409.3h0M461.2 405.9h0M463.5 383.1h0M507.5 393.7h0M511.3 389.9h0M521.4 393h0M429.3 354.9h0M475.7 375.5h0M474.3 406.8h0M457.5 386.8h0M504.1 406.1h0M492.4 357.3h0M517.2 392.1h0M481 383.6h0M425.7 358.9h0M492.5 412.6h0M514.9 379.6h0M487.1 364.8h0M444.4 347.4h0M481.8 354.9h0M447 373h0M432.9 352.9h0M429.8 367.5h0M446.8 401.7h0M447.3 355.2h0M511.1 374.3h0M475.6 379.3h0M509.3 400.4h0M500.3 370h0M466.6 400.1h0M458.8 389.4h0M434.6 385.3h0M483.5 375.6h0M479.3 395.6h0M478.9 410.5h0M510.7 388.2h0M468.2 363h0M517.2 396.8h0M484 400.7h0M508.8 379.7h0M486.3 369h0M489.2 365.7h0M484.9 385.1h0M508.8 373.7h0M475.2 349.3h0M511.1 393.4h0M456 394.7h0M434.7 358.7h0M506 409.5h0M464.2 399.8h0M519.4 380.7h0M468.8 357.9h0M519.7 392.8h0M461.4 376.5h0M482.8 384.8h0M497.3 407.1h0M476.2 392.2h0M459.4 391.3h0M521.6 389.2h0M515.9 390.1h0M504.8 371.3h0M450.5 398.4h0M508.6 370h0M452.9 387.4h0M490.7 393.6h0M467.9 371.9h0M478.7 397.8h0M509.5 381.8h0M466.9 375.8h0M510.3 404.3h0M457.7 372.8h0M503.6 379.3h0M497.6 383.1h0M480.7 391.5h0M485.2 390.9h0M511 395.9h0M490.5 378.1h0M459.7 386.4h0M469 388.3h0M484.9 395.8h0M456.2 371.9h0M427.1 345.4h0M480.4 401.8h0M499.4 378.9h0M514 403.8h0M432.8 340.2h0M447.2 392.4h0M467.3 343h0M522.7 392.7h0M488.2 356.8h0M495.2 392.3h0M435.7 341.9h0M437.8 390.9h0M445 371.6h0M454.7 404.9h0M418.4 352.5h0M511.5 372.8h0M490.2 374.3h0M467.4 353.9h0M462.8 353h0M516.8 398.7h0M482.7 389.4h0M498.6 408.2h0M475.8 371.6h0M477.3 359.1h0M507.5 403.1h0M446.2 337.8h0M455.9 377.8h0M495.6 411.8h0M450.8 403.5h0M427.7 353.8h0M462.6 383h0M475.7 408.6h0M480 375.9h0M459.1 383.9h0M473.7 345.2h0M483 387h0M472.2 375.9h0M428 365.5h0M440 363.1h0M467.1 388.7h0M455.6 363.2h0M498.6 393.5h0M474.7 369.6h0M444.7 367.1h0M459.7 365.2h0M437.3 370.2h0M454.9 393.8h0M511.5 402.1h0M501.4 397.2h0M473 340.3h0M442.2 354.6h0M492.9 361.3h0M468.7 409.1h0M473 403.6h0M463.9 365.8h0M497.5 405.5h0M468.2 382.2h0M480.4 380.6h0M433.8 361.6h0M467.4 365.4h0M505 382.3h0M480.8 349.8h0M486 400.8h0M463 368.6h0M499.9 382.3h0M519.1 390.5h0M479.8 408.6h0M475.9 402.6h0M475.8 382.8h0M460.1 378.4h0M498.7 385.8h0M483.6 365.5h0M484.5 360.3h0M469.6 371.7h0M471.8 379.7h0M478.5 364.7h0M504.2 393.8h0M463.4 397.4h0M456.6 355.9h0M490.5 376.9h0M451.7 368.1h0M473.7 386.8h0M465.5 402.4h0M453.3 392.5h0M506.8 376.8h0M407.9 378.6h0M420.5 379.6h0M462 369.2h0M504.6 397.7h0M462.5 344.3h0M502.6 374.6h0M507 385h0M466.6 411.7h0M502.2 386.3h0M501.7 380.4h0M477.4 380.2h0M465.1 378.1h0M525.1 394.9h0M471.1 408h0M512.8 377.7h0M424.8 362.4h0M492.4 404.1h0M502.7 367.7h0M481.5 360.4h0M497.9 366.5h0M482.8 368h0M507.3 378.3h0M497.1 397h0M461.7 363.7h0M471.1 366.6h0M474.1 357.9h0M517.4 382.7h0M490.2 401.9h0M462.8 349.1h0M483 410.3h0M487.6 408.8h0M453 351.1h0M505.5 380.4h0M503.7 394.7h0M432.5 393.7h0M438.5 382.8h0M470.9 350.6h0M452.6 373.6h0M473.2 354.4h0M470.5 383.9h0M492.4 408.7h0M438.1 345.9h0M489 399.8h0M488.6 391.8h0M501.6 402.9h0M503.3 384.9h0M481.4 410.5h0M494.2 356h0M491.3 372.4h0M463.7 377h0M436.3 375h0M480.4 404.8h0M455.6 385h0M431.8 380.7h0M512.8 387.9h0M444.8 375.7h0M508.5 391.9h0M449.1 392.8h0M455 401.5h0M498.8 368.9h0M496.8 380h0M452.9 397.4h0M462.3 404.2h0M474 367.6h0M517.5 389h0M494.6 368.2h0M474.4 379.8h0M487 353.8h0M451.2 385.6h0M471.2 377.4h0M474.4 362.7h0M510 381.4h0M462.8 386.7h0M477.9 389.9h0M420.2 366.6h0M502.2 376.4h0M458.9 407.8h0M500.7 401h0M499.7 397.5h0M474 350.2h0M491.2 389.2h0M492.5 402.4h0M492 369.3h0M485.7 389.2h0M429.5 341.8h0M475.4 410.8h0M505 401.2h0M476.9 407.3h0M497.4 393.5h0M479.5 368.4h0M460.6 351.6h0M457.2 397.1h0M501.9 370.4h0M468.8 400.6h0M492.7 397.4h0M489.7 411.2h0M455.3 382.8h0M493.8 411.1h0M468.9 406.2h0M455.5 378.7h0M461.3 392.7h0M460.6 372.8h0M496.8 401.2h0M442.3 398.6h0M472.4 364.3h0M504.1 407.5h0M474.4 351.3h0M521.8 384.5h0M492.9 389.9h0M489.4 384.3h0M478.7 363.1h0M526 386.8h0M457.4 383.3h0M456.3 374.3h0M432.8 372.3h0M438.6 351.2h0M477.8 405.2h0M464.2 410.3h0M466.6 409.7h0M448 386.5h0M418.9 356.6h0M473.9 382.9h0"/>
<path id="a9" d="M202 283.5h0M191.1 291.2h0M214.7 293.5h0M155.5 304.7h0M195.3 295.7h0M163.5 305.1h0M157.2 308.1h0M175.7 296.9h0M211.7 289.1h0M215.7 289.2h0M164.9 300.9h0M157.8 304.5h0M189.5 292.2h0M172.6 303.1h0M184.3 301.3h0M168.2 304.1h0M168.8 298.7h0M210 294.8h0M209.6 287.8h0M161.8 300h0M177 299.8h0M196.9 288.8h0M163.2 308.1h0M212.7 286.4h0M193.9 291.9h0M195.5 292.8h0M198.3 290.7h0M159.7 302.5h0M200 271.7h0M157.1 306h0M179.1 297.9h0M214.9 287.4h0M213.5 284h0M213.3 287.9h0M193.7 289.9h0M213.5 291.3h0M182.9 299.8h0M173.8 299.6h0M203.2 290.6h0M166.3 297.1h0M201 289.7h0M196.8 294.1h0M182 301.5h0M185.6 293.7h0M190.3 298.7h0M208.4 286.3h0M187.8 294.4h0M198.9 294.2h0M159.5 299.8h0M175.3 300.3h0M162.9 301.6h0M179 295.8h0M175.1 298.5h0M185.6 296.5h0M201.8 291.6h0M166.3 302.4h0M173.4 297.4h0M169.1 295.7h0M168.9 300.7h0M155.5 307.2h0M166.6 300.2h0M187.8 301.3h0M183.9 297.4h0M193 294h0M166.9 306.3h0M199.7 292.1h0M204.8 288.6h0M151 303.2h0M188.5 298.6h0M201 294.7h0M171.5 298.3h0M208.2 290.4h0M188.8 296.8h0M208.2 292.5h0M207.8 296.3h0M179.2 302.3h0M170.4 304.3h0M172.4 304.8h0M216.6 287.6h0M170.5 301.7h0M158.1 297.9h0M164.8 298.2h0M195.8 290.9h0M173.6 294.4h0M155.1 300.6h0M186.2 300.9h0M172.6 295.8h0M152.5 306.2h0M212.1 294.9h0M153.2 303.4h0M215.4 285.2h0M173.9 301.6h0M185.8 298.4h0M175.4 303.8h0M155.9 309.3h0M155.6 302.2h0M178 301h0M204 293.7h0M210 292.5h0M200.1 296.6h0M204.8 296h0M204.6 291.5h0M176.9 294.4h0M168.6 302.4h0M152.9 310h0M180.2 299h0M182.2 296.8h0M194.8 297.7h0M170.5 299.8h0M161.2 308.8h0M207 289.3h0M184.7 295h0M172.2 300.3h0M161.4 302.1h0M211.7 291.2h0M182.6 293.9h0M164.3 303.7h0M193.1 297.3h0M190.7 294.6h0M160.6 304.2h0M200.9 287.8h0M177.3 297h0"/>
<path id="a11" d="M214.6 253.3h0M232.4 431.3h0M272.1 380.7h0M231.5 439.5h0M215.5 468.7h0M200.4 465.8h0M208 463.6h0M260.3 398.4h0M222.7 443.2h0M241.9 426.3h0M211.7 462.9h0M250.2 415.2h0M255.7 403h0M250.8 410.5h0M209.8 460.9h0M248.3 417.8h0M221.3 449.2h0M227.9 441.4h0M261 393.1h0M242 422h0M205.1 464.3h0M258.8 401.3h0M244.7 421.1h0M251.2 251.2h0M262.7 384.9h0M239.1 424.2h0M201.6 469.7h0M215.9 452.1h0M216.7 454.9h0M213.5 455.5h0M230.2 433.7h0M256.9 408.3h0M221.4 453.9h0M219.8 451.9h0M233.6 436.2h0M203.4 467.8h0M259.3 406.6h0M263.8 394.7h0M246.9 442.5h0M244.2 423.8h0M212.5 460.4h0M254.5 407h0M236.9 430.8h0M266.3 256.5h0M238.6 444.6h0M242.9 253.3h0M217.6 465.5h0M240 431.7h0M238.7 427.9h0M275.2 385.9h0M246.9 414.2h0M235.4 441.4h0M228.1 450.8h0M233.3 465.5h0M231 436.9h0M239.6 408.9h0M283.6 375.4h0M230.3 247h0M224.5 445.8h0M253.8 411.6h0M209.3 251.2h0M215.4 457.5h0"/>
<path id="a10" d="M260.2 456.3h0M247.4 511.6h0M277.6 451.2h0M264.3 430.6h0M262.8 471.3h0M253.2 506.6h0M255.9 486.5h0M266.6 426.5h0M307.3 422.6h0M262.2 449.1h0M254.2 523.3h0M247.4 517.6h0M264.8 455h0M245.1 505.5h0M250.1 517.4h0M262.3 489.1h0M268.6 432.5h0M249.1 519.5h0M256.1 506.4h0M245.8 492.1h0M261.8 445.5h0M283.6 432h0M277.7 447.6h0M277.3 445h0M252 498.5h0M249.6 523.5h0M270 425.7h0M290 441.8h0M263.3 434.2h0M268.6 450h0M246.1 507.6h0M254.1 518.3h0M259.5 429.9h0M255.8 499h0M258.4 474.1h0M289.3 438.8h0M261.5 462.5h0M244.6 493.6h0M263.4 452.9h0M260.8 497.4h0M269.2 443.3h0M266.3 452.6h0M270.4 430.5h0M261.6 437.2h0M246.6 502.5h0M280.9 445.6h0M306.3 437.2h0M264.8 437.3h0M259.1 480.8h0M259.7 491.4h0M264.5 458.1h0M299.3 434.1h0M282.7 446.1h0M247.8 513.5h0M257 509h0M256.2 469.7h0M275.7 449.4h0M272.8 450.6h0M256.9 494.7h0M242.4 498h0M247.6 515.9h0M244.2 486.2h0M246 516.3h0M284.5 440.8h0M268.5 422.9h0M265.5 442.2h0M272.1 427.8h0M252.2 444.6h0M255.4 512h0M267.9 438.3h0M274.7 451.4h0M258.5 502.3h0M244.2 500.4h0M244.7 488.9h0M257.3 483.2h0M267.6 439.8h0M251.8 495.5h0M260.6 465.7h0M291.8 437.2h0M306.7 437.2h0M254.8 477.3h0M270.6 453.7h0M263 455.9h0M263.1 426.1h0M263.2 485.2h0M253.3 490.9h0M251.3 515.7h0M253.1 509.3h0M307.7 423.6h0M269 446.4h0M258.4 462.6h0M284.5 443.5h0"/>
<path id="a13" d="M374.8 277.4h0M330.8 232.4h0M350.8 288.9h0M324.6 242.9h0M358.1 265.9h0M314.1 234.5h0M360.2 282.7h0M339.2 293.1h0M341.3 263.8h0M341.3 268h0M326.7 217.7h0M349.7 274.3h0M336.1 249.1h0M319.3 259.6h0M326.7 280.6h0M364.4 249.1h0"/>
<path id="d8" d="M223.9 743.3h0M226.9 744.7h0M190.2 776.9h0M205.6 768.1h0M186.3 760.8h0M268.1 813.3h0M218.9 735.7h0M245.1 753.2h0M214.6 790.3h0M207.3 807.9h0M236 745.3h0M213.5 780.7h0M222.9 795.3h0M210.4 752.3h0M234 750h0M230.5 803.8h0M193.4 728.8h0M202.5 760.7h0M212.9 758h0M189.3 730h0M187.6 761.6h0M245.3 814.2h0M229.4 821.2h0M219.1 806.9h0M200.4 809.1h0M208.8 811.8h0M196.5 795.5h0M230.7 829.4h0M190.1 742.4h0M204.9 745.4h0M239.2 769.1h0M183.8 771.6h0M258.9 733.4h0M205.7 795.2h0M200.7 797.3h0M190.2 769.8h0M248.1 757.4h0M190.3 785h0M195.3 733h0M224.5 751.5h0M236.9 810.7h0M204.2 790.4h0M180.7 749.3h0M191.6 728.5h0M206.2 783.6h0M201.1 773.4h0M201.5 821.8h0M192.2 761.7h0M199.8 754.5h0M190.7 794.8h0M242.6 776h0M225.4 804.3h0M175.7 759.5h0M216.8 763.9h0M221.5 762.5h0M201.4 736.8h0M210 789.8h0M236.1 748.7h0M266.3 786.2h0M185.9 744.6h0M218.5 804.1h0M193.9 796.8h0M199.8 775.5h0M212 809h0M254.2 833.9h0M225.4 790.2h0M206.9 793.7h0M244.6 783.6h0M178.9 764.6h0M233.1 826.5h0M199.2 751.7h0M219.7 797.2h0M226.2 816h0M206.4 754.4h0M264.8 789.6h0M225.9 772.1h0M205.5 841.7h0M212.6 757h0M203.3 743.3h0M209.7 766.4h0M238.7 737.1h0M240.5 771h0M220.6 772.3h0M196.8 738.6h0M239.2 821h0M235.7 825.2h0M242.1 813.6h0M205 755.2h0M202.3 763h0M200 751.9h0M189.2 735.7h0M191.6 790h0M225.1 830.4h0M199.6 791.3h0M238 881.5h0M220.6 814.2h0M226.6 752.5h0M229.4 772.5h0M205.1 790.6h0M192.8 793.8h0M240.3 838.6h0M230 734.5h0M178.9 761.1h0M251.6 821.8h0M190 728.2h0M226.3 799.1h0M206.4 810.7h0M194.7 816.6h0M214.3 736.9h0M210.1 799.1h0M187.6 763.2h0M205.8 817.2h0M215.3 810.5h0M226.7 747.3h0M202.3 734h0M220.9 785.3h0M237.2 769.7h0M209.6 742.3h0M217.3 819.8h0M253 783.7h0M226.8 742h0M219 790h0M203.6 793.2h0M210 793.9h0M212.5 774.1h0M250.4 791.5h0M233.5 752.6h0M195.9 718h0M205.2 735.6h0M198.5 766.7h0M230.1 738.8h0M220.6 836h0M266.7 819.7h0M197.8 780.4h0M200.1 718.9h0M226.2 823.2h0M206.2 741h0M197.1 828.1h0M228.5 755.2h0M179 762.9h0M203.7 745.8h0M242.7 752.6h0M204.6 721.4h0M210.2 729.3h0M209.5 801.7h0M194.6 766.8h0M212.8 794.1h0M244.9 772.4h0M234.9 801.5h0M220.5 769h0M209.2 772.8h0M215.6 835.3h0M207.3 804.3h0M182.7 751.8h0M216.9 802.5h0M190.7 722.2h0M203.2 729.7h0M235.6 765.2h0M184.9 736.3h0M210.4 794.3h0M206 780.2h0M176.7 762.4h0M197.8 733.9h0M235.6 754.7h0M220.3 788.9h0M205.2 753.1h0M247.5 747.6h0M195.5 727.7h0M254.6 794.3h0M251.1 795.6h0M229.4 740.7h0M184.1 747.4h0M224.1 755.7h0M202.5 790.8h0M208.3 786h0M206.7 735.1h0M221.5 759.2h0M237.6 828.1h0M254.2 822.3h0M175.3 762h0M245.2 748.8h0M242 794.9h0M213.4 727.8h0M189.9 795.6h0M220.2 797.3h0M204 770.9h0M227.3 735.4h0M224.7 810.1h0M193 766.6h0M191.7 783h0M202.6 751.1h0M181.5 771.6h0M189 797.9h0M260.3 792.1h0M229.3 795.7h0M190.7 767.4h0M191.3 758.6h0M190.6 787.7h0M194.4 722.5h0M218.4 737.5h0M207.5 771h0M221.7 790.1h0M247 768.6h0M250.1 785.5h0M194.1 738.4h0M207.9 776h0M207.4 730.5h0M230.3 760h0M206.3 743.5h0M240 741.3h0M210.2 812.5h0M207.6 726.7h0M194.5 798.6h0M255.2 826.4h0M219.7 827.3h0M233.4 754.6h0M243.2 782.4h0M193.4 717.5h0M203.4 814.6h0M212.3 802.4h0M264.2 812.4h0M191.5 792.2h0M192 755h0M197.6 776.9h0M240.9 765.3h0M198.4 775.5h0M227.5 827.4h0M197.2 810.2h0M201.4 758.6h0M200.7 756.7h0M237.2 834.9h0M208.3 800.7h0M227.7 777.1h0M176.8 764.3h0M201.5 723.8h0M253.1 815.8h0M267.2 799.4h0M257 809.2h0M230.3 829h0M218.2 789.3h0M209.7 758.7h0M206 726.1h0M242 829.6h0M212.9 731.4h0M231.7 765h0M200.4 721h0M216 729.4h0M197.7 800.1h0M253.7 741.1h0M214.3 811.3h0M217 736.8h0M248.1 770.4h0M182.6 759.6h0M204.5 751h0M230.4 799.7h0M202 799.3h0M224.4 740.5h0M252.2 804.8h0M219.6 778.3h0M223.3 737.2h0M210.6 782.2h0M204.4 802.9h0M224.6 797.3h0M228.4 762.5h0M190.2 749.2h0M210.2 791.8h0M218.3 743.4h0M200.1 807.8h0M235.5 815.3h0M198 805.1h0M212.3 780.4h0M195.4 746.6h0M230.8 731.9h0M206.3 830h0M217.3 816.2h0M216.4 826.6h0M223 770.2h0M233.8 808h0M238.3 749.7h0M228 824.1h0M201.5 748.9h0M232 828h0M216.7 746.3h0M238.7 764.7h0M207.7 721.1h0M259.9 803h0M218.1 851.1h0M222.1 825.7h0M232.7 755.1h0M186.9 742.8h0M231 815.3h0M193.1 731.1h0M195.6 780.5h0M207.7 751.2h0M200.7 812.6h0M183.4 764.1h0M243.4 764.7h0M175.6 760.5h0M218 832.6h0M202.6 765h0M244.5 755.4h0M215.2 775.9h0M197.8 810.8h0M231.8 749.4h0M229.2 810.4h0M207.1 789.2h0M230.1 774.2h0M197.4 744.2h0M195.4 801.2h0M243.2 771.6h0M215.3 796.7h0M195.3 742.9h0M204.2 757.7h0M188 771.1h0M224 788.3h0M221.9 780.2h0M212.3 768.8h0M197.2 745.4h0M247 777.5h0M201 794h0M204.5 741.6h0M225.8 799.5h0M199.7 761.2h0M203.9 778.3h0M191.4 781.6h0M208.7 796.4h0M241.1 843.8h0M221.3 755.6h0M189.9 774h0M244.7 747.9h0M194.8 742.2h0M203.2 829.4h0M208.2 782.8h0M230.7 808.3h0M203.3 721.9h0M211.9 764.5h0M190 764.8h0M178.9 756h0M217.5 734.6h0M249.8 751.8h0M210.1 799.4h0M251.1 820.3h0M188.9 741.1h0M231.9 836.2h0M235.3 757.5h0M224.9 765.6h0M198.2 778.6h0M249.1 760.5h0M192.6 785.1h0M208.5 763.3h0M219.7 765.9h0M215 744.1h0M231 757.2h0M235.4 751.5h0M240.4 774.8h0M216.6 750.2h0M257 788h0M228.5 814h0M214.9 783.2h0M225 813.6h0M259.6 818.5h0M195.8 753.8h0M239 823.9h0M237.2 797.2h0M245.7 754.5h0M248.8 746.1h0M200.8 740h0M243 787.9h0M232.1 785.5h0M218.9 765.6h0M186.2 781.8h0M214.1 767.1h0M260.2 832.2h0M238.3 755.2h0M261.5 786.8h0M185.8 762.8h0M183.3 756.9h0M195.1 774.7h0M265.2 803.2h0M200 811.5h0M201.4 727.3h0M254.5 790.8h0M216.4 824h0M263.5 835.7h0M225.8 803.9h0M207.6 774.2h0M230.1 769.3h0M202.4 717.3h0M204.4 787.8h0M206 751.6h0M217.3 819.5h0M209.3 771.4h0M187.4 775.9h0M236.2 778.7h0M212.6 743.3h0M212.1 791.7h0M205.2 807.1h0M214 773.5h0M225.5 735.7h0M259.5 795.6h0M219.2 772.9h0M246.6 790.8h0M212.2 735.4h0M220.9 820.3h0M197.5 797.2h0M186.5 756.4h0M210.4 774.8h0M268.7 806.7h0M203.2 737.4h0M230.4 745.2h0M212 791.8h0M192 734.3h0M266.8 804.5h0M231.5 772.8h0M211.5 822.1h0M190 763.7h0M199 818h0M246.6 797.5h0M217.8 786.9h0M247.8 790h0M225.2 776.9h0M220.9 778.8h0M219.5 799.8h0M200.3 832.3h0M188.2 744.3h0M215.2 755.2h0M237.1 760.8h0M221.4 745.2h0M229.7 749.8h0M189 781.2h0M217.4 753.4h0M194.5 748.3h0M219 758.1h0M241.6 826.2h0M233.1 747.1h0M183.2 776.6h0M245.3 787.1h0M186.6 732.5h0M205.8 798.9h0M196.6 807.6h0M243.2 767.7h0M219.3 747.8h0M229.4 752.5h0M195.4 758.5h0M202.9 818.3h0M182 761.3h0M225.4 752.7h0M244.7 826.7h0M199.3 769h0M209.2 762.1h0M212.9 785.8h0M214.1 804.8h0M249.8 743h0M186.5 749.5h0M199.2 772.8h0M227.1 829.8h0M219.9 774.6h0M187.2 759h0M231.2 731.3h0M244.8 750.4h0M195.1 806h0M240.8 764h0M196.7 724.7h0M197.7 731.4h0M215.9 772h0M187.2 739.2h0M240.7 806.8h0M213.3 747.5h0M217 814.4h0M241.3 750.8h0M256 837h0M246.3 762h0M224.2 821h0M195.9 816.8h0M193.2 764h0M239.7 800.6h0M247.4 810.3h0M198.5 736.9h0M217.1 805.7h0M266.8 815.8h0M200.4 783.8h0M227.3 807.1h0M227.7 765.9h0M198.1 773.1h0M241.5 745.1h0M190.9 754.8h0M198.3 789.2h0M217.8 779.1h0M231.8 795.4h0M198.9 760.1h0M243.5 839.7h0M237.6 755.6h0M211.4 734.1h0M227.8 804h0M206.2 812.2h0M205.7 774.6h0M224.3 818.2h0M198.3 727.3h0M209.4 757.1h0M207.6 793.3h0M238.6 746.7h0M195.2 811.5h0M216.3 756.5h0M234.9 773.1h0M225 760.4h0M245.5 820h0M245 757.6h0M225.5 747h0"/>
<path id="d10" d="M274.7 751.1h0M275.9 819.7h0M277.8 768.1h0M268.8 718.5h0M266.2 738.4h0M265.9 723.2h0M275.7 826h0M277.1 689.1h0M283.2 704.8h0M278.8 827.5h0M284.7 691.9h0M278.3 754.5h0M270.9 797.3h0M279.2 764.8h0M276.2 756.2h0M270.2 789.4h0M287 688.2h0M273.4 765.3h0M264.5 737.5h0M264.8 716.7h0M270.8 776.5h0M280.7 682.4h0M268.6 778.4h0M284.2 699.1h0M273.7 708.1h0M272.8 692.2h0M275.4 696.1h0M265.8 728h0M262.4 729.6h0M277.4 800.5h0M275.7 685.7h0M271 792.7h0M275.1 783.3h0M266.2 782.7h0M282.6 688.5h0M266.2 779.8h0M264.4 741h0M273.6 788.2h0M273.5 755.7h0M276.2 691.2h0M282.3 683.1h0M273.9 697.2h0M274.9 682.8h0M264.7 725.2h0M268.2 716.9h0M279.1 680.4h0M273.8 702.1h0M273.3 711.5h0M275 812.2h0M272 706.2h0M266.4 736.7h0M281 822.5h0M263.5 732.1h0M264.8 734h0M265.3 828.5h0M276.3 753.2h0M275.8 808.8h0M266.8 741.2h0M267.9 781.3h0M270.7 716h0M263.9 722.2h0M283.2 826.3h0M275.5 764.1h0M265.2 828.1h0M261.8 741.5h0M286 692.9h0M271.3 721.3h0M267.7 722.6h0M273.7 779.3h0M268.7 793.2h0M274.7 805.5h0M273.7 801.1h0M261.6 734.5h0M282.7 690.8h0M262.6 782.8h0M275.1 768.4h0M276.3 680.8h0M278.7 687.6h0M258.9 744.7h0M281.3 680.4h0M285.5 715.4h0M278.9 830h0M287.3 698.5h0M270.9 714.3h0M268.6 708.7h0M275.4 694.1h0M270.3 779.8h0M268.8 711.9h0M274.8 772.1h0M264.1 728.6h0M278.6 705.5h0M281.1 683h0M272.3 783.8h0M284.2 862.5h0M279.9 707.5h0M273.5 700h0M275.7 776.9h0M278.1 683.1h0M275.5 760.1h0M273.2 770.1h0M283.7 682.3h0M278.7 815.1h0M283 770.5h0M270.6 796.3h0M264.9 730.6h0M285.9 689.5h0M275.4 789.6h0M269.7 704.9h0M265.2 747.4h0M273.4 705.4h0M274.8 803.8h0M271.6 700.7h0M264.7 783.4h0M270.7 707.5h0M279.9 684.4h0M277.8 822.7h0M273 689.4h0M260 740.3h0M275.4 785.7h0M284.1 788.3h0M280.6 704.4h0M272.5 776h0"/>
<path id="d11" d="M303.7 997.6h0M294.6 1001.4h0M225.4 841.1h0M194 853.2h0M313.1 1019.2h0M312.3 1033.3h0M304.3 1021h0M296.4 1010h0M289.8 1021.9h0M295 1040.2h0M297.3 1016.4h0M305.6 1030.4h0M306.4 1012.8h0M220.2 870.4h0M293.4 1014.1h0M210.8 828.1h0M294.7 1008.3h0M299.1 1029.2h0M220.2 852.2h0M307.4 1032.2h0M308.9 1029.4h0M310.1 1028.7h0M301.4 1005.6h0M205.5 871h0M311.7 1027.1h0M300.1 1003.3h0M303 1020.1h0M304.3 1042.7h0M213.9 839.6h0M303.8 1000.6h0M295 1003.6h0M297.9 1018.7h0M306.3 1026.7h0M314.4 1021.6h0M302.9 1012.7h0M293.4 1018.7h0M311 1037.3h0M302.2 1033.5h0M304.1 1017.4h0M305.5 1023.1h0M287.3 991.1h0M314.4 1017.8h0M298.1 1020.9h0M210.8 854.3h0M297.9 1024h0M304.5 1044.8h0M297.7 1035.2h0M298.4 1011.4h0M298.5 1049h0M294.1 1031h0M300.1 1015.8h0M290 1028.2h0M305.8 1008.7h0M212.8 834.4h0M318.8 1030.9h0M296.3 1035.5h0M205.5 863.7h0M301 1036.7h0M299 999.7h0M306.2 1006h0M211.8 848h0M221.2 846.9h0M316.7 1016.3h0M220.3 870.4h0M308.1 1013.5h0M299.1 1045h0M302.8 1031.8h0M300.5 1012.7h0M282.1 982.8h0M194.1 853h0M295.3 1018.3h0M294.1 1022.2h0M302.2 1034h0M217 845.9h0M300.1 1017.4h0M297.3 1006.7h0M309.3 1025.5h0M300.6 1009.2h0M298.1 1001h0M299.3 1026.3h0M304.9 1014.1h0M309.3 1011.6h0M203.4 846.9h0M302.9 1028.1h0M300.3 1049h0M291.6 1030.9h0M303.1 1007.8h0M297.2 1052.9h0M300.8 1027.1h0M308 1016h0M313.8 1031.3h0M310.4 1018.9h0M305.7 1009.7h0M294.7 1024.1h0M304 1023.6h0M205.6 862.5h0M294.6 1036.5h0M204.6 870.8h0M207.6 846.9h0M301.4 1024h0M289.8 1031.4h0M291.2 1036.2h0M296.8 1031.5h0M307.9 1038.5h0M311.4 1022.9h0M314.2 1028.7h0M300.7 1042.2h0M295.8 1028.2h0"/>
<path id="d2" d="M87 884.1h0M100.1 888.6h0M102.4 868.4h0M102.8 951.4h0M137.7 889.6h0M139.6 895.4h0M98.2 952.4h0M109.9 956.9h0M79.9 910.7h0M136.1 885.2h0M131.8 929h0M116 901.4h0M99.5 934.6h0M119.2 936.8h0M225.4 869.8h0M90 925.8h0M143.2 901.9h0M100.3 849h0M104.3 899.2h0M119.8 930.3h0M113.8 878.4h0M107.4 966.9h0M133.7 914.5h0M92.1 907.1h0M93.1 871.8h0M111.3 963.6h0M128.9 866.3h0M78.7 964.3h0M115.6 923h0M121.6 885.5h0M103.5 871.3h0M128.6 901.3h0M74.8 930h0M127.5 861.8h0M122.1 929.5h0M127.7 938.4h0M118.3 889.4h0M94.8 899.4h0M106.5 857.8h0M92.5 966.2h0M108.9 954.1h0M94 952.9h0M108 896.1h0M97.5 936.7h0M86.6 944h0M124.9 866h0M106.7 957.9h0M122.5 920.5h0M103.2 852.2h0M94.8 927.5h0M96.3 945h0M121.1 843.6h0M111.9 914.5h0M115.8 944.4h0M144.6 868.2h0M84.7 900.5h0M103.7 960.9h0M142.5 864h0M116.9 872.7h0M120.2 941h0M121 893.5h0M90.6 879.5h0M128.1 887.6h0M115.3 925.7h0M116.2 852.7h0M123.7 905.9h0M110.4 930.5h0M131.4 860h0M88.4 967.4h0M98 883.5h0M109.9 863.9h0M94.5 967.1h0M110.5 862.2h0M94.3 886.1h0M84 906.6h0M101.1 966.6h0M111.5 851.4h0M83.9 933.7h0M84.9 904.3h0M124.2 935.4h0M118.4 881.4h0M132 868.6h0M109.8 912.6h0M71.8 942.8h0M117.3 900h0M141.9 865.9h0M98 942.7h0M145.7 889.1h0M98.8 928.8h0M140.2 914.9h0M104.1 847.7h0M104.1 860.9h0M95.5 923.2h0M100.3 922.8h0M116 868.7h0M252.8 898.1h0M103.3 860.7h0M131.1 897.6h0M107 847.9h0M80.5 937.9h0M91.3 912h0M84.2 894.4h0M145.6 861.2h0M98.6 963h0M100.8 911.9h0M132.2 873.1h0M113.4 870.2h0M97.3 957h0M121.1 867.3h0M79.4 942.7h0M89.2 944.8h0M109.8 859.5h0M108.1 921.4h0M108.6 936.9h0M137.9 899.6h0M114.9 899.8h0M105.3 955.3h0M72.8 935.1h0M137.6 875.6h0M93.8 939h0M132.5 882.9h0M129.5 912.2h0M114.8 938.8h0M110.8 936.1h0M110.5 903.9h0M98.9 898.5h0M93.8 932h0M83.3 915.1h0M104 930.4h0M78.9 946.2h0M100 871.1h0M114.8 957.7h0M92.6 882.1h0M131.9 885.7h0M88.3 963.5h0M102.4 927.5h0M118.9 934.1h0M100.2 957.7h0M242.2 851h0M125.2 940.5h0M129.7 883.6h0M96.5 916.8h0M86.7 874.9h0M128.9 861.1h0M119.9 867.1h0M141.1 910.9h0M130.4 889.3h0M98.8 909.7h0M96.6 854.9h0M78.6 950.7h0M90.7 901.8h0M92.5 905.5h0M83.5 922.5h0M135.2 928.3h0M103.9 947.6h0M94.1 874.4h0M108.1 845.6h0M104.9 926.1h0M111.4 959.6h0M133.9 927.9h0M136.7 880h0M142.9 905.5h0M90.4 923.8h0M111.1 864.8h0M127 876.2h0M106.1 930.7h0M76 949.9h0M95.8 962.1h0M122.4 884.1h0M87.7 898.1h0M117.7 889.9h0M137.1 906.4h0M86.1 884.4h0M111.8 907.5h0M126.1 936.5h0M125.1 851.3h0M96.8 854.1h0M76.4 932.3h0M116.9 934.6h0M122.5 891h0M82.8 959h0M118.3 867.3h0M93.9 887.8h0M78.3 941.4h0M115.4 861.7h0M121.6 860.2h0M92.5 875.2h0M110.3 877.2h0M93.6 870.1h0M90.1 915.1h0M251.6 897h0M108.1 900.4h0M110.9 845.6h0M105.4 891.3h0M109.2 968.8h0M102.1 942.9h0M122.7 848h0M121.3 849.9h0M95 880.8h0M108.6 886.6h0M146.6 906.1h0M135.9 910.8h0M74.3 947.6h0M133.6 909.2h0M139 904.4h0M116.1 892.9h0M112.2 948.2h0M80 921.8h0M122.8 911.7h0M116.5 917.4h0M110.9 939.2h0M95.5 851.6h0M100.8 882.9h0M101.3 958.1h0M102.3 913.3h0M124.2 868.6h0M110.3 884.1h0M111 872.3h0M84.8 909.7h0M116 906.1h0M105.2 950.8h0M120.3 921.3h0M103.5 864.6h0M138.5 860.1h0M137.9 868.4h0M97.3 949.9h0M81.6 923.1h0M111.7 889.7h0M91.2 900.7h0M118.6 896.5h0M139.7 895.9h0M112.7 911.4h0M129.2 935.7h0M129.7 893.3h0M106.3 867h0M96.8 892.5h0M91.2 932.1h0M96.6 884.4h0M123.1 898.1h0M120.6 841.2h0M105.9 964.4h0M105.2 916.6h0M125.1 929.6h0M110.2 886.5h0M129.4 868.9h0M112.4 926.4h0M119 935h0M104.2 925.4h0M111.1 896.8h0M109.6 901.8h0M114.5 844.2h0M108.1 860.6h0M119.6 905.3h0M91.7 864.5h0M100.5 918.7h0M118.1 944.6h0M138.5 918.5h0M128.2 891.9h0M114.5 943.1h0M98.2 939.8h0M82.7 919.1h0M92.5 879.7h0M88.8 927.1h0M143.1 875.6h0M99.5 943.4h0M136 887.6h0M136.9 895.4h0M115 904.3h0M96.9 965.9h0M80.6 947.1h0M120.3 857.4h0M105.6 884.9h0M136.2 875h0M109.8 944.8h0M124.8 911.6h0M135 904.8h0M113.2 883.2h0M136.7 877.1h0M104.4 856.9h0M108.9 870.1h0M109.2 879.1h0M120.3 875.8h0M95.4 927.9h0M141.2 886.3h0M130 916.1h0M77.2 943.3h0M141.8 868.8h0M133.8 920h0M118.6 909h0M242.3 897h0M132.8 892.2h0M129.8 867.2h0M124.7 847h0M89.3 881.9h0M86.4 937.2h0M88.1 931.9h0M112.8 931.4h0M118.9 929.6h0M120.2 913.8h0M84.2 927.5h0M117.9 876.3h0M87.5 933.8h0M145.5 878h0M74.5 931.1h0M120.9 900.4h0M87.1 969.8h0M132.1 937.7h0M100.5 886.8h0M111.3 934.6h0M233.8 849.9h0M107.5 898.3h0M100.5 901.2h0M124.3 913.1h0M94.3 963.8h0M141.6 879.3h0M112.1 953.5h0M122.8 905.6h0M112.8 955.8h0M80.3 952.2h0M102.8 889.1h0M82.2 948.8h0M131.9 888.5h0M122.9 844h0M109.8 873.9h0M79.2 941h0M236.9 839.4h0M85.1 931h0M104.1 896.6h0M122.1 948.8h0M106.2 949.7h0M93.4 934.6h0M89.4 961.7h0M119.8 881.8h0M97.6 905.9h0M109.9 925.4h0M75.1 940.9h0M117.2 955.5h0M85.5 959.1h0M121 908.9h0M80.9 962.4h0M145.9 909.6h0M120 898.6h0M108.5 941.7h0M104.3 968.5h0M119.8 870.9h0M98.7 893h0M92.9 896.1h0M85.1 919.7h0M136.1 907h0M133.3 890.2h0M80.5 966.9h0M108.8 891.1h0M100.1 920.8h0M128.6 894.9h0M129.2 920.2h0M88.1 958.8h0M85.7 966.4h0M84.7 924h0M85.2 956.1h0M117.3 895.4h0M108.7 910.4h0M90.7 965.1h0M124.1 864.6h0M143.9 888.7h0M135.2 889.4h0M133.4 879.9h0M89.5 876.4h0M116 886.7h0M128.9 928.9h0M124.5 889.9h0M129 854.6h0M77.6 956.4h0M114.9 927.5h0M93.5 899.4h0M94 942.2h0M95.3 861.6h0M141.6 920.2h0M78.2 955.1h0M112.2 900.9h0M91 970.8h0M125.6 899.4h0M110.1 949h0M123.6 919.2h0M105.5 941h0M99.8 933.2h0M142.1 892.8h0M127.3 875h0M114.9 887.5h0M99.5 893.8h0M143.5 895.2h0M90.2 883h0M129.8 928.8h0M104.5 942.7h0M102.1 869.9h0M83.7 958.1h0M77.6 936h0M131.7 884.6h0M83 939.1h0M131 861.7h0M141.9 881.7h0M110 947.9h0M104.3 931h0M139.6 870.3h0M85.8 925.9h0M137.5 913.5h0M83.2 944.4h0M118.8 948.9h0M82.4 932.3h0M115.2 955.1h0M96.2 934.2h0M113.3 857.7h0M227.6 870.8h0M93.6 856.3h0M105.2 948.4h0M121.5 853.6h0M93.5 856.9h0M108 916.8h0M120.8 873.1h0M127.3 896.4h0M123.4 896.8h0M87.8 896.3h0M119.7 892.8h0M139.3 921.2h0M94.2 917.3h0M114.9 908.8h0M82.1 928.3h0M89.4 949.2h0M119.1 927.2h0M100.7 907.5h0M99.9 874.4h0M97.5 922.9h0M131.6 857.6h0M267.4 918h0M113.5 896.7h0M89.4 955.2h0M97.1 877.7h0M94 963h0M107.1 875h0M106.7 921.4h0M99.1 921.1h0M120.8 953.9h0M99.2 878.4h0M111.6 924.3h0M107.9 939.7h0M133.3 922.9h0M112.3 944.8h0M87.8 949.1h0M117.5 874.9h0M111.6 847.1h0M143.5 899.3h0M107.1 913.8h0M98.9 874.7h0M122.1 876.5h0M134 877.8h0M110.9 869.3h0M88.6 871.3h0M118.5 847.3h0M98.1 930.9h0M120.5 949.1h0M118.3 942.2h0M82.7 951.6h0M107.2 928.4h0M103.4 920.4h0M84.3 890.8h0M126.2 877.2h0M99.1 955.9h0M233.9 900.2h0M129.5 838.8h0M71.9 937.8h0M135.5 918h0M139.6 884.1h0M105 887.4h0M110.2 928.5h0M113.3 873.7h0M253.8 853h0M106.2 894h0M109.5 881.5h0M114.4 866.9h0M78.8 945.2h0M125.8 876.4h0M136.2 899.1h0M99.7 960.5h0M241.1 897h0M114.7 909.8h0M80.9 943.7h0M79.7 936.5h0M111 853.9h0M123.1 909.5h0M136.8 864.4h0M88.8 890.3h0M88.7 893.3h0M130.4 860.4h0M91.7 890.9h0M264.3 916.9h0M119.4 849.8h0M116.1 889.8h0M90.1 940.8h0M102.7 965.9h0M109.1 855h0M120.6 951.9h0M131 932.5h0M134.4 870.2h0M144.2 892.2h0M99.8 882h0M80.5 905.8h0M99.1 875.8h0M138.1 884h0M139.5 871.9h0M105 881.1h0M94.8 888.5h0M103.2 854.1h0M104.3 940.8h0M97.8 865.6h0M100.2 879.8h0M100.9 935.7h0M75.4 925.9h0M116.6 897.6h0M254.9 911.7h0M91.3 910.2h0M77.3 923.7h0M120.4 847.5h0M114 915.1h0M125.8 916.7h0M114.4 963h0M92.7 921.9h0M128.8 933h0M108.6 849.7h0M78.2 927.4h0M116.3 912h0M85.1 893.4h0M102.2 937.5h0M127.5 884.6h0M121.5 917.2h0M120.2 863.6h0M122.1 873.3h0M126.3 890.4h0M145.3 902.9h0M78.5 919.7h0M105.8 920h0M100 857.7h0M96.9 846.8h0M79.5 927.8h0M100.2 862.5h0M105 934h0M134.9 859.1h0M124.8 902.7h0M117.5 862h0M145 885h0M141.3 904.6h0M140.9 906.4h0M113.1 911.6h0M84.4 971.7h0M91.7 893h0M104.3 928h0M108.7 904.8h0M125.2 885.3h0M131.8 873.8h0M126.5 895.1h0M105.8 855h0M107.8 933.2h0M132.8 932.1h0M114.1 964.9h0M107.3 892.5h0M87.1 919.9h0M119.8 909.3h0M115.4 870.5h0M105.9 946.2h0M120 916h0M117 919.7h0M96.9 916.4h0M138 864.1h0M80.3 971.6h0M119.1 920.2h0M91 969.2h0M143 899.6h0M113 940.5h0M97.1 880.7h0M129.8 922.2h0"/>
<path id="d5" d="M166.6 899.7h0M102.2 999.6h0M160.5 927.8h0M155.9 893.1h0M180.2 865.3h0M152.9 864.8h0M202.3 886.2h0M171.6 852.7h0M163 897h0M188.2 908.5h0M142.8 886.3h0M176.8 878.5h0M178.4 857.4h0M154.3 890.5h0M168.7 898.4h0M177.5 902.7h0M100 976.1h0M82.2 999.2h0M182.9 843.8h0M153 920.6h0M148.7 862.7h0M182.9 878.4h0M80.8 993h0M98.1 1021h0M190.5 877.4h0M90.9 1019.5h0M170.9 867.8h0M186.9 899.1h0M168.5 895.7h0M173.4 849.5h0M168.2 885.9h0M152.1 904.6h0M190.8 860.8h0M158.4 866.9h0M164.8 851.3h0M107.3 983.2h0M158.8 880.9h0M171.9 858h0M87 1009.8h0M161.1 859.4h0M151.3 887.8h0M163 875.9h0M100.3 983.6h0M186.3 903h0M178.5 897.7h0M198.5 894.7h0M167.9 836.4h0M184 841.5h0M105.4 1004.2h0M71.7 998.3h0M170.4 897.8h0M96.7 1021.9h0M183.2 851.5h0M182.8 889.5h0M144.8 878.2h0M166.1 899.5h0M198.8 887.2h0M173.5 840.5h0M163 894.6h0M189.9 893.3h0M78.3 993.4h0M102.2 1016.1h0M157.3 853.6h0M196.6 857.5h0M175.7 865.6h0M187.9 845.1h0M184.2 843.5h0M198.3 854.9h0M96.7 1008.6h0M185.8 889.1h0M184.4 864.5h0M171.9 850.5h0M155 861.9h0M111.2 993.5h0M89.5 1013.1h0M191 858.4h0M81.1 1008.9h0M186.4 904.5h0M181.8 870.6h0M152.4 903.4h0M94.1 1000.7h0M183.8 897.3h0M172.8 897.3h0M154.5 885.5h0M203 882.3h0M145.8 873.3h0M198.3 882.3h0M194.5 868.1h0M155.8 930.6h0M199.4 886.6h0M142.8 923h0M181.2 838.3h0M158.5 877.5h0M106.6 992.1h0M84.2 1003.9h0M192.9 872.3h0M158.4 855.5h0M179.3 876h0M150.4 859.4h0M177 898.7h0M150.1 883.3h0M186.6 880.1h0M99.3 982.5h0M186.4 884.1h0M192.9 899.4h0M103.3 984.5h0M79.5 991h0M165.9 936.1h0M100.7 1002h0M169 889.3h0M175.1 890.1h0M93.5 1024.2h0M162.2 870.7h0M199.9 880.1h0M78.6 1021.2h0M90.8 1003.5h0M151.5 898.8h0M81.5 976.7h0M169.7 853.1h0M171.6 923h0M154.5 882.9h0M74.1 1001.3h0M184.9 911.3h0M172.9 874h0M197.1 890.6h0M79.5 1017.4h0M188.7 906.2h0M142.4 882.2h0M200.5 867.6h0M87 1022.7h0M173.3 842h0M167.6 911.2h0M163.8 877.4h0M157.5 889.9h0M152.5 891.4h0M165.7 854.6h0M74.6 1014.6h0M151.8 866.3h0M164.8 890h0M104.3 1004.2h0M150.9 868.4h0M178.5 850.1h0M75.5 1002h0M104.6 994.2h0M179.3 919.2h0M179.1 882.9h0M163.8 898.9h0M192.6 887.4h0M97.5 1015.6h0M162.7 909.7h0M101.8 1018.5h0M147.5 871.1h0M88.1 983.9h0M97.4 994.1h0M167.1 840.8h0M164.7 882.5h0M191.2 875.3h0M191.9 892.9h0M162.9 892h0M110.9 1001.4h0M165.4 883.6h0M178.2 870.4h0M75.4 1003.9h0M100.4 1022.3h0M148.7 895.6h0M102.2 988.9h0M152.7 853.6h0M168 883.3h0M156.6 883h0M145.1 877.9h0M158.8 918.3h0M102.8 975.8h0M185.3 899.8h0M73.3 1005.3h0M205.2 889.4h0M96 983.1h0M88.6 980.1h0M145.9 889.6h0M155.8 888.1h0M93.9 1016h0M181.1 842.1h0M84.2 992.5h0M146 917.9h0M179.3 904.9h0M111.6 998.2h0M155.7 905.6h0M161.9 887.3h0M156.9 885h0M155.9 908.1h0M174.8 868.8h0M149.4 887.2h0M184.7 883.6h0M106.9 1006.5h0M92.7 1019.6h0M186.6 847.5h0M193.9 853.9h0M164.1 888.6h0M173.9 844.2h0M86.1 996h0M177 848.1h0M90.5 1025.6h0M145.2 912.1h0M91.3 1024.2h0M205 873.9h0M194.1 903.3h0M110.5 984h0M193.5 896.3h0M165.2 910.7h0M105.2 1010.5h0M166 878.4h0M93.9 1009h0M178.3 872.3h0M161 918h0M176.7 889.2h0M97.3 979.1h0M85 1012.9h0M80.9 1001.2h0M154.1 879.2h0M167.9 923.2h0M90.5 983.8h0M148.7 892.9h0M160.3 907.3h0M193.9 866.4h0M176 897.2h0M191 907.3h0M157.4 850.1h0M180.9 849.7h0M162.3 882.4h0M102.5 997.6h0M170.8 921.1h0M82.3 988.3h0M172.6 874.3h0M164.9 920h0M109.1 980.9h0M176.1 919.1h0M172.3 900h0M102 980.6h0M103.1 1006.5h0M193.5 863.8h0M151.3 874.1h0M166.8 891.9h0M179.3 862.2h0M164 895.8h0M160.9 868.7h0M190.7 898.6h0M84 1005.4h0M100.6 1006.4h0M169.4 847.1h0M197.2 868.7h0M109.9 986.9h0M188.2 850.5h0M182.1 888.1h0M76.4 992.2h0M167.5 919h0M75 980h0M170.4 900.8h0M151.5 902.5h0M201.7 867.5h0M101.5 974h0M157.3 889.9h0M147.3 884h0M190.9 849h0M152.7 867.6h0M186.4 907.4h0M102.6 995.2h0M189.2 867.3h0M159.8 876h0M110.3 999h0M169.8 862.6h0M161.4 851.8h0M146.6 891.5h0M78.6 993.5h0M178.1 880.3h0M156.3 875.5h0M170 930.5h0M169.5 867.8h0M162.5 854.6h0M100.2 996h0M197 894.1h0M182.3 880.9h0M83.5 1008.8h0M81.6 994.4h0M75.3 996.3h0M175.9 922.1h0M89.2 982h0M148.9 875.8h0M191.1 895.2h0M77.4 990.2h0M180.1 889.2h0M183.1 844.9h0M199.7 875.7h0M171.8 860.4h0M93.5 997.3h0M184.7 874.6h0M105.1 1015.4h0M179.1 853.4h0M145.1 885.9h0M177.2 868.3h0M147.9 909.6h0M162.1 893.9h0M160.4 932.4h0M97.9 984.2h0M175.3 896.8h0M161 874.4h0M101.3 982h0M162.4 881.9h0M164 863h0M158.1 901.3h0M168.9 889.1h0M93 982.5h0M93.6 988.6h0M91.2 1013.6h0M89.4 993.7h0M172.9 871.7h0M164.4 876.6h0M166.4 906h0M90.9 1001.6h0M184.5 880.8h0M189.1 855.4h0M76.1 987h0M195.6 879.1h0M182.3 861.6h0M144.8 883.4h0M105.7 986.6h0M170.9 918.5h0M197.2 873.5h0M185.6 897.7h0M150.5 922.2h0M190.4 856.9h0M145.9 874.7h0M187.3 887.2h0M161.2 885.4h0M152.2 881.4h0M146.5 878.2h0M181.2 876.8h0M188.4 883.5h0M172.1 884.7h0M186.4 867.8h0M194 876.1h0M88.1 993.2h0M174.4 921.1h0M153.2 896.1h0M177 929.8h0M199.2 885.3h0M156.6 910.4h0M193.8 893.8h0M93 984.2h0M187.1 892.4h0M97.4 1010.8h0M196.6 886.8h0M107 997.7h0M201.9 870.8h0M174.7 929.9h0M100.7 1013.5h0M154.8 863.9h0M84.5 1013.6h0M102.6 1020.4h0M182.1 907.1h0M80.2 999.4h0M99.3 997.3h0M183.3 895.7h0M157.1 911.6h0M189.1 871.6h0M158 898.5h0M188.8 871.1h0M87.7 1004.9h0M162.4 840.7h0M145.4 867.5h0M96 1010.8h0M78.8 978.3h0M180.6 886.2h0M170.4 844.5h0M155.8 876.9h0M143.5 871.6h0M171.4 859.7h0M152.6 887.3h0M184.4 871.5h0M188.1 896.3h0M103.2 1009.9h0M96.2 1007.6h0M149.6 898.7h0M75.6 994.9h0M76.4 1015h0M200.6 890.6h0M87.1 999.4h0M175.9 842h0M86.8 979h0M194.9 898.7h0M174.4 902.2h0M188.4 841.8h0M78.1 1007.4h0M74.1 1000h0M105.7 994.6h0M179 914.9h0M189.8 899.9h0M159.9 923.2h0M103.7 986.9h0M163.4 901.1h0M155.2 863.8h0M88.3 995.1h0M178.3 862.6h0M167.8 905.1h0M72.9 995.3h0M151.9 915.7h0M189.2 886.2h0M94.7 1002.2h0M83.4 1007.5h0M81.9 1021.9h0M80.7 985.2h0M86.6 1006.8h0M180.5 881.7h0M75.9 1011.6h0M149.1 912.8h0M197.1 902h0M155.6 881h0M169.9 886.6h0M174.6 845.2h0M95.5 1025.5h0M164.8 870.7h0M158 848.9h0M177.9 906.4h0M189.2 865.6h0M147.7 868.3h0M190.7 890.1h0M169.3 912.6h0M178.3 876.5h0M79 1013.3h0M171.9 842.2h0M163.5 912.6h0M200 876.1h0M166.3 918.9h0M170.6 855h0M191.2 903.7h0M182.5 905.2h0M162.9 915.5h0M195.3 849.1h0M84.9 982.1h0M183.8 905h0M168.9 845.5h0M179.6 910h0M172.2 926.5h0M168.9 842.2h0M83 986.6h0M81.8 998.2h0M190.8 866.7h0M104.6 982.1h0M171.3 861.8h0M160.3 895.6h0M94.6 985.5h0M165.1 872.3h0M172.4 910.3h0M152.6 902.3h0M89 1008.4h0M172 936.6h0M153.8 871.4h0M183.5 915.6h0M177.7 906.8h0M109.7 985h0M184.3 845.3h0M105.9 984.5h0M201.5 879.1h0M157.8 911.7h0M188.1 878.2h0M106.1 1006.4h0M164.6 908h0M190 890.6h0M100.2 1000h0M179.1 917.5h0M192.3 885h0M150.6 868.8h0M180 872.2h0M177.5 854.9h0M173.8 860.1h0M177 886.8h0M79.2 995h0M203.5 875.5h0M165.3 901h0M100 978.5h0M152.8 874.6h0M72.9 1013.1h0M95.5 997.2h0M82.1 1011h0M198.7 865h0M169 879.1h0M96.1 1020h0M91.8 971.4h0M195.8 873.8h0M189.6 843.9h0M160.1 853.7h0M107.7 993.6h0M162 847.7h0M99.8 986.7h0M144.8 866.4h0M99.2 989.4h0M156.2 889.7h0M160.2 861.4h0M89.1 1021.4h0M148.2 873.9h0M188.9 850.8h0"/>
<path id="d4" d="M159.1 1044.1h0M153.2 964h0M154.6 1025.1h0M161.7 998.6h0M177.2 956.8h0M166.2 1035.3h0M160.1 1018.9h0M146.7 1019.8h0M136 974h0M142.7 1033.1h0M106.4 930.2h0M134.5 1029h0M123.5 1031.9h0M127.2 996h0M177.2 1028h0M142.6 984.2h0M140.8 1030h0M160.1 967.9h0M146.3 1038.1h0M122.4 934.9h0M124.8 986.6h0M130.4 958.6h0M161.8 990.7h0M150 1006.7h0M155.6 1034.8h0M127.1 1011.6h0M128.8 944.8h0M159.3 1060.2h0M142.9 987.9h0M139.5 992.1h0M127.7 1031.3h0M143.8 1071.8h0M123.2 1042.2h0M135.2 965.4h0M132.2 983.3h0M150 1066.3h0M138.1 1047.4h0M117.4 943.4h0M108.6 958.4h0M136.2 993.1h0M131 977.2h0M151.8 985.6h0M127.8 989.6h0M127.7 1033.4h0M119.9 1011.9h0M108.4 911.8h0M130.9 969h0M133.2 946h0M155.9 1046h0M141 943.5h0M147.2 956.2h0M157.2 962.1h0M133.6 1039.3h0M158.1 994h0M127.7 1047.9h0M128.4 975h0M139.8 1064h0M156.8 972.1h0M152 957.5h0M187.7 987.8h0M157.5 1061.8h0M141.6 985.3h0M128 1041.7h0M184.6 946.3h0M114.6 1020.9h0M145.4 1041.1h0M170.6 976.7h0M160.3 958.3h0M139.2 1007.6h0M143.5 989.5h0M159.3 950.8h0M117.2 934.8h0M135.1 1054.4h0M166.9 964.6h0M145.7 1055.8h0M144 1016.4h0M154.8 1042.2h0M155.8 1069.6h0M144.4 1053.4h0M151.7 1050.9h0M164.7 977.1h0M147.4 993.6h0M127.4 1000.7h0M147.3 973.6h0M189.1 984.3h0M135.4 1001.6h0M141.3 1022.2h0M177.6 978.1h0M147.9 1033h0M185.6 1003h0M161.2 1005.1h0M167.9 954h0M138.4 961.3h0M173.2 977.4h0M152 973.9h0M154.7 955.1h0M172.3 952.5h0M122.3 963.2h0M162.5 1031.8h0M131 1028.6h0M117.9 1001.1h0M175.1 977.3h0M148.6 944.4h0M138.3 1052.6h0M153.7 966.7h0M118.7 1004.2h0M109.1 1026.9h0M146.9 1064.6h0M158.1 1011.6h0M147.2 991.6h0M127.8 946h0M147.5 967h0M178 967.5h0M129.3 1055.7h0M154.7 983.3h0M149.3 1022.2h0M119.3 1017.4h0M143.6 976.9h0M178 972.5h0M147.4 1010.6h0M171.6 954.9h0M153.3 992.5h0M163.7 1043.4h0M132.5 1026h0M142 946.8h0M166.9 978.7h0M167.7 955.5h0M157.3 959h0M150.9 1057h0M117.4 967.9h0M109.9 975.3h0M107.2 993.5h0M158.6 992.5h0M111 945.7h0M138.3 1037.5h0M115.8 950.6h0M145.1 983.9h0M151.2 934.3h0M151.9 1026.5h0M119.3 1025.9h0M107 1041.6h0M122.3 965.9h0M159.8 965.3h0M120 983h0M137.8 1067.4h0M138.7 949.8h0M144.4 998h0M160.2 1053.4h0M151.1 990.6h0M118.1 1015.8h0M140 976h0M115.7 1000.5h0M139.6 982.7h0M143.5 950.4h0M169.4 1010.6h0M125.7 1026.1h0M170.1 956.1h0M162.5 939.9h0M150.7 950.7h0M109.5 983.9h0M125.2 1042.3h0M136.5 1046.1h0M134.8 990.6h0M148.9 1044.7h0M125.8 1019.6h0M111.8 948.2h0M121.1 994.6h0M158.3 979.2h0M123.9 1017.9h0M150.1 979.6h0M185.4 982.1h0M137.2 947.4h0M151.8 1030.4h0M153 971.8h0M121.1 980.3h0M165.1 992.7h0M178.6 976.2h0M164 1001.3h0M150.8 969.2h0M150.7 1015h0M140.4 1003.1h0M157.2 1003.9h0M149.9 1053.6h0M139.1 1014.1h0M120.3 988.5h0M106.4 908.3h0M147 999.6h0M145.5 989.6h0M120.1 1021.6h0M131.7 953.1h0M135.9 1063.4h0M150.2 1010.8h0M119.6 937.9h0M135.7 983h0M174.3 964.4h0M126.5 970h0M129.4 1023h0M125.6 1030.1h0M145.7 1003.8h0M141 1067.1h0M150.2 957.5h0M120.4 1000.1h0M155.2 984.9h0M163.8 961.8h0M135.7 980.5h0M137.7 1021.1h0M159.8 1010.6h0M158.4 953.1h0M167.7 982.9h0M163.7 1018.7h0M147.1 1005.2h0M146.5 1056.3h0M123.1 990.9h0M150.6 997.7h0M153.4 943.2h0M155.2 1021.5h0M107 1008.4h0M138 975.5h0M154.3 976.1h0M174 1000.2h0M124.9 1001.6h0M143.2 1028.5h0M162.5 1007.5h0M111.3 1021.3h0M158.3 956.8h0M114.6 937.8h0M112.3 1034.1h0M165.2 1024h0M128.3 1040.2h0M112.1 1018.7h0M152.6 1020.4h0M129.8 1026.8h0M158.1 974.9h0M129 962.7h0M143.7 992.8h0M182.7 996.2h0M115.1 929.6h0M133.4 1017.3h0M168.7 996.5h0M134.8 1000.2h0M158.7 1058.4h0M152.9 929.9h0M127.1 1051.4h0M154.8 978.1h0M127.7 1046h0M115.9 1005.2h0M137.8 1031h0M120.5 992.5h0M138.4 964.9h0M150.5 999.7h0M133.5 1006.3h0M134.1 960.6h0M161.1 1024h0M174.9 989.3h0M140.3 1000.3h0M138.9 983.1h0M196.1 954.7h0M123.3 943.6h0M133.8 1012.7h0M130.2 1050.1h0M178.6 968.4h0M176.5 986.5h0M156.6 1004.7h0M125.2 976.3h0M148.7 938h0M114.3 982.3h0M162.8 1033.8h0M138 1034.8h0M113.5 966.9h0M175 969.8h0M135.4 1014.3h0M146 1031.8h0M174.3 970.6h0M138.2 1019.7h0M170.8 952.3h0M131.1 1022.7h0M159.5 1020.1h0M150.8 962h0M117.9 1041.8h0M128.6 994.2h0M137.5 956.5h0M165.1 959.2h0M104.2 1000.3h0M141.6 1011.5h0M171.9 993.4h0M126.8 1038.6h0M126 1010.3h0M158.3 1022.6h0M150.1 975.6h0M136.9 952.5h0M168.6 1009.2h0M168.3 1017.6h0M149.8 1008.8h0M148 1033.8h0M143.7 1036.2h0M113.1 952.9h0M121.5 996.2h0M123.8 1013.6h0M158.8 1019.3h0M164.9 1017.2h0M128.9 992.6h0M183.4 978.1h0M149 1069.9h0M153.1 1035.8h0M145.1 1050.8h0M120.2 1032.2h0M121.7 1013.6h0M134 1027h0M155.1 1010.2h0M145.3 954.4h0M155.9 1016.4h0M134.7 967.4h0M164 957.2h0M116.6 1033h0M159.2 1036h0M109.1 986.7h0M156.1 998.9h0M142.7 1004.2h0M113.9 988.4h0M143.7 996.1h0M129.9 1010.6h0M166.2 953.9h0M140.1 989.8h0M142 1053h0M139.9 1027.3h0M121.9 957.3h0M165 1011.3h0M148.7 985.5h0M159.8 1006.4h0M141 962.7h0M188 999h0M120.3 1027.8h0M168.4 984.7h0M151.7 999.2h0M121.9 1015.1h0M177.3 964.4h0M123.2 1051.6h0M167.6 972.6h0M148.4 1042.8h0M149.7 1060.4h0M171.8 959.6h0M144.4 958.3h0M173.7 957.9h0M121.8 1043.5h0M171.7 966.6h0M128.6 968.1h0M164.7 1025.3h0M161.7 1010.8h0M153.6 1044.9h0M164.3 944.5h0M154.6 1017.1h0M146.7 950.5h0M131.2 993.8h0M144 953.9h0M128.2 979h0M114.3 1026.7h0M127.4 1042.4h0M139 986.6h0M172.6 974.4h0M147.4 948.2h0M140 937.1h0M137.7 1008.4h0M146.6 977.4h0M106.6 921.5h0M131.7 1034.9h0M151.7 1024.8h0M133.1 1022.9h0M154.7 946.2h0M154.3 950.8h0M127.7 984.4h0M171 980.7h0M137.8 1012.2h0M187.1 995.6h0M171.5 1000.7h0M165.7 946.1h0M102.6 1002.5h0M161.7 1039.1h0M176.5 990.3h0M168.9 976.9h0M180.1 979h0M190.4 990.1h0M129.3 938.1h0M178.5 984.7h0M128.7 990.4h0M122.8 940.6h0M175.6 986.1h0M137.1 984.6h0M141.1 1007.7h0M140 996.5h0M159.6 1026.6h0M141.4 965.2h0M169.2 961.6h0M144.4 950.1h0M129.4 1019.1h0M132.4 972.5h0M163.4 997.1h0M142.8 976.3h0M147.6 1036.3h0M122.5 1020.2h0M133.7 1060.1h0M151.1 1018.7h0M142.5 1063.5h0M119.1 993.2h0M167.1 936.5h0M114.2 1003.5h0M164.2 1004.2h0M105.2 983.7h0M116.1 980.6h0M134.8 1045.9h0M161.5 982.6h0M100.4 1007.1h0M118.9 974.3h0M142.7 1067.7h0M138.2 1062.2h0M145.1 1017.2h0M142 1058.7h0M136.4 966.2h0M117 1008.8h0M174.9 996.9h0M125.8 1043.8h0M183.8 973.6h0M123.2 981h0M137.6 1039.3h0M117.8 958.9h0M126.2 1028.9h0M127.4 1061.8h0M134.8 1049.3h0M125.1 1054h0M116.9 1027.7h0M144 943h0M161.4 977.8h0M129.6 1005.2h0M115.7 995.3h0M124.1 1028.9h0M121.5 1037.6h0M169.9 1050h0M170.4 988.3h0M138.5 944.8h0M131.1 1016.3h0M152 1065.3h0M120.3 1049h0M123 952.6h0M133.3 1036.3h0M159.5 1033.9h0M145.8 1005h0M150.1 1037.8h0M141.6 960.6h0M175.6 975.1h0M141 1036.6h0M146 1067.5h0M129.6 1042.2h0M139.5 1053.8h0M157.4 941h0M110.5 1027.8h0M112.2 997h0M160.1 986.1h0M138.8 1009.2h0M160.5 1048.3h0M112.8 1020.5h0M116.4 1011.4h0M134.1 947.1h0M132.7 954.7h0M168.2 994h0M132.8 1056.7h0M168.6 980.5h0M151.4 947.7h0M112.5 1011.1h0M153 983.8h0M141 1050.5h0M167 962.7h0M133.4 949.7h0M132.8 962.4h0M118.5 945.4h0M161.1 944h0M142.3 1041.5h0M134.6 1061.5h0M166.5 960.7h0M127.5 1024.4h0M126 973.2h0M135.9 954.7h0M162.9 986h0M111.8 962.5h0M153.3 1049.5h0M137.5 1059.9h0M144.6 967.9h0M125.6 1006.3h0M182.7 991.5h0M175 979.1h0M179 981.2h0M106.5 995.1h0M144.4 981.4h0M111.3 923h0M118.6 1012.9h0M137.8 1027.7h0M116.8 1039.6h0M130.2 1002.8h0M164.7 988.8h0M153.4 1063.5h0M141.9 1026.3h0M149.1 971.6h0M151.3 1012h0M134.4 1017.8h0M163.7 954.2h0M139 1032.5h0M165 1027.6h0M124 1026.6h0M144.6 1064.7h0M154.3 1037.5h0M143.1 1044.5h0M127.7 1008.3h0M166.4 984.1h0M153.2 1039.9h0M116.4 998.3h0M140 1038.5h0M125.4 952.7h0M158.1 1008.9h0M130.1 1047.7h0M118.4 1047.8h0M118 1010.2h0M163.5 963.1h0M118.1 1022h0M158.3 989.3h0M110.1 1012.3h0M121.9 1032.2h0M161.2 953.9h0M119.5 954.1h0M135.5 970.1h0M130 962.6h0M156.9 946.2h0M147.9 1032h0M113.6 1017h0M159.4 948.4h0M144.8 913.8h0M116.9 960.6h0M144 1041.3h0M159.4 977.1h0M150.2 992.5h0M154.5 1050h0M143.3 955.3h0M151.4 992.8h0M171.9 970.6h0M147.8 984.9h0M140.4 1057.5h0M158.2 1057.2h0M124.4 1035.5h0M138.1 954.6h0M172.6 965.8h0M147.6 941.1h0M114.3 1011.4h0M102 990h0M140.3 1069h0M140.4 1049.9h0M130.5 998h0M129 1013h0M119.9 1038.1h0M120.4 985.6h0M152.5 962.3h0M162.3 980.2h0M105.8 925.5h0M150.7 1027.5h0M122.2 1016.2h0M156.8 983.4h0M169.5 968.1h0M123.4 974.4h0M176.9 982.7h0M117.9 1025.6h0M150.3 1032.8h0M141.4 1047.3h0M142.8 1065.5h0M146.7 942.8h0M148.2 1002.3h0M169.6 1002.8h0M129.5 1059.3h0M132.5 990.5h0M177.7 970.5h0M126.7 965.9h0M146.8 987.4h0M106.7 1002.1h0M159.6 955.5h0M137.5 1071.2h0M123.9 1054.2h0M123.9 960.2h0M152.1 940.4h0M155.3 1013.9h0M160.5 992.9h0"/>
<path id="d6" d="M177.7 949.5h0M256 919.4h0M189.1 967.9h0M240.4 923.5h0M207.8 930.9h0M187.3 969h0M203 907.3h0M193.2 929.5h0M250.5 947h0M181 946.1h0M220.6 942.8h0M237.8 912.8h0M174.7 955.4h0M270 978.9h0M223 924.9h0M192 910.8h0M176.2 943.4h0M195.1 952.9h0M190.8 921.8h0M194.2 941.1h0M247.9 912.1h0M268.5 946h0M207 929.1h0M211.7 949.4h0M210.7 940.4h0M265.4 970.6h0M237.1 970.3h0M184.7 927h0M231.6 928.7h0M250.1 942.3h0M196.2 921.9h0M201.2 949.4h0M178.9 957.5h0M208.4 965.2h0M236.3 946h0M212 915h0M217.6 965.2h0M189.2 946.9h0M252.1 963.2h0M179.8 948.7h0M275.3 946.8h0M251.4 956.3h0M222.2 947.4h0M232.8 938.8h0M219.4 926.9h0M223.9 937.9h0M207.7 921h0M219.9 963.9h0M244 947.4h0M206.5 901.3h0M268.7 938.3h0M224.5 931.2h0M247.1 941.6h0M190.7 936.7h0M216.1 910.8h0M202.1 954.9h0M195 964.1h0M199.9 945.6h0M220.4 915.3h0M209.8 929.1h0M193.6 961.1h0M253.2 968h0M216.5 955.3h0M195.6 915.9h0M246.8 958.6h0M238 928.7h0M177.7 947.6h0M179.6 921.8h0M188.1 917.9h0M239 925.4h0M194.9 946.3h0M246.5 962.8h0M184.3 966.2h0M196.1 938h0M184.7 954.5h0M204.8 945.7h0M186.8 943.3h0M240.5 927.5h0M235.6 914.3h0M170.8 932.1h0M231 924.5h0M209.2 960.1h0M236.6 931.4h0M190.5 959.6h0M259.5 966.8h0M214.2 961.8h0M211 904.9h0M251.3 933.8h0M260.8 914.3h0M235.6 973.6h0M247.3 931.5h0M214.9 958.9h0M242 960h0M225.5 966.1h0M235.6 958.4h0M224 944.4h0M242 967.8h0M256.4 914.3h0M255.9 921h0M252.7 939.3h0M213.9 944.9h0M233.9 958.4h0M268.1 922.7h0M229.8 929.8h0M175.1 937.9h0M274 940.3h0M172.6 916.1h0M225.8 957.6h0M196.9 950.7h0M242.5 913.7h0M181.3 929.8h0M211.9 909.5h0M205.3 897h0M240 918.1h0M202 944.1h0M227.9 967.3h0M217.2 937.4h0M184.7 932.3h0M213.4 921.7h0M252 910.4h0M260.6 928.1h0M237.8 920h0M176.1 917.7h0M179.6 945.3h0M242 925.2h0M243.9 911.9h0M230.7 949.9h0M172.1 943.1h0M235.4 947.9h0M259.1 917.5h0M267.6 959.5h0M248.3 950.2h0M220.5 965.2h0M208.2 891.8h0M254.5 936h0M207.3 918.2h0M185.8 930.8h0M225.4 956h0M171.4 951.4h0M209.2 935.2h0M227.1 926.8h0M214.3 917.2h0M218.2 912.7h0M260.8 944.2h0M183.4 939.1h0M231.9 932.8h0M228.3 949.9h0M185.6 920.5h0M169.7 934.8h0M179.7 909.4h0M248 923.3h0M224.4 952.9h0M253.9 924.1h0M203.8 924.6h0M256.9 961.2h0M235.8 919.7h0M260.1 945.9h0M191.6 915.9h0M198.3 964.4h0M187.5 902.5h0M265.1 963.7h0M233.4 964.9h0M221.2 947.5h0M266.8 935.6h0M181.2 926.5h0M227.6 933.1h0M227.3 958.6h0M188.4 959h0M190.5 938.3h0M238.3 924.7h0M219.5 932h0M205.8 906.4h0M235.7 928.3h0M230.1 923.1h0M182.3 905.5h0M257.7 949.8h0M235.2 966.9h0M234 921h0M222.6 929.6h0M168.4 931.7h0M188.9 931.6h0M207.3 927.2h0M194.6 905.2h0M187.8 924.6h0M195.9 963.3h0M203.8 920.9h0M207.2 912.8h0M215 939.5h0M217.8 956.7h0M197.5 952.7h0M264.5 932.6h0M212.9 934.8h0M252.3 927h0M219.4 916.8h0M232.6 946.2h0M214.9 963.3h0M168.6 946.4h0M206.1 928h0M247.2 913.9h0M213.2 927.3h0M210.6 934.4h0M210.8 896.8h0M230.2 920.7h0M225.7 914.5h0M206 906h0M252.3 919.9h0M214.8 893.7h0M199.1 957.8h0M286.2 910.7h0M197.9 918.4h0M220.5 923.8h0M184.1 947.7h0M211.6 964.2h0M273.4 931h0M204 913.4h0M199.5 933.6h0M212.7 942.4h0M204.5 957.3h0M188.4 950.8h0M206.4 960.1h0M220.4 939.5h0M208.1 954.7h0M245.8 926.8h0M227.7 943.8h0M189.2 900.4h0M217.4 915.9h0M193 933.3h0M228 939.7h0M225.6 963.8h0M189.7 910.6h0M225.3 920h0M217.7 949.2h0M249.6 931.3h0M252.4 958.2h0M210.2 927.1h0M201.8 957.7h0M216.7 959.3h0M196.7 911.7h0M243.1 937.9h0M168.4 949.7h0M244.1 944.6h0M238.5 955.2h0M209.1 885.6h0M173.3 933.5h0M178.9 933.6h0M203.3 970.5h0M222.1 958.8h0M217.3 920.5h0M270.5 974h0M266.3 914.9h0M258.2 932.2h0M271 942.9h0M185.9 949.9h0M192.9 948.3h0M240.4 958.9h0M237.5 961.7h0M204.1 931.4h0M229 923.5h0M166.8 943.9h0M244.3 924h0M191.2 902.4h0M264.2 918.4h0M223.8 942.7h0M259.4 935.3h0M189.3 961.2h0M177.4 910.7h0M244.9 910.4h0M222.5 933.9h0M241.2 965.5h0M185.1 902.3h0M208.1 908.2h0M247.4 939.7h0M207.6 970.1h0M248.1 960.5h0M174.4 958.2h0M199.1 922.5h0M229 969.1h0M210 910.3h0M183 910.8h0M194 907.3h0M179.4 940.5h0M227.4 935.4h0M180.2 952.6h0M233.4 947.6h0M202.8 920h0M232.7 927.8h0M202.6 935h0M232.7 955.4h0M172.5 925.7h0M224.8 970.9h0M251.3 943.2h0M257 926.1h0M237.8 920.6h0M181.7 919.2h0M197 967.1h0M253.6 936.3h0M220.1 938.1h0M228.9 927.9h0M228.5 918h0M192.1 922.7h0M277.9 941.8h0M198 946.9h0M214.1 907.7h0M265.3 925.1h0M268.8 963.7h0M219.4 929.9h0M262.4 969.8h0M227.3 970.1h0M203.2 938h0M246.5 939.3h0M189.9 927.9h0M253.4 928.7h0M217.9 924.2h0M237 926.7h0M186.4 913.9h0M271.5 920.1h0M243.4 930.4h0M181.3 926h0M268.3 954.5h0M244.8 965.2h0M173.7 948.9h0M214.5 947.8h0M183.4 936.9h0M247.5 926.4h0M191.3 924.6h0M194.5 968.8h0M215.9 889.2h0M211.7 951.2h0M249.1 924.2h0M237.2 951.9h0M283 903.3h0M169 950.9h0M229.4 938.1h0M171.9 920.6h0M187.1 917.1h0M216.4 938.1h0M210.8 956.4h0M214.1 920.4h0M187.1 927.8h0M230.9 962.2h0M234.3 925.6h0M272.6 982h0M212.7 914.6h0M192.1 971.3h0M191.9 1001.8h0M199 908.7h0M270.8 951.3h0M247.7 928.5h0M200.4 972.1h0M240.6 949.8h0M197.4 970.6h0M198 961.9h0M248 953.4h0M178.3 928.4h0M222.5 941.3h0M219.8 911.9h0M205.7 912.1h0M234.7 923.1h0M227.8 945.9h0M271.4 961.7h0M182.6 923h0M177 914.7h0M192.6 943.1h0M171 930.2h0M212.1 968.6h0M191.1 909h0M248.1 903.4h0M223.1 935.5h0M221.9 917.7h0M235.2 913.4h0M261.3 960.7h0M194.4 914.1h0M256.4 922.3h0M177.5 920.8h0M214.2 952.7h0M227.5 914.3h0M180.9 922.3h0M241.5 952h0M192.8 948.9h0M212.9 958.1h0M173.4 945.1h0M221.5 928h0M206.2 932.9h0M243.9 927.2h0M222.2 921.9h0M207.2 939h0M183.1 913.3h0M176.2 945.5h0M243.3 941.3h0M246.6 934.9h0M229 943.9h0M238.9 971.4h0M263 919.7h0M195.1 917.9h0M189.7 952.6h0M272.9 926.8h0M215.6 927.8h0M222.3 918.4h0M199.1 912.6h0M189.2 941.1h0M248.5 945.1h0M238 914.9h0M200.5 929.7h0M204.2 921.9h0M196.5 924.9h0M196.3 943.6h0M224.3 954.9h0M202.3 916.4h0M273.9 951.7h0M195.7 928.1h0M191.1 919.4h0"/>
<path id="d7" d="M211.4 1008.4h0M230.8 1019.3h0M254.1 1091h0M227.6 1026.2h0M240.3 1012.8h0M283.4 1087.6h0M217.9 1066.4h0M223.3 1055.7h0M233.6 1046.8h0M230.7 1008.5h0M193.7 1041.1h0M273.6 1075.8h0M243.6 1045.9h0M250.3 1022.7h0M207.3 1013.8h0M215 1074.3h0M251.4 1082.8h0M245.4 1063.8h0M258.4 1090.9h0M192.7 1106.7h0M243.3 1052.9h0M228 1030h0M196 1028.2h0M210.1 976h0M228.5 1003.2h0M188.6 1044.4h0M259.5 1097h0M268.9 1053.1h0M246 1071.4h0M214.7 1018.9h0M249.8 1057.4h0M267.3 1103.5h0M268.7 1116.4h0M262.9 1038.6h0M248.1 1021.1h0M228 1024h0M205.9 1097.7h0M236.8 1046.1h0M264.1 1051.9h0M228.2 1040.2h0M213 1083.5h0M225.7 984.6h0M232.9 1027.8h0M207.9 996.7h0M209 1000.9h0M211 1098.7h0M216.8 1013.2h0M220.7 994.5h0M205 1036.5h0M250.9 1091h0M236.9 1043.9h0M283.6 1090.4h0M214.8 1062.8h0M233.9 1057.2h0M242.9 1051.7h0M237.4 1041.4h0M257.7 1099.7h0M242.6 1068.8h0M273 1073.3h0M201.5 982.1h0M224.1 995.8h0M202.4 1108.9h0M213.5 980h0M191.3 1105.6h0M230.8 972.3h0M205.5 1102.7h0M258.8 1032.7h0M254.9 937.7h0M202.8 1105.3h0M195.5 1109.7h0M208.4 1086.8h0M200.7 1005.2h0M213.5 1102.8h0M196.5 1034.1h0M253 1016.3h0M212.6 1013.6h0M264 1108.3h0M232.4 996.6h0M218.9 1018h0M275.4 1104.4h0M265.6 1116.7h0M205.6 1082.2h0M208.4 985.8h0M247.7 1073.1h0M244.1 1073.1h0M258.1 1049.6h0M206.5 989.4h0M260.2 1030.6h0M252.8 1020.8h0M246.4 961.6h0M240.2 1088.6h0M215.9 1003.7h0M231.8 990.2h0M244.9 1076h0M232.4 1039.8h0M235.4 1014.9h0M217.9 996.7h0M259.2 1054.5h0M261.6 1113.5h0M231.8 987.8h0M256.2 1089.6h0M218.7 1008.5h0M221.9 1027.9h0M250.7 941.9h0M202.3 1015.5h0M220.5 1008.3h0M275.2 1073.7h0M221.5 999.7h0M247.6 1083.1h0M235.3 1054.2h0M223.4 1015.4h0M198.4 1031.1h0M267.3 1109.4h0M191.6 1070.1h0M236.5 1018h0M195.2 1106.7h0M259.6 1057.1h0M249.5 1080.9h0M211.2 994.6h0M211.1 1102.5h0M238.4 1060h0M239.7 1035h0M232.5 994.2h0M206.3 1110h0M198.4 1011.6h0M254.7 933.7h0M215.3 983.6h0M250.2 1065.4h0M236.8 1000.4h0M218.1 999.4h0M200.6 979h0M246.9 1067.8h0M264 1043.4h0M275.6 1081.3h0M265.7 1100h0M230.4 1051.4h0M201.2 1011.9h0M227.1 1020.4h0M220.4 1016.5h0M282.4 1101.5h0M201.3 982.7h0M232.3 1065.2h0M264.6 1105.7h0M261.4 1034h0M224.9 1034.3h0M211.2 985.4h0M207.6 1009.7h0M209.3 1007.5h0M280.1 1102.2h0M234.6 991.8h0M214.2 1087.6h0M213.9 997.9h0M243 1064.8h0M254 1028.3h0M238 1065.1h0M257.3 1026.8h0M258.4 1038h0M213.4 1077.7h0M249.5 1018.3h0M210.9 1088.6h0M213.1 1094.3h0M239.6 1048.9h0M238.3 1046.9h0M217 1063.3h0M216.6 1077.8h0M253.1 1024.7h0M268.4 1123.2h0M262.1 1095.1h0M228 994.6h0M218.2 1046.7h0M258.7 1104.6h0M211.4 1019.3h0M257.8 1044h0M272.2 1079.7h0M225.5 1071.8h0M221.8 989.8h0M200.7 1040.7h0M227.6 999.1h0M258.5 1041.4h0M232.6 998.7h0M233.4 1039.2h0M259.5 1094.5h0M262.7 1045.7h0M249.5 942.1h0M274.4 1099.8h0M199.1 1037h0M205.7 1008.2h0M276.9 1078.7h0M193 1071.6h0M207.9 1104h0M222.8 1003.3h0M194.6 1082.1h0M254 1084.9h0M247.1 1059.6h0M200.2 991.6h0M226.5 1005.5h0M226.5 988.1h0M275.5 1096.9h0M210.3 1092.4h0M203.6 983.6h0M232.8 1058.7h0M238.5 997h0M260.9 1041.2h0M234.8 1054h0M204.4 1004.2h0M263.3 1099.5h0M229.9 1039.5h0M198.8 1020.4h0M204.8 1090.8h0M263.9 1075.4h0M281 1098.1h0M265.7 1055.2h0M278.3 1094h0M208.7 1110h0M241 1042.7h0M219.6 1081.8h0M265.2 1113.4h0M194.7 1045.2h0M223.4 1010.4h0M253.5 1097.9h0M202.2 1096.5h0M205 1011.7h0M248.5 1070.5h0M230.8 1002h0M272.4 1108.9h0M247.8 1092.3h0M281.4 1094.5h0M236.3 1011.5h0M267.7 1077.4h0M220.4 1033.6h0M270.4 1119.7h0M225.9 1056.4h0M198.5 1081.4h0M262.4 1032.1h0M260.8 1100.8h0M237.3 1038.1h0M232 1037.9h0M261.6 1118h0M214.4 1008h0M222.3 967.2h0M209.4 1101.1h0M224.8 1022.1h0M214.2 1012.2h0M207.2 1094.8h0M219.3 1075.1h0M216.3 992.3h0M228.7 1019.2h0M226.2 1036.2h0M253.7 1077.4h0M209.9 1011.6h0M266.9 1125.6h0M208.3 1116.5h0M235.4 1026h0M255.3 1103h0M188.5 1104.4h0M223.7 1000.3h0M207.6 986.3h0M212.7 976.6h0M201.1 1084h0M215.5 980.4h0M260.6 1115.8h0M255.8 1093.3h0M213.2 1026.1h0M233.9 1016.7h0M238 1010.1h0M257 1076.7h0M249 1079.5h0M204.9 1094h0M261.2 1048.7h0M221.4 1064.8h0M210.7 1071.4h0M226.3 1014.1h0M278.1 1080.8h0M233.8 1036.2h0M196.6 1019.8h0M210.9 1015h0M247.5 1063.2h0M268.6 1068.8h0M269.9 1066h0M192.6 1036.2h0M212.6 1012.4h0M259.5 1124.1h0M272.4 1094.2h0M219.4 1063.9h0M280.4 1088.9h0M198.3 1017.1h0M264.3 1070.2h0M274.7 1090.4h0M234 989.5h0M232 1050.2h0M254.1 1081.1h0M221.3 985.5h0M215.8 1082.9h0M234.9 1109.5h0M228.6 987.5h0M241.2 1038.7h0M207 1107.1h0M259 1035.3h0M223.1 1060.8h0M255.5 1023.8h0M207.9 1098.8h0M242.3 1061h0M258.1 1113.5h0M199.1 1027.5h0M229.1 1036.9h0M247.4 1090.1h0M245.3 1057.7h0M229.9 1044.2h0M216.8 1058.7h0M237 1101.1h0M193.7 1069h0M216 988.3h0M278.1 1084.1h0M198.9 1084.7h0M271.3 1070.4h0M273 1103.5h0M208.7 1089.3h0M213 1072.6h0M261.1 1051.1h0M191.9 1109.1h0M225.5 982.8h0M254.1 1100.9h0M225.1 994.1h0M228.2 992.7h0M250 1063h0M226 1000h0M282.9 1096.8h0M236.6 1070.2h0M243.4 1081.4h0M264.1 1119.2h0M238.1 1121h0M199.3 1035.2h0M202.7 1031.3h0M231.7 973.5h0M252.8 1107.4h0M214.5 988.4h0M272.5 1089.6h0M282.2 1081.5h0M223.8 1005.8h0M200 1115.5h0M233 1003.6h0M213.8 1001.3h0M247.5 961.8h0M260.2 1089h0M233 1067.2h0M261 1122.3h0M208.7 1017.4h0M219.7 997.2h0M202.6 977.2h0M219.2 1016.9h0M246.5 1085.9h0M200.8 1036.3h0M234.2 1007.3h0M278.7 1090.6h0M235.3 1067.6h0M243.6 1043.9h0M260.1 1023.5h0M204.7 1025.1h0M266.7 1070.4h0M215.7 1032.5h0M216.5 1026.2h0M232.9 1088.6h0M191.4 1073.1h0M221.9 1013.9h0M256.7 1031.7h0M187.1 1101.7h0M235.6 1010.2h0M217.2 1055.8h0M240.6 1068.9h0M194.8 1077.2h0M218.8 1068.9h0M189.8 1106.7h0M277.5 1088.3h0M215.2 1067.1h0M252 1031.4h0M224.4 1008.6h0M197.6 1026.9h0M201.2 1029.3h0M190.3 1028h0M251.5 1080.1h0M261.9 1110.3h0M257.6 1102.1h0M216.8 1004.6h0M185.9 1103.9h0M234.6 1042.1h0M276.8 1101.3h0M221.9 1001.5h0M232 1012.8h0M208 1003.7h0M209.7 1107.1h0M208.1 1113.4h0M216.7 1033.8h0M251.7 1102.6h0M213.1 1020.1h0M226.7 985.3h0M210.8 1078h0M204.6 1113h0M275.2 1108.1h0M281 1083.7h0M212.1 1005.2h0M193.9 1105h0M259.8 1119.4h0M274 1069.9h0M220.7 988.1h0M230.8 1096.9h0M231.4 1005.7h0M249.6 1027.4h0M235.5 1014h0M201.2 1033.5h0M214.1 1081h0M270.3 1088.2h0M215.3 1006.1h0M194.6 1070.9h0M229.1 988.9h0M189.5 1038.9h0M232.3 1048.5h0M216.8 1029.6h0M235.2 996.2h0M264.6 1057.2h0M211.1 1117.5h0M213.4 1057.4h0M222.9 1032h0M230.2 1022.1h0M256.8 1082.7h0M202 1005.2h0M274.8 1087.2h0M205.3 992.6h0M266.4 1122.1h0M199.9 1023.1h0M198.3 1038.7h0M261 1059.4h0M207.1 980.1h0M248.9 1085.2h0M266.7 1044.3h0M255 1018.9h0M256.5 1087.3h0M222.6 978.9h0M202 1099.8h0M244.1 1049.8h0M210.5 981.8h0M277.8 1098.5h0M205.6 1010.2h0M219.3 1056.8h0M276.9 1091.9h0M210.6 1082.8h0M235.7 1052.2h0M239.8 1053.9h0M243.7 1057.8h0M277.3 1107.1h0M197.5 1107.7h0M215.8 999.7h0M235.2 1060.1h0M271.3 1067.9h0M218.7 986.8h0M227.6 1016h0M242.2 914.9h0M271 1076.9h0M237.6 1014.6h0M247.1 1053.2h0M270.4 1073.7h0M241.4 1048.5h0M220.1 1060.4h0M256.6 1097.6h0M204.4 1116.6h0M223.3 980.9h0M223.8 1025.3h0M234 1029.3h0M203.3 996.7h0M271.5 1099.4h0M189.8 1037.5h0M241.7 1001.6h0M218.8 983.5h0M212.3 1105.2h0M227.1 1008h0M252 1086.3h0M229.8 1011.9h0M253.6 1087.8h0M191 1103h0M219.1 1011.4h0M224.2 1030.1h0M197.5 1112.6h0M217.5 993.8h0M240.1 1041.1h0M239.5 994.3h0M226.8 996.6h0M264.5 1034.5h0M234.5 1000.3h0M247.5 1120h0M268 1050.3h0M270.1 1108.7h0M221.9 1011.3h0M263.5 1055.2h0M230.6 1016.9h0M211.1 1085.2h0M251.3 1077.8h0M231.4 1056.6h0M273 1085.4h0M244.3 1056.5h0M209.8 1013.6h0M260.8 1105.9h0M191.2 1032.3h0M213.7 1025.1h0M226.3 993.2h0M210 985.7h0"/>
<path id="d0" d="M324.7 917.9h0M314.8 899.9h0M341.2 998.5h0M324.3 884.7h0M369 1007.3h0M346.8 905.4h0M363.7 906.3h0M293.6 956.6h0M322.2 893.2h0M327.6 906.7h0M325.5 891.5h0M360.4 960.4h0M334.1 960.4h0M364.5 983.6h0M356.6 1012.1h0M343.6 965.1h0M330 899h0M332.6 859.9h0M307.6 926.3h0M347.2 1029h0M363.1 916.9h0M325.1 1002.1h0M369.9 937.9h0M366.4 988.5h0M332.3 925.4h0M345.3 1003.8h0M353.6 901.7h0M308.9 923.8h0M330.5 984.9h0M354.9 1010.2h0M291.3 922.3h0M353 923.1h0M313.2 915.8h0M367.7 1046.8h0M324.4 992.7h0M325.1 961.3h0M359.6 1027.2h0M329.4 896.1h0M323.3 878.5h0M304.1 915h0M342.7 893.5h0M370.6 960.3h0M326.6 1014h0M314.2 944.7h0M296 927.2h0M340.4 943.3h0M341.9 1018.1h0M358.7 980.8h0M368.9 968.5h0M336.1 975h0M373 1013.2h0M352.2 934.7h0M371.4 1003.6h0M344 1001h0M346.8 991.1h0M305.8 908.9h0M357.2 992h0M334.1 930.7h0M345.9 1021.3h0M317.3 996.5h0M364.3 1029.7h0M335.7 915.9h0M374.2 960.3h0M332.4 874.4h0M352.2 948.1h0M311.7 973.3h0M304.5 926.8h0M354.8 939.6h0M308.3 993h0M332.2 879.5h0M330.3 1029.2h0M362.1 1000.4h0M327.1 881.8h0M343.7 913.1h0M371.6 1059.7h0M326.7 959.6h0M312.7 903.6h0M341 1028.6h0M353.1 989.5h0M335.8 938.8h0M367.5 958.4h0M375.4 1057.4h0M328.3 1018.3h0M333.7 870.1h0M351.4 898.7h0M361.2 965.9h0M342.6 931.2h0M377.4 930.4h0M362.4 1035.5h0M368 953.2h0M369.6 944.7h0M330.6 937.5h0M339.8 1005.9h0M316 886.4h0M361.6 952.3h0M368 1051.1h0M320.4 911.1h0M322.4 1000.7h0M316.9 942.8h0M298.2 923h0M374.2 1062h0M314.3 970.8h0M343.7 1014.4h0M358.6 957.3h0M358.9 1015.4h0M324 932.2h0M339.1 970h0M338.4 993.4h0M357.5 949.5h0M345.3 900.5h0M327.1 943.2h0M344.5 986.6h0M323.2 952.8h0M315.7 990.7h0M310.6 920.9h0M343.5 889.5h0M349.4 987.8h0M312.3 948.9h0M356.7 993.8h0M332.1 898.2h0M359.1 1029.2h0M306.6 943.7h0M333.1 1002.3h0M341.5 959.7h0M334.9 888.6h0M314.5 929.5h0M331.4 948h0M332.5 1026.2h0M332.7 899.9h0M321.5 973.7h0M355.2 1026.7h0M301.7 965.6h0M372.2 958.9h0M337.9 952.1h0M354.9 1003.3h0M371.3 949h0M349.3 933.2h0M339.3 966.6h0M349.3 1018.4h0M367 921h0M296.2 935.7h0M333.3 1016.7h0M317.9 1000.2h0M282.1 955.7h0M363.6 1006h0M319.7 929.8h0M373.9 1024.8h0M330.2 954.9h0M326.3 963.6h0M350.1 928.8h0M337 949.7h0M326.9 940.6h0M305.9 900.4h0M344.4 1020h0M360.8 991.7h0M358.3 988.9h0M354.6 982.9h0M336.3 1022.4h0M321 917.5h0M328.1 1010.7h0M365.2 1023.4h0M337.8 969.2h0M338 919.5h0M334.8 926.7h0M299.8 987.9h0M353.6 1023.9h0M319.1 989.8h0M351 910.7h0M330.7 884.5h0M341.8 902.5h0M324.5 962.7h0M369.3 945.8h0M344.8 972.2h0M368.8 989.4h0M352.6 999h0M356.3 964.5h0M342.7 972.1h0M363.8 956.3h0M336.2 1027.8h0M382.2 993.3h0M336.4 1008.2h0M319.1 939h0M338.6 984.2h0M358.5 1037.3h0M333.8 963.2h0M358.9 908.9h0M366.8 1034.3h0M343.2 966.9h0M314 925.7h0M329.7 958.5h0M349.9 896.1h0M373.6 1064.6h0M300.4 946.5h0M299.6 973h0M333.6 891.3h0M326.9 916.4h0M347.6 889.6h0M324.6 928.9h0M346.6 941.5h0M368.9 921.9h0M370.2 1013.9h0M338 910.9h0M303.5 940.6h0M341 980.9h0M341.1 899.4h0M344.5 1020.5h0M387.3 1006.4h0M321.3 934.3h0M343.6 884.6h0M346.4 907.3h0M354.7 975.4h0M350.5 920.2h0M337.3 926.7h0M313.4 933.5h0M352.9 934.3h0M322.5 958.8h0M338.6 943.2h0M345.2 993.3h0M317.3 900.7h0M325.3 938.8h0M325.7 1009.3h0M352.9 927.1h0M313.5 991.2h0M347.6 914.9h0M318 986.3h0M352.3 987.7h0M338.6 976.1h0M318.6 906h0M316.6 970.5h0M339.5 903.4h0M364.1 919.7h0M310.5 928.2h0M311.5 889.9h0M308.3 907.6h0M363.3 945.7h0M367.8 1030.9h0M375.1 996.3h0M322.1 941.3h0M344.1 980.7h0M324.1 895.6h0M345.4 1033.5h0M384.4 997.7h0M306.5 972h0M361.4 922.8h0M332.1 921h0M347.5 1005h0M366 980.1h0M363.8 1012h0M327 869h0M357.9 937.9h0M364.1 932.8h0M338.9 1025.7h0M328.7 948.2h0M330.3 864.9h0M289.6 989.1h0M355.2 951.3h0M356.7 900.2h0M329.3 893.7h0M355.4 975h0M362.1 1037.9h0M384.9 1002.1h0M374.3 931h0M323.9 964.7h0M322.9 906.6h0M294.1 976.2h0M343.3 1024.9h0M302.7 903.5h0M369.3 935.8h0M366.8 919.4h0M370.3 981.9h0M384.4 1004.9h0M365.1 929h0M352.2 1021.3h0M351.6 912.1h0M317.8 948.4h0M344.7 931.2h0M340.6 945.7h0M324.4 952h0M365.4 969.8h0M371.9 923.2h0M368.4 1014.6h0M365.2 908.5h0M299.6 931.2h0M309.5 918.6h0M350.1 923.3h0M314.4 939.7h0M325 872.7h0M332.8 916.6h0M294.9 933.5h0M344.9 998.8h0M337 997.5h0M398.9 993.9h0M317.8 912.4h0M344.2 1008.8h0M357.1 979.3h0M353.8 1019.2h0M361.2 939.9h0M334.3 867.9h0M349.3 957.1h0M349.8 905h0M335.6 1031.8h0M357 1021.1h0M332.1 1023.1h0M365.2 962.1h0M333.6 884.9h0M364.4 987.6h0M368.9 1002h0M344.4 924.7h0M323.4 1014h0M311 929.2h0M309 933.3h0M384.7 988.9h0M312.6 954.4h0M332.6 963.5h0M396.1 992.1h0M327.6 876h0M343.5 985.2h0M310.9 914.3h0M324.7 942.7h0M331.1 924.2h0M357.2 920.7h0M363.6 910.4h0M319.9 1002.7h0M349.1 947.2h0M358.9 968.9h0M326.4 969h0M344.8 961.2h0M350.3 1007.2h0M334.8 912h0M298.9 935h0M352 909.1h0M361 945.7h0M312.4 933.2h0M347.2 896.5h0M312.9 904.4h0M360.3 1041.4h0M368.5 993.8h0M352.4 1015.2h0M350.5 1030.6h0M349 1002.1h0M362.4 974.7h0M389.4 991.4h0M367.3 911.6h0M327 905.1h0M317 929.4h0M355.6 907.1h0M370.3 979.8h0M369.3 920.9h0M358.9 945.4h0M359.1 929.3h0M292.4 922h0M370.8 1061.3h0M293.8 969.7h0M348.7 978.7h0M343.6 915.6h0M329.5 962.6h0M294.4 981h0M308.1 928.4h0M308.1 967.4h0M342.3 962.6h0M300.4 978.4h0M352.6 977.5h0M336.9 902.8h0M353 985.8h0M278.9 937.7h0M297.3 975.9h0M333.7 863.6h0M331.2 862.9h0M318.3 891.6h0M344.1 896.1h0M371.8 989.9h0M321.7 912.6h0M351.8 1018.3h0M359.1 1003.6h0M334.2 873.9h0M328.9 998.2h0M356.3 1028.5h0M364.8 1049.8h0M346.2 995.3h0M350.2 991.3h0M357.3 947.4h0M359.1 978.6h0M351.3 943.2h0M347.7 1022h0M338.8 986.4h0M313.3 987h0M333.3 960.5h0M365.6 1033.3h0M297 978.8h0M352.2 1005.4h0M319.3 969.5h0M331.9 932.5h0M310.8 888.2h0M336.5 990.3h0M341.7 882.8h0M329 979.7h0M336.3 1012h0M317.4 946.1h0M302.2 908.7h0M362.2 919.3h0M303.6 943.3h0M337.1 889.3h0M356.2 1006.8h0M341.3 909.1h0M327.1 992.1h0M327.3 938.1h0M344.9 995.8h0M332.4 927.7h0M321.3 882.6h0M322 903.3h0M327.5 900.1h0M371.6 994h0M290.5 974.7h0M366 987.2h0M316.2 945.3h0M317.2 974.6h0M341.6 949.1h0M313.1 908.1h0M315.9 993.4h0M368.7 1045.1h0M310.6 974.5h0M339.6 1000.4h0M361.7 943.2h0M325.1 972.5h0M362.9 993.6h0M364.3 1047.5h0M367.1 955.3h0M335.8 945h0M338.2 892.2h0M331 978.7h0M350.2 952.5h0M337.2 929.1h0M366.1 1051.4h0M352.8 1037.7h0M394.4 992.9h0M369.9 1018.8h0M351.2 1008.8h0M311.8 962.5h0M326.6 965h0M364.4 996.9h0M354.7 971.2h0M342.7 977h0M385.6 999.6h0M360.4 931.9h0M334.2 1017.3h0M354.4 965.7h0M334.4 887.1h0M320.7 949.2h0M315.8 886h0M357.1 928.8h0M353.1 904.3h0M362.3 908.5h0M328.2 949.2h0M291.8 991.2h0M330.8 914.9h0M362.7 1002.3h0M320.6 898.5h0M321.9 916.1h0M309.8 904.3h0M330.4 930.4h0M363 961.7h0M369.5 984.5h0M329.8 918.1h0M358.3 944.8h0M333.2 981.4h0M320.7 889.4h0M328.4 920.9h0M337.9 935.8h0M366.1 1021.8h0M301.6 917.5h0M325.8 948.5h0M322.3 960.3h0M367.6 950.1h0M331.6 1015.4h0M305.6 980.8h0M340.1 902.5h0M306.5 976.3h0M366.8 995.1h0M328.1 967.4h0M304.4 921.2h0M349.6 900.6h0M384.6 991.1h0M345 910h0M325.6 919.1h0M340.4 881.7h0M320.9 996.3h0M310.9 940h0M323.4 897h0M385.2 1006.6h0M338.4 894.6h0M369.5 1000.6h0M339.8 1009.9h0M297.1 975h0M345.8 893.4h0M359.7 996.3h0M335.1 977h0M340.9 927.8h0M313.8 959.3h0M316 998.3h0M344.1 975.6h0M349.8 1003.9h0M335 890.6h0M354.4 1006.3h0M319.6 973.1h0M302 993.2h0M322.3 923h0M348.6 965.5h0M370 1063.6h0M373.2 937.8h0M377.1 1064.6h0M312.3 969.6h0M375 984.6h0M354.6 989.6h0M332 890.7h0M351.6 895.2h0M323.8 943.9h0M345.7 944.5h0M330.7 943.4h0M343.9 969.7h0M361.7 1028.3h0M312.4 911.8h0M309.3 912.4h0M324.2 981.2h0M321.5 907.5h0M323.7 979.4h0M362.5 922.7h0M329.4 1016.3h0M338.1 974.5h0M368.5 967.6h0M362.2 968.1h0M306.6 915.8h0M337.4 954.1h0M343.9 923.8h0M367.6 942h0M344.4 1005.6h0M327.8 870.7h0M319.3 962.6h0M352.5 992.8h0M332.2 1028.9h0M347.9 1026.1h0M340 997.6h0M368.3 1021.2h0M321.2 945.5h0M334.8 877.9h0M310.5 951.2h0M367.9 928.8h0M326.3 928.4h0M322.4 1001.6h0M313.5 912.9h0M320.2 940.7h0M313.9 927h0M348.3 998.4h0M311.7 993.9h0M319.4 966.8h0M333.9 897.7h0M333.4 1026.1h0M373.4 946.7h0M333.4 943.7h0M341.3 970h0M328.8 989.3h0M311.7 985.9h0M333.6 1008.6h0M356.8 973.4h0M362.8 904.4h0M350.3 899.1h0M338.9 924.5h0M323.4 887.1h0M320 953.2h0M359.1 1020h0M320 894.4h0M387.3 990.4h0M360.6 997.8h0M328.5 1011.1h0M305.6 963.6h0M336.5 956.6h0M354.2 1014.1h0M366.4 932h0M335.6 987.5h0M346.4 954.9h0M343.5 948.8h0M375 999.3h0M360.3 917.1h0M341.6 896.2h0M326.8 874.8h0M337.6 968.2h0M298.8 967.4h0M344.4 952.4h0M368.4 943.5h0M326.9 995.8h0M344.4 908.1h0M330 942h0M339.6 982h0M341.2 939.1h0M334.9 924.2h0M324.6 903.3h0M356.2 917.3h0M313.9 984.6h0M291.9 944.8h0M354.6 1018.8h0M356.7 967.7h0M338.2 897.1h0M340.4 1018.7h0M365.9 950.1h0M331.4 975.1h0M371.6 1019.4h0M351.4 915.2h0M331.9 872.9h0M326.6 976.5h0M341.6 887.1h0M319.6 951h0M347.8 1001.7h0M345 944.9h0M373.3 923.4h0M346.7 974.5h0M356.5 956.8h0M331.7 1014.6h0M342.9 917.8h0M316.5 906.9h0M305.5 993.8h0M350.7 944.6h0M367.7 1054.4h0M328.1 969.5h0M373.8 941.9h0M363.2 970.9h0M320.1 946.7h0M348.7 972h0M349.4 966.4h0M340.3 894.7h0M334.3 1022h0M339.7 1008.3h0M336.6 917.2h0M338.8 1016.2h0M347.7 1011.9h0M362.7 1015.1h0M370.9 984.7h0M356 971.1h0M327.2 934.2h0M325.1 998.2h0M366.3 963.4h0M368.6 1060.4h0M359.3 942.6h0M351.4 897h0M373.5 919.7h0M317.1 980.1h0M334 1004.8h0M343.5 934.7h0M345.1 1030.8h0M340.1 936.9h0M335 870h0M355.7 907.2h0M330.9 1024.3h0M357 910.9h0M371.1 914.8h0M337.8 1013.9h0M288.4 967.2h0M351.4 938.7h0M350.2 1012.5h0M294.9 987.4h0M369.4 1005.8h0M359.1 954.1h0M317.6 955.8h0M363.5 1009.3h0M372.2 991.2h0M372.9 1010.7h0M363.3 949.2h0M353.4 950.8h0M373.9 1069.3h0M328.8 1019.7h0M363.3 951.3h0M290.1 967.7h0M378.9 1010.2h0M317.1 915.5h0M369.8 930.5h0M299.5 958.5h0M324 916h0M371.1 1015.9h0M324.7 996.2h0M356.7 996.7h0M350 926h0M322.1 935.3h0M335.3 936.8h0M320.7 925.3h0M344.5 957.7h0M349.5 915h0M322.8 922.3h0M358.1 925.3h0M366.6 1053.1h0M365.8 1031.3h0M359 904.6h0M393.7 989.3h0M371.2 1057.6h0M347 1032.1h0M364.4 922.3h0M304.3 961.2h0M334.4 972.4h0M368.3 936.2h0M353.5 943.6h0M369.1 996.5h0M357.5 1007.3h0M337.4 978.4h0M340 966.4h0M341.2 892h0M381.2 991.5h0M334.2 920.2h0M333.1 983.6h0M350.5 984.8h0M342.5 938.7h0M347.7 900.4h0M344.5 936.2h0M365.4 1045.6h0M354.4 1022.3h0M344.4 954.7h0M335.9 994.4h0M350.1 919.5h0M300.4 991.9h0M328.8 875.2h0M329.9 991.6h0M334.1 880.4h0M336.1 983.3h0M333.6 976.4h0M397.7 989.5h0M333.8 905.1h0M354.4 897h0M337.8 960.2h0M370 1036.3h0M320.2 1004.4h0M320.2 977.5h0M360.1 951.8h0M370.7 1030.4h0M312.2 974.4h0M357.2 905.7h0M373.4 955h0M362.4 927.8h0M340.8 889.3h0M304.9 935.2h0M282.1 955.5h0M340.6 883.2h0M326.5 990.3h0M333.7 987.3h0M357.7 963.2h0M330.6 1008.5h0M366.2 1036.3h0M376.4 921h0M364.2 990.3h0M339 901.5h0M337.5 906.1h0M316 912.9h0M315.7 916.7h0M339.4 906.8h0M366.2 1044h0M325.6 1011.7h0M354.3 916.7h0M369.5 950.3h0M303.8 906.9h0M342.2 986.9h0M312.2 984h0M337.7 931.5h0M344 1022.4h0M353.6 1035.6h0M316.6 925.1h0M346.3 1018.5h0M332.7 895.7h0M319.9 965.9h0M345.6 921.5h0M376.4 929.5h0M333.2 990.7h0M366.3 927.7h0M345.8 1029.7h0M341.8 1033.2h0M356.8 993.3h0M357.6 960.6h0M340.4 922.1h0M340 1004.3h0M366 923.8h0M309.6 986.6h0M318.7 984.2h0M321.5 980.4h0M339.7 949.5h0M371.7 1021.1h0M334.8 1029.4h0M318.3 932h0M354.7 1034.2h0M354.5 922.1h0M352.6 961.2h0M369.6 954.5h0M369.3 1009.7h0M354.4 937.7h0M307.9 912.9h0M350.5 1027.9h0M308.6 940.3h0M306 887.4h0M321.5 899.2h0M316.1 946.1h0M365.9 985.3h0M352.2 939.2h0M340.2 927h0M309.5 915.1h0M296.9 965.2h0M328.5 902.7h0M302.4 911.6h0M359.6 994.5h0M335.7 923.3h0M320.9 989.1h0M360.4 1008.2h0M356.6 950.3h0M360.7 914.8h0M357.3 942.1h0M381.6 989.6h0M375.6 1006.1h0M348.7 931.3h0M339.4 917.1h0M335.4 965.2h0M369 940.1h0M356.2 986.5h0M324.9 983.7h0M336.6 1018.4h0M333.4 938.9h0M371.5 995.6h0M327.9 909h0M286.8 921.1h0M324.9 881.4h0M326.8 1000.4h0M314 974.8h0M331 1013.9h0M355.5 936.2h0M343.4 960.6h0M369.8 1056.7h0M376.8 928h0M353.1 1000.4h0M364.7 947.2h0M337 1024.4h0M353 935.3h0M323.2 900.3h0M320.9 954.5h0M329.4 869.5h0M342 956.3h0M364.7 994.8h0M348.2 998.8h0M362.2 962.9h0M307.5 942.1h0M366.1 991h0M371.4 944.8h0M371.7 1004.7h0M355.4 923.7h0M313.4 920.4h0M368.6 1023.3h0M341.4 1034.9h0M367 978.4h0M369 932.5h0M313.6 937.1h0M335.8 979.1h0M342.2 982.4h0M312.4 960.5h0M351.7 1001.2h0M301.7 984.8h0M354.1 914.8h0M317.3 910.7h0M327.5 977.4h0M373.4 930.7h0M290.4 972h0M343.2 928.4h0M345.5 963.9h0M324 1004.2h0M361.9 980h0M347.9 959.9h0M342.1 924.1h0M356.2 954.8h0M349.3 927.7h0M361 1020h0M338.6 955.9h0M361.4 913.1h0M323.3 958.9h0M364.9 913.1h0M336.7 901.2h0M338.4 1034h0M298.9 919.2h0M364.8 959h0M331.2 998.8h0M291.5 942.8h0M320.9 901.6h0M316.6 989.4h0M352.9 955.4h0M352.8 942h0M334.4 1019.4h0M345.4 984.4h0M363.5 977.6h0M352 965h0M306.1 895.6h0M324.5 912.2h0M374.2 1066.2h0M345.6 1014.3h0M353.9 1027.7h0"/>
<path id="d3" d="M313.9 890.4h0M290.8 907.7h0M271.9 892.8h0M334.9 774h0M299 805h0M309.8 842.9h0M311.7 858.6h0M276.7 886h0M324.6 798.1h0M289.3 820.8h0M323.6 748.5h0M310.1 875.1h0M338.9 763.3h0M316.1 795.9h0M285.8 823.3h0M276.2 843.6h0M304.5 856.3h0M300.7 835h0M281.6 862.5h0M329.6 809.6h0M300.7 791.9h0M282.3 905.9h0M286.6 850.1h0M261.7 882.3h0M333.1 778.8h0M317.8 752.9h0M278.2 907.6h0M283.2 853.3h0M279.3 842h0M291.2 814.1h0M289.8 893.3h0M297.6 824.8h0M310.6 828.2h0M294.1 845.7h0M262 847.9h0M285.5 892.9h0M315.7 784.8h0M314.1 761.2h0M276.6 870.6h0M304.9 816.3h0M343.8 774.3h0M264.9 890h0M296.8 839.2h0M271.5 876.3h0M296.7 813.1h0M324.6 785.4h0M320.5 839.1h0M287.8 904.4h0M266.6 899.5h0M270.8 852.8h0M282.7 881.8h0M316.8 824.5h0M301.6 856.7h0M290.7 831.4h0M283.4 841h0M306.8 886.6h0M270.9 882.2h0M282.5 897.5h0M326.4 825.2h0M345.5 777.1h0M317.2 817.4h0M274.2 895.4h0M313.2 793.5h0M307.5 866.1h0M297.2 883.2h0M299.7 799.5h0M276.1 903.5h0M326 803.3h0M340.7 780.5h0M277.6 879h0M315.8 831.9h0M318.8 857.4h0M343 779.6h0M289.3 850h0M314.8 813.8h0M269.6 893.2h0M320.2 860.1h0M314.8 864.7h0M291.3 803.7h0M294.1 868.9h0M321.1 749.9h0M317.2 788.9h0M321.8 866.1h0M338.7 766.8h0M263.8 877h0M342.7 786.8h0M290.2 874.4h0M329.4 834h0M319.9 850.7h0M296.6 886.9h0M302.4 895.3h0M333.8 811.2h0M265.3 903.7h0M323.5 864.7h0M320.3 829.2h0M330.7 821.6h0M275.6 866.1h0M337.9 791.9h0M280.6 908.4h0M278.8 892.8h0M288.6 831h0M290.6 901.6h0M273.1 854.5h0M300.5 785.6h0M329.2 842h0M328.4 765.8h0M329.9 824h0M299.8 861.5h0M319.4 786.8h0M312.9 875.1h0M347 850.9h0M286.5 866.7h0M331.4 772.5h0M312.5 788.9h0M297.3 783.6h0M289.2 884.5h0M301.6 821h0M251.3 841.4h0M299.7 782.2h0M272 879.6h0M271.4 856h0M329.1 830.7h0M327.7 783.9h0M304.1 777.6h0M325.4 835.7h0M269.1 906.2h0M302.7 837.5h0M258.8 884.5h0M339.8 789.2h0M304.6 840.5h0M284.5 897.3h0M318 782.6h0M269.1 889h0M336.2 812.5h0M279.4 897.8h0M297.3 881.2h0M291.1 871.4h0M315.8 850.8h0M313.3 820.6h0M330.7 818.4h0M285.5 882.4h0M297.9 848.7h0M318.6 812.9h0M282.1 846.2h0M299.2 813.3h0M306.2 883.8h0M276.6 871.2h0M258.1 840.5h0M275.9 899.7h0M316.3 762.9h0M302.6 886.5h0M325.1 815.7h0M316.4 811h0M261.5 887.8h0M318.2 851.6h0M326.7 781.5h0M300.1 850.7h0M318.6 841.1h0M309.5 887.3h0M294.3 871h0M334.9 791.2h0M302.8 868.6h0M276.2 866.2h0M311.3 860.1h0M331.7 778.9h0M307.6 843h0M313.3 803h0M278.2 894.2h0M336 753.2h0M310.7 871h0M287.3 912.1h0M308.7 849h0M271.5 871.1h0M278.3 849.9h0M319 867.8h0M319.3 844.2h0M319 747h0M329.6 822.3h0M330.4 757.7h0M323.5 745.2h0M268.8 886.1h0M314.1 821.8h0M321.7 858.4h0M291.2 819.8h0M323.7 779.3h0M277.2 902.5h0M332.2 837.1h0M305.5 788.9h0M269.3 868.5h0M293.5 802.9h0M329 780.6h0M303.9 858.5h0M291.7 827.2h0M255.7 891.4h0M323.2 794.2h0M322.7 788.3h0M298.9 879.9h0M309.2 890.3h0M267.2 848.5h0M304.9 821.7h0M308.9 853.1h0M287.3 828.1h0M248.5 842.6h0M289.2 878.8h0M337.4 803.3h0M299.5 828.6h0M322.3 835.8h0M311 783h0M312.6 816.4h0M339.6 771.4h0M340.7 758.6h0M295.4 841.1h0M304.4 822.4h0M267.3 844.6h0M336 766.7h0M326.4 849.4h0M313.8 848h0M288.8 798.5h0M338.7 801.7h0M317.5 859.8h0M294.1 877.3h0M280 899.6h0M291.7 821.7h0M287.3 882h0M329.7 770.7h0M298.2 826.3h0M340.5 759.6h0M311.9 889.5h0M327.7 763.7h0M275.3 849.7h0M273.2 898.8h0M286.8 875.5h0M304.7 880.7h0M280.8 902.7h0M304.8 872h0M325.6 794.9h0M286.4 852.7h0M270.8 846h0M301 885.9h0M330.5 827.2h0M273.2 846.2h0M318.7 755.2h0M289.6 842h0M335.9 776.6h0M321.7 843.4h0M257.2 846.5h0M306.6 809.8h0M326.8 745.9h0M306.5 874.2h0M264.9 882.9h0M310.5 800h0M321.6 764.4h0M310.8 783.6h0M305.9 891.4h0M330.1 768h0M323.7 813.8h0M287.6 902.9h0M308.5 807.6h0M285.5 836.2h0M308.5 801.7h0M301.2 808.9h0M298.7 817.3h0M321.9 773.1h0M294.5 859.9h0M279.2 856.9h0M322 781.8h0M298.1 878.2h0M264.9 885.2h0M294.7 779.7h0M299.7 782.1h0M287.2 825.5h0M307.3 817.5h0M317.5 864.9h0M261.5 834.9h0M306.5 796.4h0M325.1 788.7h0M306.5 807.4h0M323 869.6h0M300.7 894h0M295 891.6h0M284.3 874h0M300.5 826.5h0M333.9 759.4h0M312.7 834.7h0M317.2 840.3h0M315.5 777.5h0M334.2 819.2h0M266.7 897h0M311.2 817.6h0M326.8 741.8h0M324.6 800.5h0M331.1 813.2h0M292.2 811.2h0M330.8 816.2h0M314.9 760.1h0M285.5 877.8h0M305.5 803.4h0M318.1 752h0M328.4 854.5h0M312.4 842.5h0M272.9 841.6h0M342 770.3h0M330 840.4h0M316.9 858.8h0M321.9 804.3h0M321.6 832.1h0M307.5 804.6h0M311.6 810.9h0M320 762.2h0M295.3 859.1h0M311.6 883.5h0M303.6 865.2h0M315.9 844.8h0M303.9 790.4h0M333.6 787h0M309.2 879.3h0M287.5 843.3h0M261 842.5h0M328.6 818.4h0M324.7 856.8h0M312.5 828.9h0M283.7 837.7h0M294 813.7h0M293.5 876.7h0M340 776h0M302.6 843.5h0M288.3 852.7h0M285 864.1h0M294.2 898.1h0M280 866.1h0M311.4 793.3h0M324.5 775.3h0M265.9 841.2h0M320.7 751.9h0M342.8 793.9h0M333.7 797.7h0M278.9 873.2h0M323.3 854.6h0M308.4 849.8h0M301.2 811.9h0M282.7 878.9h0M334.3 805.5h0M314.4 853.1h0M293.3 847.5h0M315.6 765.9h0M270.5 858.8h0M321.1 834.6h0M286.9 886.8h0M282.9 860.9h0M325.1 818.8h0M319.6 804.1h0M309.3 839.9h0M278 860.3h0M324.3 805.1h0M320.1 754.5h0M276.9 857.2h0M317.5 836.2h0M330.7 808.7h0M329.7 783.3h0M329.4 854.1h0M320.3 767.5h0M259.5 837h0M301.9 829.4h0M265.5 873.4h0M276.7 850.8h0M280.8 851.7h0M317.9 780.4h0M334.1 749.6h0M317.4 804.2h0M330 752.5h0M315.4 758.5h0M268 871.8h0M282.4 889.3h0M318.3 826.9h0M277.2 893.4h0M335.7 786h0M309.5 863.8h0M293.3 791.9h0M311 787.5h0M303.9 810.5h0M326.9 744.3h0M322.4 826.5h0M305.3 797.9h0M332 751h0M307.3 790.4h0M302.1 817.5h0M331.1 783.8h0M288.6 836.3h0M326.8 754.8h0M305.4 867.8h0M330.7 803.4h0M314.7 827.5h0M279.2 870.8h0M303 891h0M309.5 861.8h0M279 890.3h0M319.6 794.5h0M256.1 850.9h0M310.5 760.9h0M336.5 819.2h0M311 802.1h0M321.4 822h0M284.3 909.3h0M323.6 761.5h0M289.9 839.7h0M306.8 813h0M277 848.4h0M300 809.5h0M303.5 844.7h0M326.4 821.3h0M318.5 871.8h0M329.5 847.8h0M273.7 850.1h0M336.6 766h0M297.6 873.6h0M307.5 814.2h0M331.6 810.7h0M326.1 772.7h0M325.6 759.5h0M276.2 880.6h0M337.6 854.1h0M332.3 763.5h0M292.5 807.8h0M322 770.9h0M311.4 836.3h0M319.8 846.4h0M321.3 786.2h0M300.3 802.2h0M274.6 892.4h0M302.7 806.2h0M293.7 781.4h0M272.4 895.3h0M309.7 832.9h0M290.6 810.7h0M292.7 844.8h0M305.6 836.7h0M295.1 896.3h0M313.9 856.1h0M334.6 781.7h0M293.5 824.7h0M298.9 790.5h0M293.5 794.8h0M317.6 821.2h0M341.8 802.3h0M274.7 866.8h0M328.2 775.7h0M331 837.8h0M300.9 846.5h0M319.2 837.1h0M310.2 830.6h0M304.3 889.1h0M295.8 882.5h0M289.9 835.1h0M328.6 808.9h0M339.9 756.8h0M270.4 833.1h0M290.6 805.1h0M292.7 851h0M280.5 867.2h0M267.3 898.7h0M280.8 847.6h0M307.2 883.1h0M303.6 804.1h0M309.5 888.4h0M338.3 776.5h0M283.5 839.6h0M267.7 863.5h0M315.6 841.5h0M315.8 837.6h0M305.9 853.9h0M290.4 844.6h0M288.2 838.5h0M322.3 757.9h0M297.7 792.2h0M298.7 852.9h0M308.2 878h0M291.5 868.4h0M269.7 903.2h0M324.7 743.2h0M271.2 874.5h0M284.7 901.5h0M280.1 863.8h0M293.9 870.5h0M279.1 875.7h0M293.3 888.5h0M337.7 759.2h0M327.6 829.2h0M336.4 798h0M329.4 785.5h0M312.9 855.6h0M313 786.7h0M285.8 842.9h0M297.6 811.2h0M328.8 778.3h0M306.9 832.3h0M292.5 887.5h0M305.2 843.9h0M291.8 894.1h0M315.8 854.6h0M296.7 894.3h0M272.6 876.1h0M341.3 751.7h0M310 866.6h0M291.5 911.7h0M341.6 762.3h0M298.5 843.8h0M338.3 783.3h0M331.2 791.5h0M329.7 765.6h0M274.9 835.8h0M308 819.9h0M315.9 799.2h0M325.5 829.3h0M300.8 890.4h0M261.2 891.6h0M332.1 768.5h0M314.6 857.8h0M322.3 819.1h0M293.6 894.6h0M325.9 765.1h0M300.2 807.4h0M272.2 889.1h0M287.6 846.1h0M327.2 803.3h0M331.1 793h0M282.5 903.4h0M285.7 827.4h0M299.3 856.5h0M332.6 794.7h0M300 837.7h0M283.3 893.2h0M308.2 811.1h0M292 798.2h0M314.2 815.8h0M265.3 883.3h0M313.4 833h0M300.5 891.6h0M312.4 870.4h0M324 827.1h0M273 860.6h0M328.5 839.3h0M336.7 800.5h0M290.8 862.3h0M331.6 788.7h0M296.6 856.1h0M303.7 787.6h0M286.8 846.4h0M275.9 895.4h0M296.2 832.5h0M257.4 831.4h0M291.8 784.3h0M324.1 837h0M286.1 857.7h0M334.8 764h0M322.4 777.6h0M317.9 853.7h0M274.4 858.8h0M322.4 815.3h0M268.7 876.6h0M303.3 875.1h0M266 852.8h0M303.5 854.6h0M338.4 790.4h0M294.4 826.7h0M314.9 776h0M318.2 797.9h0M301.4 801.2h0M295.2 844h0M326 782.5h0M296.4 797.9h0M319 861.3h0M299.7 889.9h0M290.5 910.4h0M319.9 875.1h0M326 761.2h0M261.9 897.7h0M298.9 872.1h0M308.5 837.8h0M307.2 781.9h0M290.6 900.3h0M327.1 792.7h0M323.4 762h0M323.2 842.4h0M302.5 783.6h0M319.4 774.5h0M339.4 797.6h0M302 800.8h0M291.9 884.3h0M301.4 871.1h0M282.3 876.6h0M299.6 882.3h0M327.7 768h0M304.7 840.7h0M339.8 792.4h0M311 869.4h0M300.8 798.2h0M304.4 850.6h0M313 860.8h0M266.1 866.3h0M319.5 760h0M272.6 880.6h0M329.7 746.6h0M312.9 845.6h0M323.6 858.8h0M313.7 805.7h0M330.3 774.9h0M285.3 844.4h0M295.9 857.8h0M275.6 851.9h0M311.4 863.3h0M289.3 795.3h0M311.9 778.9h0M318.3 769.5h0M293.4 858.2h0M311.6 824.3h0M318.4 807h0M304.2 882.6h0M266.8 868.4h0M319.7 798.7h0M272 835.3h0M285.3 854.5h0M321.4 861.8h0M294.8 866.7h0M338.1 779.9h0M312.5 798.4h0M278.7 847.9h0M305.4 857.6h0M323.6 778.2h0M253.6 847h0M274.1 884.1h0M311 776.5h0M314.8 868.6h0M288.6 888.6h0M308.8 872.8h0M314.9 764.8h0M302 848.8h0M325.5 793.1h0M325.7 820.5h0M291.3 866.5h0M339.3 785.5h0M313.5 808.8h0M287.3 820.6h0M327.8 788.9h0M274.8 889.8h0M312.6 865.8h0M295.5 903.4h0M289.8 864.6h0M337.4 771.6h0M260.4 896.7h0M293.4 805.5h0M333.7 801.5h0M281.6 836.4h0M296.8 846.1h0M335.7 750.2h0M280.3 861.3h0M292.8 811.5h0M277.8 871.8h0M318 761.4h0M316.3 873.8h0M312.8 812.8h0M298.2 779.6h0M290.4 886.3h0M271.8 872.8h0M259.4 898.1h0M278.5 884.9h0M290.7 801.3h0M265 886.3h0M303.4 827.3h0M312.2 872.3h0M303.3 880.9h0M304.7 799h0M285.6 838.4h0M315.7 876.3h0M299.8 893h0M290.8 824.2h0M303.5 836.2h0M306.5 826h0M295.8 852.2h0M336.1 795.7h0M290.1 853.2h0M329.9 798.1h0M319.2 833.1h0M287.5 869.1h0M307.3 773.4h0M337.6 844.7h0M283.1 808h0M297.2 859.2h0M330 814.6h0M323.7 766.6h0M340 770.3h0M314.1 840.7h0M274.3 863.2h0M335.9 799.5h0M326.9 799.6h0M336.8 789.9h0M293.2 904.7h0M299.5 859.9h0M273.1 859h0M339.7 864.6h0M343.2 765.4h0M320.5 865.1h0M288.9 891.3h0M285.3 862.9h0M274 904.6h0M337.1 774.5h0M302.8 859.2h0M353.3 850.9h0M290.4 902.9h0M323.1 846h0M276.4 846.9h0"/>
<path id="d9" d="M369.8 856.5h0M376.1 879.6h0M379.4 890.3h0M372.7 862.4h0M356.9 861.2h0M349.6 863.3h0M389.3 860.3h0M360.7 864.5h0M369.1 889.9h0M385.7 867.5h0M368.4 859h0M358 858.6h0M396.8 856h0M378.5 855.7h0M371 877h0M377.3 864.6h0M387.6 869.7h0M365.3 871.5h0M361.8 921.1h0M377.8 858.6h0M374.3 894.4h0M352.1 864.1h0M379.2 885.8h0M384.4 883.2h0M378 894.5h0M386.8 877h0M373.5 849.6h0M392.9 866.8h0M364.7 864.4h0M391.5 869.1h0M363 867h0M391.8 851h0M382 846.1h0M353.8 865.8h0M386.3 888.2h0M370 899.5h0M395.3 851.7h0M365.6 879.4h0M386.4 861.8h0M381.6 888.2h0M364.2 852.6h0M353 863.1h0M353.8 860.2h0M393.1 857.8h0M369.8 852.6h0M396.8 843.1h0M374.9 856.1h0M373.5 864.6h0M381.2 892.5h0M371.5 883.5h0M398.4 849.1h0M378.2 847.4h0M394.2 849.2h0M366.7 867.9h0M379.3 846.8h0M362.2 873.2h0M361.1 861.5h0M382.4 893.8h0M371 879.5h0M384.6 876.8h0M380.9 866.1h0M392.6 864.1h0M363.7 855.9h0M372.9 858.9h0M382.3 852.5h0M359 869.7h0M372.6 872.6h0M375.7 870.5h0M374.3 894.5h0M385.2 889.8h0M384.7 879.5h0M376.8 866.9h0M372 857.7h0M330.4 881.3h0M318.9 913.8h0M364.6 850.9h0M368 855.9h0M360.9 856.6h0M370.8 870.3h0M372.7 888h0M375.8 897.2h0M385.1 871.2h0M374.6 881.8h0M364.7 874.4h0M383.9 856.7h0M373.7 891h0M373.3 914.9h0M386.2 892h0M386.1 881.7h0M373 886.7h0M390.7 854.3h0M382.9 891.6h0M375.8 888.1h0M358.7 860.4h0M384.7 868.8h0M377.5 890.1h0M355 863.9h0M398.7 846.4h0M373.7 884.2h0M393.1 855.1h0M370.7 897.1h0M379.6 869.2h0M377.8 892.6h0M386.9 851.3h0M377.5 877h0M375.2 887.1h0"/>
<path id="d13" d="M416.3 874.2h0M414.2 876.3h0M410 885.7h0M404.8 871h0M424.7 855.3h0M421.5 900.2h0M412.1 880.5h0M394.3 909.6h0M425.7 859.5h0M422.6 867.9h0M411 901.2h0"/>
<path id="d12" d="M417.4 990.7h0M378.6 1018.6h0M405.8 989.2h0M419.9 1035.5h0M410.8 998.1h0M410.4 988.2h0M425.7 1012.3h0M413.2 993h0M416.8 1035.6h0M388.6 1020.4h0M406.8 1032.2h0M401.6 1022.9h0M406.8 1036h0M393.2 1027.3h0M405.7 1025.4h0M410.1 1036.7h0M421 1038.7h0M425.7 1026.9h0M405.6 1021h0M395.7 1021.6h0M408.9 1008.1h0M424.6 1035h0M418.4 1039.7h0M404.5 985.4h0M392.7 1020.8h0M407.6 1028h0M405.2 1029.7h0M408.7 1034.1h0M412.7 1040.9h0M414.6 1032.2h0M415.4 1041h0M402.1 1029.1h0M398.6 1022.2h0M409 991.2h0M421.7 1043.2h0M398.5 990.3h0M387.9 1025.3h0M407.6 996.4h0M418.5 1002.3h0M383.8 997.6h0M414.5 1004.3h0M401 1031.8h0M432 998.7h0M412.5 985.4h0M417.8 999.7h0M406 981.8h0M417.3 1012.3h0M413.1 1037.7h0M412.7 989.5h0M420.3 1032.6h0M401 982.4h0M416.2 995h0M392 1018h0M411.7 1005.8h0M410.5 1001.3h0M411 994.5h0M398.9 1026.3h0M411.5 1031.4h0M416.2 986.6h0M406.3 987.9h0M415.8 1038.4h0"/>
<path id="d1" d="M527.5 902.1h0M393.2 991.3h0M466.5 985h0M511.3 917.1h0M510.3 900.8h0M435.4 974.8h0M470 979.6h0M445.4 986.8h0M422.9 959.1h0M487.1 952h0M504.6 933.4h0M491 939.4h0M494.6 908.1h0M445.6 924.7h0M447 924.6h0M516.4 899.7h0M498.7 934.5h0M488.5 915.2h0M470.6 945.2h0M472.8 951h0M520.5 906.7h0M496.6 974.4h0M428 988.8h0M472 912.4h0M433.8 996.7h0M472 920.1h0M519.3 907.5h0M513 945.2h0M429.4 941.9h0M467.2 992.5h0M452.8 926.4h0M495.8 883.5h0M439.1 930.6h0M423.3 970.9h0M454.5 994.7h0M443.1 966.1h0M491.4 982.8h0M485.7 899.1h0M486.2 948.3h0M468.5 908.3h0M501.4 953.1h0M453.4 1000.3h0M433.1 953h0M478 969.1h0M421.2 958.6h0M521.6 894h0M417 957.4h0M441.4 937.7h0M479.2 925h0M474.1 956.7h0M516 955.2h0M471.9 914.8h0M505.6 916.6h0M446.6 995.7h0M517.8 932h0M483.8 899h0M473.2 993.2h0M462.4 917.3h0M498 899.5h0M439.3 919h0M509.1 920.2h0M467.5 959.9h0M464.1 983.3h0M469.6 928.8h0M506.3 957.7h0M455.1 979.3h0M444.3 938.8h0M453.1 986.1h0M507.1 959.5h0M430 983h0M483.3 943.3h0M408 965.5h0M442 930.3h0M467.6 974.2h0M472.6 930.7h0M524.7 942.6h0M441.7 976.7h0M506.2 934.1h0M495.6 969.3h0M478.7 971.8h0M473.2 952.3h0M476.2 924.7h0M470.8 985.9h0M465 988h0M501.9 908h0M470 904.4h0M494.9 965.7h0M445.9 961.8h0M510.2 927.5h0M475.6 974.1h0M413.9 960.5h0M459.9 992.2h0M486.7 918.7h0M499.3 946.1h0M503.1 909.1h0M420.7 953.4h0M440.8 996.8h0M482.8 908h0M523.5 944.2h0M409.8 968.7h0M521.7 917.4h0M465.7 965.7h0M480 981.1h0M479.8 935.7h0M516.5 892.6h0M441.4 952.1h0M433.8 963.6h0M476.8 938.7h0M460.8 964.3h0M483.6 923.7h0M429.8 984.8h0M400.6 996.6h0M441.9 957h0M451.9 886.6h0M466.5 968h0M457.2 913.3h0M425.3 974h0M421.2 989.1h0M496.9 977.7h0M429.9 908.6h0M457.1 954.3h0M413.5 970.4h0M458.5 978.9h0M450.5 994.3h0M477.8 895.5h0M451 978.3h0M494 891h0M461.7 937.4h0M467.9 930.6h0M492.7 902.5h0M485.1 983h0M422.5 986.1h0M448.3 916.5h0M517.5 952.8h0M504.4 941.7h0M455.3 973.9h0M517.4 893.5h0M511 922.9h0M423.6 975.1h0M523.6 934.9h0M506.1 899.4h0M486.6 922.9h0M485.2 981.7h0M495.1 912.5h0M444.8 950.6h0M521.4 928.3h0M455.6 957.4h0M488.2 909h0M419.7 954.9h0M433.8 983.8h0M428.2 958.5h0M421.6 977.1h0M491.7 889.1h0M487.8 960.9h0M431.7 955.8h0M501.4 910.8h0M479.9 972.1h0M491.2 962.7h0M473 907.7h0M447 960.4h0M499.6 963.5h0M464.6 941.6h0M501.4 933.6h0M447.8 921.2h0M447.1 919.2h0M465.2 916.7h0M483.4 982h0M461.9 925.3h0M520.2 924.3h0M489.9 922.5h0M529.3 916.5h0M526.6 933.9h0M477.8 922.4h0M495.1 950.7h0M528.3 915.6h0M457.9 931.1h0M481.7 936.1h0M489.6 925.5h0M471.3 974.2h0M511.7 950.3h0M461.9 992.2h0M475 973.2h0M475.7 948.3h0M482.8 919.6h0M485.6 951h0M504.4 966.9h0M515.2 886.8h0M446 928.5h0M454.2 974.4h0M436.1 964.5h0M450.5 998.4h0M518.4 915.1h0M413.3 972.9h0M534.7 914.9h0M524 939.7h0M481.7 893.1h0M455.4 932.6h0M440.5 926.6h0M513.8 936h0M459.2 954.3h0M507.6 964.5h0M469.5 965.9h0M458 923.2h0M426.8 960.8h0M513.3 929.6h0M463.6 926.5h0M496.9 916.9h0M460.9 949.3h0M477.9 890.5h0M456.2 944.3h0M464.4 989.6h0M447.4 994.6h0M475.3 994.2h0M467.4 971.2h0M421.5 961.7h0M465.3 981.2h0M449.9 920.7h0M511.7 903.5h0M520.6 941.3h0M406.2 973.9h0M458.5 908.3h0M484 984.5h0M490.1 959.6h0M444.5 977.4h0M519 917h0M525.1 912.2h0M448.5 982.9h0M516.9 901.6h0M468.1 910.2h0M471.2 995.4h0M451.6 914.9h0M469.2 965.3h0M448.4 954.1h0M505 902.2h0M447.4 962.3h0M523.9 922.2h0M499.4 975.9h0M501.3 886.2h0M428.9 991.1h0M440.3 959.4h0M451 923.1h0M469.7 960.5h0M518 911.4h0M478 925.7h0M409.9 975.5h0M444.3 971.9h0M526.6 913.1h0M490.5 934.6h0M500.7 896.6h0M462.5 954.1h0M415.9 967.8h0M424.6 963.6h0M461.2 922.4h0M471.9 947.8h0M492.5 955.5h0M463.8 947.9h0M489.1 981.5h0M511.3 913.6h0M484.6 887.5h0M488.3 919.2h0M479.4 916.7h0M429.1 974.2h0M511.3 919.8h0M420 983.7h0M491 974.2h0M462.2 981.6h0M466.5 924.3h0M525.3 920.5h0M505.6 912.3h0M467.1 990.7h0M487.3 928.2h0M428.2 966.8h0M470.4 969.3h0M417.2 973.1h0M460.1 967.4h0M462.9 942.8h0M493.3 949.8h0M430.7 995.2h0M445.3 933.8h0M528.2 910.7h0M445.2 988.6h0M456.7 990.6h0M520.3 916h0M439.8 939.7h0M494.1 887.9h0M482.5 971.6h0M490.7 968.8h0M464.7 934.4h0M480.5 928.1h0M512.7 901.8h0M454.8 963.2h0M487.5 938.7h0M493.5 886.1h0M508.4 927.5h0M448.6 945.3h0M436.6 978.8h0M511.4 957.9h0M450.4 953.2h0M484.6 941h0M496.1 906.2h0M441.6 949h0M530.3 908h0M459.1 961.5h0M518.5 912.4h0M433.2 971.6h0M504.7 948.1h0M436.3 991.5h0M478.2 960.6h0M481.2 888.4h0M470.4 926.4h0M484.2 893.3h0M465.1 959.3h0M497.9 904.3h0M507.3 925.5h0M497.4 910h0M450.8 893.9h0M435.8 970h0M465.9 928.7h0M475.7 989.5h0M508.5 884.6h0M513.7 939h0M459 943.2h0M480.3 983.3h0M419.7 972.1h0M424.8 956.8h0M480.4 958.1h0M471.4 905h0M448.1 968.8h0M458.6 973.3h0M418.8 978.4h0M477.9 965.6h0M509.3 911.5h0M459 940.5h0M490.1 892.3h0M459.1 929.9h0M476.1 931.9h0M425.6 967.1h0M488 932.9h0M449.4 942h0M499.1 924h0M482.7 894.4h0M461.9 930.2h0M458.8 927.1h0M476.4 900.7h0M500.4 972.7h0M518 927.4h0M514.1 952.7h0M423.9 952.8h0M458.2 994.1h0M443.9 948.6h0M489.8 943.7h0M490.5 947.6h0M479.7 914.8h0M439.8 962.9h0M498.5 886.4h0M449.9 992.5h0M520.6 897.8h0M429.4 973.6h0M504 889h0M504.4 961.5h0M430.4 987.4h0M413.8 953.8h0M526.5 907.7h0M480.6 948h0M514.6 910.8h0M504.6 927.5h0M417.6 961.1h0M488 955.9h0M510.4 894.9h0M481 978.7h0M484.9 929.1h0M436.3 931.4h0M504.4 911.7h0M462.9 942.9h0M453.6 957.3h0M495.2 912.8h0M415 963.6h0M521.6 909.8h0M487.9 901.5h0M511.8 955.5h0M453.2 961.8h0M438.8 996.3h0M442.9 993.6h0M517 885.7h0M435.8 988.3h0M520.8 932.4h0M491.2 905.7h0M492.9 914.6h0M428.5 961.6h0M466 979h0M479.6 937.3h0M496.7 938.7h0M513.3 907.2h0M427.8 901.2h0M435.8 934.9h0M497.9 928.5h0M486.1 939.6h0M452.1 938.2h0M461.4 915.9h0M490.2 912.7h0M525.2 923.9h0M419.4 971.8h0M528.4 917.3h0M509.1 902.8h0M432.5 990.7h0M492 977.5h0M476.7 956.6h0M468.3 950h0M480.6 897.5h0M475.2 900.1h0M471.4 934.4h0M460.6 989.8h0M451.4 949h0M485.1 908.7h0M471.1 922.5h0M490.2 980.3h0M484.5 903.8h0M489.5 969.2h0M504.1 950.4h0M521.5 912.6h0M484.9 946.1h0M455.8 910.7h0M475.1 958.4h0M472.4 939.8h0M502.4 900h0M487.9 946.6h0M515.9 927.5h0M472.1 929.4h0M492.2 900.8h0M464.5 991.6h0M452 964.5h0M501.6 940.9h0M442.1 959h0M454.5 925.9h0M457.1 927.3h0M496.8 944.7h0M493.4 928.6h0M426.4 956.2h0M457.1 946.4h0M482.5 959.1h0M475 952.3h0M495.1 905.2h0M434.4 967.7h0M456.8 997.5h0M494.5 964.6h0M466.6 963.7h0M517.2 942.7h0M476.7 963.5h0M475.8 934.7h0M442.8 964.6h0M468.6 951.7h0M496 973.4h0M500.5 969.2h0M520 921.4h0M507.2 961.3h0M521.4 888.9h0M449.5 960h0M431.9 974.9h0M437.8 934.5h0M485.3 956.5h0M446 992.5h0M484.4 975.3h0M419.4 961.9h0M445.1 950h0M464.1 974.8h0M523.1 936.4h0M507.8 921.2h0M422.4 949.6h0M452.5 976.3h0M480.4 985.8h0M488 965.6h0M486.7 916.3h0M419.6 966.2h0M498 916.7h0M467.9 906.7h0M492.1 972.3h0M514.3 941.5h0M489.2 889.1h0M486.1 929.6h0M528 913.4h0M467 915.3h0M492.9 943.6h0M466.8 965.6h0M437.1 971.3h0M451.1 987.6h0M513 924.6h0M468.5 978.7h0M493.8 892.9h0M495.3 952.9h0M519.2 895.4h0M498.5 952.3h0M457.8 996h0M456.5 983.5h0M475.2 916.3h0M435.2 943.2h0M424 954.6h0M519.9 897.5h0M479.9 906.6h0M467.3 923.1h0M479.1 939.4h0M414.2 960.6h0M461.9 912.9h0M475.1 980.4h0M481.1 931.7h0M505.1 883.8h0M430.7 978.8h0M481.3 966.1h0M444 996.1h0M525.7 894.1h0M488 950h0M428.1 982.9h0M438.5 942.2h0M463.9 901.2h0M500.4 893.9h0M482.7 891.4h0M524.9 905.2h0M492.8 918.9h0M425.5 980.2h0M473.2 932.2h0M507.1 965h0M472.9 912h0M473.5 944.8h0M478 945.6h0M528.1 904.7h0M460.1 973.4h0M439.2 977.6h0M440.9 987.7h0M507.4 894h0M515.7 919.1h0M525.9 908h0M473.2 942.1h0M422.9 984.3h0M506.7 953.9h0M515.3 932.7h0M506.7 908.1h0M517 934.2h0M470.9 965.3h0M467.7 945.4h0M464.7 931.2h0M480.7 942.5h0M494.1 947.5h0M503.1 930.9h0M463 987.2h0M499.5 902.6h0M427.4 944.5h0M501.4 937.6h0M504.5 918.8h0M511.5 915.1h0M427.7 976.5h0M451.6 979.7h0M484.9 970.3h0M433.2 985.4h0M432.7 965.5h0M513.1 888.3h0M496.8 887.8h0M505.3 940.1h0M426.7 948.6h0M435.8 954.8h0M488.1 966.4h0M440.2 970.9h0M455.7 962.2h0M471.2 942.5h0M444.2 969.5h0M465.4 995.4h0M512.2 897.3h0M494.5 970.7h0M416.8 985.6h0M488.9 948.4h0M514.1 933.7h0M411 971.7h0M498.8 953h0M461.4 934h0M490 929.2h0M470.9 979.8h0M438.3 900.2h0M421.5 957.1h0M502 958.3h0M494.8 926.6h0M451.9 953h0M428 943h0M498.4 966.8h0M492.6 921h0M470.2 913.4h0M457.5 964h0M475.7 966.4h0M459.7 990.5h0M440 972.2h0M498.6 949.6h0M459.9 957h0M469.6 900.7h0M464.1 934.5h0M488.5 962h0M495.8 944.2h0M509.8 891.9h0M465.4 913.6h0M423.6 972.6h0M511.6 908.5h0M437.2 951.8h0M496.4 933.8h0M507.9 930.7h0M460.5 910.3h0M417.8 968.5h0M495.1 960.1h0M521.3 903.3h0M448.8 936.4h0M467 899.2h0M447.1 956h0M508 907.8h0M502.1 903.5h0M472.6 968.7h0M504.6 929.2h0M465.6 909h0M451.6 930h0M467.1 945.8h0M499.5 967.3h0M524.3 933.3h0M486.7 896.3h0M439.4 983.7h0M479.9 966.9h0M515.7 939.3h0M502.6 943.6h0M495.1 898.9h0M506.4 950.4h0M430.7 992h0M512.6 891.2h0M491.9 929.2h0M443 945.6h0M503 915.4h0M494.4 916.1h0M432 962h0M515.3 943.8h0M487.1 911.8h0M478.5 988.3h0M523.2 900.7h0M464 920.2h0M514.7 958.2h0M470.7 977.9h0M520 900.7h0M501.1 899.5h0M518.8 920.5h0M519.8 929.6h0M452.3 990.1h0M444.9 942.4h0M419.7 986.2h0M456.7 989.8h0M467.5 955.4h0M467.2 939.1h0M453.5 993.1h0M433.7 979.7h0M442.5 926h0M414.1 981.1h0M436.6 995h0M520.3 910.9h0M474.7 908.9h0M515.6 894.1h0M417.5 980.5h0M441.6 943.2h0M462.6 965.3h0M484.4 935.9h0M514.9 915.6h0M446.4 934.6h0M488.8 956.1h0M517.3 901.8h0M455.6 985.9h0M450.1 934.1h0M461.8 939h0M512.8 922.4h0M472.9 937.7h0M446.4 946.3h0M466.1 987.1h0M521.2 936.7h0M462.5 958h0M474.6 984.5h0M488.9 952.7h0M508.9 905.4h0M496.8 895.7h0M489.5 971.6h0"/>
</defs>
<rect width="1902" height="1193" fill="#fff"/>
<g fill="none" stroke-linecap="round" stroke-width="4.1" transform="translate(0 0)">
<use href="#a0" stroke="#1f77b4"/>
<use href="#a12" stroke="#9edae5"/>
<use href="#a9" stroke="#c7c7c7"/>
<use href="#a1" stroke="#aec7e8"/>
<use href="#a3" stroke="#98df8a"/>
<use href="#a7" stroke="#c49c94"/>
<use href="#a8" stroke="#f7b6d2"/>
<use href="#a2" stroke="#ffbb78"/>
<use href="#a6" stroke="#8c564b"/>
<use href="#a5" stroke="#9467bd"/>
<use href="#a4" stroke="#d62728"/>
<use href="#a13" stroke="#9467bd"/>
<use href="#a11" stroke="#17becf"/>
<use href="#a10" stroke="#bcbd22"/>
</g>
<g fill="none" stroke-linecap="round" stroke-width="4.2" transform="translate(574.7 0.3)">
<use href="#a0" stroke="#8c564b"/>
<use href="#a9" stroke="#8c564b"/>
<use href="#a1" stroke="#8c564b"/>
<use href="#a3" stroke="#8c564b"/>
<use href="#a7" stroke="#8c564b"/>
<use href="#a8" stroke="#8c564b"/>
<use href="#a2" stroke="#8c564b"/>
<use href="#a6" stroke="#8c564b"/>
<use href="#a4" stroke="#8c564b"/>
<use href="#a5" stroke="#1f77b4"/>
<use href="#a12" stroke="#1f77b4"/>
<use href="#a13" stroke="#1f77b4"/>
<use href="#a11" stroke="#9edae5"/>
<use href="#a10" stroke="#9edae5"/>
</g>
<g fill="none" stroke-linecap="round" stroke-width="4.4" transform="translate(0 0)">
<use href="#d1" stroke="#aec7e8"/>
<use href="#d13" stroke="#9edae5"/>
<use href="#d9" stroke="#f7b6d2"/>
<use href="#d10" stroke="#c7c7c7"/>
<use href="#d8" stroke="#e377c2"/>
<use href="#d2" stroke="#ffbb78"/>
<use href="#d5" stroke="#ff9896"/>
<use href="#d6" stroke="#c5b0d5"/>
<use href="#d3" stroke="#2ca02c"/>
<use href="#d0" stroke="#1f77b4"/>
<use href="#d4" stroke="#d62728"/>
<use href="#d7" stroke="#8c564b"/>
<use href="#d11" stroke="#bcbd22"/>
<use href="#d12" stroke="#17becf"/>
</g>
<g fill="none" stroke-linecap="round" stroke-width="4.4" transform="translate(579.2 0.4)">
<use href="#d1" stroke="#8c564b"/>
<use href="#d13" stroke="#8c564b"/>
<use href="#d9" stroke="#8c564b"/>
<use href="#d8" stroke="#8c564b"/>
<use href="#d2" stroke="#8c564b"/>
<use href="#d5" stroke="#8c564b"/>
<use href="#d6" stroke="#8c564b"/>
<use href="#d3" stroke="#8c564b"/>
<use href="#d0" stroke="#8c564b"/>
<use href="#d4" stroke="#8c564b"/>
<use href="#d11" stroke="#8c564b"/>
<use href="#d12" stroke="#8c564b"/>
<use href="#d10" stroke="#9edae5"/>
<use href="#d7" stroke="#1f77b4"/>
</g>
<rect x="52.5" y="60.7" width="501.4" height="489.2" fill="none" stroke="#000" stroke-width="2"/>
<rect x="627.7" y="60.7" width="501.20000000000005" height="489.3" fill="none" stroke="#000" stroke-width="2"/>
<rect x="49.2" y="657.75" width="505.7" height="493.54999999999995" fill="none" stroke="#000" stroke-width="2"/>
<path d="M1135 657.8H629V1151.3H1135M1137.8 656.8V1152.3" fill="none" stroke="#000" stroke-width="2"/>
<circle cx="1421.6" cy="308.5" r="219.3" fill="#ff9999"/>
<circle cx="1608.5" cy="308.5" r="196.3" fill="#99cc99"/>
<path d="M1540.62 124.31A219.3 219.3 0 0 1 1540.62 492.69A196.3 196.3 0 0 1 1540.62 124.31Z" fill="#dfbe99"/>
<circle cx="1397.0" cy="906.65" r="182.95" fill="#ff9999"/>
<circle cx="1701.85" cy="906.55" r="191.35" fill="#99cc99"/>
<path d="M1544.27 798.10A182.95 182.95 0 0 1 1544.27 1015.20A191.35 191.35 0 0 1 1544.27 798.10Z" fill="#dfbe99"/>
<g font-family='"Liberation Sans", Arial, Helvetica, sans-serif'>
<text x="48.2" y="45.3" font-size="44.5" fill="#111" font-weight="normal" text-anchor="start" textLength="38.79" lengthAdjust="spacingAndGlyphs">A.</text>
<text x="623.99" y="45.3" font-size="44.5" fill="#111" font-weight="normal" text-anchor="start" textLength="36.82" lengthAdjust="spacingAndGlyphs">B.</text>
<text x="1163.63" y="45.3" font-size="44.5" fill="#111" font-weight="normal" text-anchor="start" textLength="39.42" lengthAdjust="spacingAndGlyphs">C.</text>
<text x="44.81" y="642.5" font-size="44.5" fill="#111" font-weight="normal" text-anchor="start" textLength="42.3" lengthAdjust="spacingAndGlyphs">D.</text>
<text x="620.87" y="642.2" font-size="44.5" fill="#111" font-weight="normal" text-anchor="start" textLength="34.74" lengthAdjust="spacingAndGlyphs">E.</text>
<text x="1163.88" y="642.7" font-size="44.5" fill="#111" font-weight="normal" text-anchor="start" textLength="30.34" lengthAdjust="spacingAndGlyphs">F.</text>
<text x="269.16" y="46.8" font-size="22" fill="#111" font-weight="normal" text-anchor="start" textLength="76.12" lengthAdjust="spacingAndGlyphs">clusters</text>
<text x="268.95" y="641.8" font-size="22" fill="#111" font-weight="normal" text-anchor="start" textLength="76.63" lengthAdjust="spacingAndGlyphs">clusters</text>
<text x="826.05" y="47" font-size="22" fill="#111" font-weight="normal" text-anchor="start" textLength="103.96" lengthAdjust="spacingAndGlyphs">annotation</text>
<text x="826.05" y="642.7" font-size="22" fill="#111" font-weight="normal" text-anchor="start" textLength="103.96" lengthAdjust="spacingAndGlyphs">annotation</text>
<text x="263.49" y="579.7" font-size="25.6" fill="#111" font-weight="normal" text-anchor="start" textLength="80.43" lengthAdjust="spacingAndGlyphs">UMAP1</text>
<text x="839.59" y="579.1" font-size="25.6" fill="#111" font-weight="normal" text-anchor="start" textLength="80.32" lengthAdjust="spacingAndGlyphs">UMAP1</text>
<text x="263.49" y="1181.7" font-size="25.6" fill="#111" font-weight="normal" text-anchor="start" textLength="80.43" lengthAdjust="spacingAndGlyphs">UMAP1</text>
<text x="836.72" y="1181.7" font-size="25.6" fill="#111" font-weight="normal" text-anchor="start" textLength="79.28" lengthAdjust="spacingAndGlyphs">UMAP1</text>
<text x="1484.45" y="62.9" font-size="25.6" fill="#111" font-weight="normal" text-anchor="start" textLength="103.86" lengthAdjust="spacingAndGlyphs">DE genes</text>
<text x="1489.35" y="682.7" font-size="25.6" fill="#111" font-weight="normal" text-anchor="start" textLength="103.65" lengthAdjust="spacingAndGlyphs">DE genes</text>
<text x="1339.38" y="564.9" font-size="25.6" fill="#111" font-weight="normal" text-anchor="start" textLength="156.9" lengthAdjust="spacingAndGlyphs">Hippocampus</text>
<text x="1599.88" y="569.9" font-size="25.6" fill="#111" font-weight="normal" text-anchor="start" textLength="107.1" lengthAdjust="spacingAndGlyphs">Ventricles</text>
<text x="1310.79" y="1155.3" font-size="25.6" fill="#111" font-weight="normal" text-anchor="start" textLength="156.39" lengthAdjust="spacingAndGlyphs">Hippocampus</text>
<text x="1653.48" y="1159.5" font-size="25.6" fill="#111" font-weight="normal" text-anchor="start" textLength="106.6" lengthAdjust="spacingAndGlyphs">Ventricles</text>
<text x="1286.91" y="215" font-size="27.5" fill="#fff" font-weight="normal" text-anchor="start" textLength="70.35" lengthAdjust="spacingAndGlyphs">Lars2,</text>
<text x="1263.87" y="246.4" font-size="27.5" fill="#fff" font-weight="normal" text-anchor="start" textLength="116.6" lengthAdjust="spacingAndGlyphs">Gm42418</text>
<text x="1500.92" y="246.4" font-size="27.5" fill="#fff" font-weight="normal" text-anchor="start" textLength="57.63" lengthAdjust="spacingAndGlyphs">Thy1</text>
<text x="1296.46" y="366.9" font-size="27.5" fill="#fff" font-weight="normal" text-anchor="start" textLength="34.51" lengthAdjust="spacingAndGlyphs">Ttr</text>
<text x="1497.83" y="366.9" font-size="27.5" fill="#fff" font-weight="normal" text-anchor="start" textLength="59.43" lengthAdjust="spacingAndGlyphs">Sez6</text>
<text x="1674.95" y="366.9" font-size="27.5" fill="#fff" font-weight="normal" text-anchor="start" textLength="70.83" lengthAdjust="spacingAndGlyphs">Sgk1,</text>
<text x="1669.11" y="401.6" font-size="27.5" fill="#fff" font-weight="normal" text-anchor="start" textLength="81.24" lengthAdjust="spacingAndGlyphs">Supt7l</text>
<text x="1304.08" y="311.1" font-size="25.6" fill="#111" font-weight="normal" text-anchor="start" textLength="15.1" lengthAdjust="spacingAndGlyphs">3</text>
<text x="1522.38" y="311.1" font-size="25.6" fill="#111" font-weight="normal" text-anchor="start" textLength="16.87" lengthAdjust="spacingAndGlyphs">2</text>
<text x="1719.21" y="311.1" font-size="25.6" fill="#111" font-weight="normal" text-anchor="start" textLength="16.62" lengthAdjust="spacingAndGlyphs">2</text>
<text x="1310.56" y="784.6" font-size="27.5" fill="#fff" font-weight="normal" text-anchor="start" textLength="179.36" lengthAdjust="spacingAndGlyphs">Meg3, Malat1,</text>
<text x="1331.84" y="819.5" font-size="27.5" fill="#fff" font-weight="normal" text-anchor="start" textLength="136.91" lengthAdjust="spacingAndGlyphs">Mt3, Lars2,</text>
<text x="1337.18" y="852.7" font-size="27.5" fill="#fff" font-weight="normal" text-anchor="start" textLength="125.08" lengthAdjust="spacingAndGlyphs">Gm42418</text>
<text x="1624.9" y="818.3" font-size="27.5" fill="#fff" font-weight="normal" text-anchor="start" textLength="193.34" lengthAdjust="spacingAndGlyphs">Mpc1, Pla2g16,</text>
<text x="1629.87" y="853.5" font-size="27.5" fill="#fff" font-weight="normal" text-anchor="start" textLength="182.04" lengthAdjust="spacingAndGlyphs">Dbi, Gm10076</text>
<text x="1286.01" y="964" font-size="27.5" fill="#fff" font-weight="normal" text-anchor="start" textLength="191.37" lengthAdjust="spacingAndGlyphs">Nme7, Serinc1,</text>
<text x="1309.88" y="998.5" font-size="27.5" fill="#fff" font-weight="normal" text-anchor="start" textLength="142.49" lengthAdjust="spacingAndGlyphs">Rtn4, Crym</text>
<text x="1512.16" y="963.6" font-size="27.5" fill="#fff" font-weight="normal" text-anchor="start" textLength="62.97" lengthAdjust="spacingAndGlyphs">Mapt</text>
<text x="1651.81" y="963.5" font-size="27.5" fill="#fff" font-weight="normal" text-anchor="start" textLength="151.44" lengthAdjust="spacingAndGlyphs">Nrgn, Gria2,</text>
<text x="1622.33" y="998.1" font-size="27.5" fill="#fff" font-weight="normal" text-anchor="start" textLength="209.73" lengthAdjust="spacingAndGlyphs">Ppp3ca, Ppp3cb,</text>
<text x="1630.35" y="1032.6" font-size="27.5" fill="#fff" font-weight="normal" text-anchor="start" textLength="191.59" lengthAdjust="spacingAndGlyphs">Cadm2, St8sia3</text>
<text x="1357.83" y="908.8" font-size="25.6" fill="#111" font-weight="normal" text-anchor="start" textLength="15.99" lengthAdjust="spacingAndGlyphs">9</text>
<text x="1536.37" y="908.8" font-size="25.6" fill="#111" font-weight="normal" text-anchor="start" textLength="11.32" lengthAdjust="spacingAndGlyphs">1</text>
<text x="1730.34" y="908.8" font-size="25.6" fill="#111" font-weight="normal" text-anchor="start" textLength="29.1" lengthAdjust="spacingAndGlyphs">10</text>
<text x="0" y="0" font-size="25.6" fill="#111" font-weight="normal" text-anchor="start" textLength="81.42" lengthAdjust="spacingAndGlyphs" transform="translate(28.2 292.63) rotate(-90)">UMAP2</text>
<text x="0" y="0" font-size="25.6" fill="#111" font-weight="normal" text-anchor="start" textLength="81.84" lengthAdjust="spacingAndGlyphs" transform="translate(609.0 293.04) rotate(-90)">UMAP2</text>
<text x="0" y="0" font-size="25.6" fill="#111" font-weight="normal" text-anchor="start" textLength="81.32" lengthAdjust="spacingAndGlyphs" transform="translate(29.4 949.83) rotate(-90)">UMAP2</text>
<text x="0" y="0" font-size="24.4" fill="#111" font-weight="normal" text-anchor="start" textLength="76.96" lengthAdjust="spacingAndGlyphs" transform="translate(616.2 943.03) rotate(-90)">UMAP2</text>
<g font-weight="bold" stroke="#fff" stroke-width="2.6" stroke-linejoin="round" paint-order="stroke" fill="#000" text-anchor="middle">
<text x="240.3" y="120.1" font-size="27.2">12</text>
<text x="143.3" y="201.5" font-size="27.2">0</text>
<text x="408.2" y="176.4" font-size="27.2">2</text>
<text x="295.6" y="223.2" font-size="27.2">5</text>
<text x="476.1" y="223.2" font-size="27.2">6</text>
<text x="357.5" y="264.4" font-size="27.2">4</text>
<text x="431.4" y="287.5" font-size="27.2">8</text>
<text x="180.0" y="309.7" font-size="27.2">9</text>
<text x="245.3" y="337.3" font-size="27.2">1</text>
<text x="349.4" y="375.5" font-size="27.2">3</text>
<text x="481.6" y="394.1" font-size="27.2">7</text>
<text x="235.3" y="433.7" font-size="27.2">11</text>
<text x="259.9" y="493.7" font-size="27.2">10</text>
<text x="276.9" y="747.2" font-size="27.2">10</text>
<text x="209.3" y="775.0" font-size="27.2">8</text>
<text x="309.2" y="837.7" font-size="27.2">3</text>
<text x="376.8" y="876.4" font-size="27.2">9</text>
<text x="426.5" y="872.0" font-size="27.2">13</text>
<text x="111.8" y="923.7" font-size="27.2">2</text>
<text x="158.6" y="920.2" font-size="27.2">5</text>
<text x="220.7" y="949.0" font-size="27.2">6</text>
<text x="473.7" y="951.5" font-size="27.2">1</text>
<text x="338.0" y="970.9" font-size="27.2">0</text>
<text x="143.2" y="995.7" font-size="27.2">4</text>
<text x="298.3" y="1032.0" font-size="27.2">11</text>
<text x="412.6" y="1032.0" font-size="27.2">12</text>
<text x="224.7" y="1051.9" font-size="27.2">7</text>
</g>
<text x="782.44" y="216.7" font-size="27.2" font-weight="bold" stroke="#fff" stroke-width="2.6" stroke-linejoin="round" paint-order="stroke" fill="#000" textLength="172.64" lengthAdjust="spacingAndGlyphs">hippocampus</text>
<text x="895.66" y="264.5" font-size="27.2" font-weight="bold" stroke="#fff" stroke-width="2.6" stroke-linejoin="round" paint-order="stroke" fill="#000" textLength="64.83" lengthAdjust="spacingAndGlyphs">other</text>
<text x="772.07" y="460.2" font-size="27.2" font-weight="bold" stroke="#fff" stroke-width="2.6" stroke-linejoin="round" paint-order="stroke" fill="#000" textLength="107.91" lengthAdjust="spacingAndGlyphs">ventricle</text>
<text x="802.27" y="745.8" font-size="27.2" font-weight="bold" stroke="#fff" stroke-width="2.6" stroke-linejoin="round" paint-order="stroke" fill="#000" textLength="109.12" lengthAdjust="spacingAndGlyphs">ventricle</text>
<text x="795.65" y="936.2" font-size="27.2" font-weight="bold" stroke="#fff" stroke-width="2.6" stroke-linejoin="round" paint-order="stroke" fill="#000" textLength="65.85" lengthAdjust="spacingAndGlyphs">other</text>
<text x="718.43" y="1051.9" font-size="27.2" font-weight="bold" stroke="#fff" stroke-width="2.6" stroke-linejoin="round" paint-order="stroke" fill="#000" textLength="173.96" lengthAdjust="spacingAndGlyphs">hippocampus</text>
</g>
</svg>
</body></html>
